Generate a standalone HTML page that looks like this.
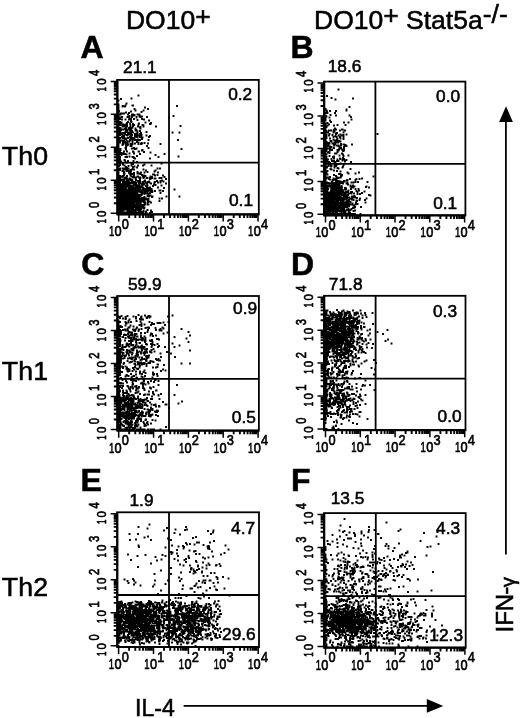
<!DOCTYPE html>
<html><head><meta charset="utf-8"><title>Figure</title>
<style>html,body{margin:0;padding:0;background:#fff}svg{display:block}text{font-family:"Liberation Sans",sans-serif;fill:#000;stroke:#000;stroke-width:.55px}.tk{font-size:14.7px;stroke-width:.65px}.tv{font-size:13.6px;stroke-width:.65px}.h{font-size:26.5px}.r{font-size:26.7px;letter-spacing:.15px}.p{font-size:32px;font-weight:bold}.n{font-size:17.3px}.ax{font-size:24px}</style></head><body>
<svg width="520" height="718" viewBox="0 0 520 718">
<rect width="520" height="718" fill="#fff"/>
<path d="M140 183h.01M127 206.5h.01M118.5 198h.01M118.5 213h.01M128.5 197h.01M132 208h.01M126.5 199h.01M118.5 192.5h.01M129.5 173h.01M128.5 200h.01M139 196.5h.01M136 202h.01M128.5 187.5h.01M133.5 197h.01M118.5 193.5h.01M127 191h.01M128.5 187h.01M126 196h.01M133.5 210h.01M122 203.5h.01M147 199.5h.01M133 192h.01M123.5 213h.01M136.5 202.5h.01M134 212h.01M122 185h.01M141.5 212h.01M118.5 199h.01M134 196.5h.01M129.5 209h.01M132.5 186.5h.01M122 213h.01M118.5 190.5h.01M118.5 199.5h.01M118.5 200h.01M124 198h.01M142 194h.01M140.5 200h.01M121.5 194.5h.01M128 211.5h.01M131 204.5h.01M118.5 200.5h.01M118.5 204h.01M125 185h.01M127.5 198.5h.01M130.5 213h.01M139.5 209.5h.01M131 210.5h.01M118.5 202.5h.01M146 191h.01M120 201.5h.01M118.5 198.5h.01M120.5 191h.01M118.5 202h.01M118.5 206h.01M134 197h.01M132.5 186h.01M138.5 213h.01M132 213h.01M125.5 178h.01M124.5 202.5h.01M128 198h.01M126.5 206.5h.01M137.5 189h.01M124 195h.01M133 187.5h.01M130.5 191h.01M123.5 209.5h.01M121 187.5h.01M136.5 197h.01M120.5 195h.01M143.5 184h.01M119 199h.01M118.5 210.5h.01M128.5 198h.01M136.5 185h.01M135 184.5h.01M120.5 210.5h.01M131.5 170h.01M130 210.5h.01M129 183.5h.01M118.5 190h.01M120 185h.01M134.5 195h.01M147.5 202.5h.01M119 179h.01M118.5 175h.01M126 209.5h.01M126.5 197h.01M128.5 200.5h.01M137.5 213h.01M120.5 201h.01M145.5 213h.01M123 210.5h.01M119.5 191.5h.01M130.5 183h.01M120 195.5h.01M138.5 189h.01M123 186.5h.01M118.5 179.5h.01M128 199.5h.01M129 189.5h.01M144.5 200h.01M122.5 192h.01M135 202.5h.01M138 209h.01M118.5 195.5h.01M128 181.5h.01M132 195h.01M132.5 202h.01M127 212.5h.01M132 207h.01M121.5 191h.01M136 209h.01M147.5 204.5h.01M135 188.5h.01M128.5 196.5h.01M145 189h.01M131 213h.01M118.5 186h.01M128.5 208.5h.01M119.5 201.5h.01M133.5 194.5h.01M137 207h.01M136.5 203.5h.01M123 180h.01M127 200h.01M124 202.5h.01M142.5 184h.01M137.5 199h.01M131 194h.01M127.5 181h.01M144.5 184.5h.01M118.5 179h.01M133.5 203h.01M126 186.5h.01M138.5 189.5h.01M135 199.5h.01M118.5 205h.01M125 195h.01M150 213h.01M131.5 199.5h.01M129.5 184h.01M139.5 200h.01M120.5 212.5h.01M125.5 185h.01M123.5 191h.01M134 194h.01M137.5 199.5h.01M123 189.5h.01M133.5 204h.01M119.5 187h.01M126.5 196h.01M126.5 194.5h.01M122.5 199.5h.01M139.5 191.5h.01M121.5 180.5h.01M118.5 197.5h.01M133.5 188h.01M127.5 202.5h.01M132.5 200.5h.01M131.5 213h.01M130.5 206.5h.01M136 190.5h.01M134 202.5h.01M131 202h.01M118.5 177.5h.01M134 213h.01M135.5 213h.01M124 204.5h.01M121 196h.01M123 213h.01M145 202.5h.01M133 207.5h.01M119 192.5h.01M120 207h.01M123 200h.01M123 194h.01M132 192.5h.01M131.5 207.5h.01M119.5 207.5h.01M120 213h.01M127.5 186h.01M119 197.5h.01M118.5 191.5h.01M146 211.5h.01M124 183.5h.01M130 197h.01M136 183h.01M133 204.5h.01M119 213h.01M118.5 186.5h.01M125 212.5h.01M140 213h.01M139.5 202h.01M130 191h.01M129 185h.01M126.5 202h.01M119.5 213h.01M119 188h.01M135 183.5h.01M155 191h.01M131.5 212h.01M124 175h.01M132 200h.01M129.5 213h.01M118.5 212h.01M136.5 200h.01M130 209h.01M131 190.5h.01M142.5 182h.01M133 192.5h.01M126.5 181h.01M133 198h.01M124.5 197.5h.01M118.5 208.5h.01M130 204.5h.01M123.5 185.5h.01M124.5 184.5h.01M126.5 182.5h.01M139.5 200.5h.01M118.5 197h.01M128 212h.01M120 192.5h.01M141 186.5h.01M139 186.5h.01M128.5 213h.01M134.5 189h.01M126 198.5h.01M118.5 194.5h.01M123 188.5h.01M121.5 193.5h.01M135 198h.01M118.5 211h.01M132.5 209.5h.01M138 199.5h.01M132 207.5h.01M125.5 213h.01M124 192.5h.01M118.5 207.5h.01M126 197.5h.01M118.5 191h.01M118.5 207h.01M140.5 209h.01M118.5 210h.01M119 206h.01M118.5 209h.01M143 205.5h.01M136.5 213h.01M132 211.5h.01M121.5 191.5h.01M121 213h.01M120.5 200h.01M132.5 209h.01M123 197.5h.01M118.5 194h.01M125 200h.01M122.5 208.5h.01M121 211.5h.01M128 191.5h.01M132.5 204h.01M144 189.5h.01M134 185h.01M124.5 184h.01M128 185h.01M135 182h.01M132.5 205.5h.01M131 171.5h.01M148.5 194h.01M120 205h.01M128 205h.01M122 203h.01M137.5 200.5h.01M141 207h.01M120 203.5h.01M120.5 199.5h.01M137 185.5h.01M118.5 185h.01M127.5 181.5h.01M124.5 207h.01M134.5 192h.01M121.5 198h.01M127.5 195h.01M127 195.5h.01M140.5 201.5h.01M118.5 181.5h.01M138 187.5h.01M135 192.5h.01M130 191.5h.01M131.5 209h.01M120 202h.01M124.5 207.5h.01M129.5 198.5h.01M132.5 213h.01M122 189h.01M118.5 185.5h.01M126.5 204.5h.01M136 186h.01M136 195h.01M134.5 190h.01M130 197.5h.01M128 201h.01M125.5 193h.01M118.5 211.5h.01M121 207.5h.01M121.5 204.5h.01M149 189.5h.01M118.5 203.5h.01M118.5 206.5h.01M122.5 199h.01M120 189.5h.01M133 177.5h.01M122.5 213h.01M126 169.5h.01M140 179h.01M139 213h.01M130.5 197h.01M131 209.5h.01M118.5 176h.01M139 195h.01M121 196.5h.01M118.5 188.5h.01M128 200h.01M122 199h.01M136.5 196h.01M125.5 207.5h.01M139 184.5h.01M133.5 213h.01M122.5 188h.01M126.5 185h.01M122 190h.01M122 201h.01M120 208h.01M143 199.5h.01M134.5 212.5h.01M130.5 206h.01M132 190h.01M121.5 199h.01M118.5 187h.01M145 193h.01M121 206h.01M123.5 189h.01M118.5 183h.01M140 179.5h.01M153 186h.01M151 210.5h.01M136 213h.01M143 207.5h.01M135 189h.01M130 213h.01M126 208.5h.01M140.5 203.5h.01M139 200h.01M129.5 193h.01M121 211h.01M132 202h.01M118.5 189.5h.01M131 197h.01M132.5 193.5h.01M118.5 208h.01M130 196.5h.01M135 210.5h.01M136 180h.01M136 212h.01M121.5 176.5h.01M135 205.5h.01M120.5 210h.01M144 205h.01M134.5 198.5h.01M131.5 181.5h.01M128 211h.01M140 211h.01M124 200h.01M133 208h.01M129.5 190h.01M126 199.5h.01M139 201h.01M137 213h.01M123 190h.01M134 185.5h.01M143.5 199h.01M118.5 184h.01M138.5 208h.01M145.5 212.5h.01M121.5 197h.01M132.5 197.5h.01M125 177.5h.01M119 203h.01M122.5 209h.01M128.5 210.5h.01M123.5 210.5h.01M142.5 201.5h.01M131 195.5h.01M133.5 200h.01M118.5 195h.01M128.5 202.5h.01M131 199.5h.01M124 203h.01M125.5 190h.01M118.5 196h.01M138 213h.01M130.5 201.5h.01M129.5 202.5h.01M118.5 183.5h.01M130 186h.01M118.5 187.5h.01M135 199h.01M119.5 200.5h.01M127 208h.01M125 198.5h.01M141.5 199.5h.01M151 211h.01M125 185.5h.01M118.5 192h.01M130.5 204.5h.01M124 182h.01M121.5 195.5h.01M131 185.5h.01M118.5 201.5h.01M133 189.5h.01M123.5 182.5h.01M125.5 191h.01M119 186h.01M135.5 178.5h.01M122 210.5h.01M135 195h.01M121 212.5h.01M134.5 213h.01M121.5 187h.01M123.5 193.5h.01M131.5 192h.01M137.5 191.5h.01M122.5 211.5h.01M123.5 205.5h.01M130.5 185.5h.01M134.5 205.5h.01M128.5 198.5h.01M121.5 184.5h.01M133 194.5h.01M124 198.5h.01M126.5 180.5h.01M125 201h.01M141 190.5h.01M133.5 193h.01M126 195h.01M132 197h.01M123 206h.01M135.5 201.5h.01M131.5 212.5h.01M134.5 210.5h.01M133.5 206h.01M120 211.5h.01M138 207.5h.01M123 199.5h.01M120 198.5h.01M129 187.5h.01M119 200.5h.01M124.5 185.5h.01M118.5 196.5h.01M119 209.5h.01M135 196.5h.01M124 204h.01M131.5 201.5h.01M131.5 203.5h.01M137.5 181h.01M137 188.5h.01M124.5 183h.01M130.5 212h.01M152 197h.01M139.5 205.5h.01M118.5 189h.01M135 206h.01M129 212.5h.01M137.5 194.5h.01M142 194.5h.01M130.5 194.5h.01M122.5 168.5h.01M139 206.5h.01M127 179h.01M127 185h.01M122.5 193.5h.01M118.5 178.5h.01M144.5 199h.01M137 194.5h.01M120 192h.01M131 209h.01M121.5 212.5h.01M123 199h.01M133.5 185h.01M148.5 195.5h.01M134 183.5h.01M134 193h.01M141.5 201.5h.01M129 210h.01M129 213h.01M130.5 187.5h.01M144.5 207.5h.01M132.5 190h.01M128 197h.01M132.5 195.5h.01M128 213h.01M129 206.5h.01M142 175h.01M137 197h.01M137.5 205h.01M125.5 197.5h.01M139 207h.01M122 192h.01M132.5 200h.01M142 205h.01M121.5 213h.01M119 209h.01M126.5 180h.01M137.5 188h.01M119 207.5h.01M134 199.5h.01M152.5 196.5h.01M123 190.5h.01M142.5 200h.01M121 186.5h.01M121 195h.01M132 180h.01M125 208h.01M120.5 197h.01M132.5 180.5h.01M119.5 200h.01M118.5 204.5h.01M121 194h.01M123.5 201.5h.01M127 202h.01M120.5 211h.01M135.5 189h.01M133.5 195h.01M118.5 182.5h.01M129 182h.01M119 187.5h.01M143 188h.01M129.5 187h.01M121.5 180h.01M144.5 191.5h.01M118.5 180.5h.01M140.5 202.5h.01M142.5 186h.01M121 204.5h.01M129.5 186.5h.01M143 182.5h.01M137.5 186h.01M126.5 197.5h.01M131.5 193.5h.01M127 208.5h.01M124.5 183.5h.01M144 202h.01M119 194.5h.01M142.5 187h.01M135.5 188.5h.01M123.5 197.5h.01M130.5 179h.01M130 201h.01M118.5 193h.01M140 202h.01M131 186.5h.01M119.5 199.5h.01M144.5 200.5h.01M147 189.5h.01M129 193h.01M138 195h.01M146 199.5h.01M118.5 178h.01M136 205h.01M138.5 203.5h.01M136.5 205h.01M124 193h.01M118.5 209.5h.01M122.5 177.5h.01M130 211.5h.01M136.5 189.5h.01M149 196.5h.01M121 189.5h.01M118.5 203h.01M131.5 190.5h.01M131.5 176.5h.01M129.5 194.5h.01M141.5 213h.01M135 210h.01M118.5 212.5h.01M123.5 170.5h.01M123.5 201h.01M138 176.5h.01M126 194h.01M123 182h.01M126 191h.01M124.5 186.5h.01M146.5 213h.01M128 202h.01M118.5 176.5h.01M130 202.5h.01M126.5 201h.01M119.5 182.5h.01M134 206.5h.01M133 199.5h.01M125.5 191.5h.01M151.5 189h.01M125 205.5h.01M127.5 199h.01M129 198.5h.01M126 185h.01M144 197.5h.01M143 188.5h.01M139 195.5h.01M128.5 190h.01M128.5 192h.01M123 206.5h.01M136.5 203h.01M131 197.5h.01M137 201.5h.01M124 207.5h.01M136 193.5h.01M120.5 213h.01M145 204.5h.01M133.5 207.5h.01M121 185h.01M137.5 195h.01M132.5 203h.01M141 205.5h.01M119 205.5h.01M126 207.5h.01M136 197.5h.01M131 196h.01M137.5 186.5h.01M129.5 171.5h.01M124.5 205h.01M127.5 211h.01M123.5 188h.01M129 201.5h.01M134 175h.01M121 204h.01M120.5 194h.01M144.5 172.5h.01M142.5 198h.01M122 187h.01M125 200.5h.01M135 207.5h.01M120.5 185.5h.01M118.5 201h.01M135.5 197.5h.01M137 192h.01M126 213h.01M134.5 199h.01M121 193h.01M136.5 191h.01M121 199h.01M152 212h.01M127 198h.01M142 192h.01M128.5 201.5h.01M139.5 197.5h.01M125.5 196.5h.01M133.5 198h.01M129 190h.01M119 201h.01M132 203.5h.01M121 189h.01M133 197.5h.01M127.5 192h.01M130.5 201h.01M138.5 182.5h.01M128 196h.01M124 189h.01M126 203.5h.01M144.5 204h.01M128 190h.01M126 187.5h.01M126.5 195.5h.01M126.5 191.5h.01M119.5 189h.01M137 209.5h.01M127 178.5h.01M143 213h.01M122.5 201.5h.01M143 190h.01M136 207h.01M147.5 210h.01M126.5 208.5h.01M132 198h.01M133 186.5h.01M138 210.5h.01M133 189h.01M122.5 202.5h.01M139 191.5h.01M127.5 183.5h.01M144 208.5h.01M125 202h.01M131.5 186.5h.01M143 200h.01M130 189h.01M138.5 201.5h.01M140.5 213h.01M121.5 206.5h.01M145 180.5h.01M134.5 196.5h.01M128.5 190.5h.01M131.5 206h.01M150 190.5h.01M131 195h.01M118.5 182h.01M131 192.5h.01M121.5 186.5h.01M137 206h.01M122.5 196.5h.01M131.5 181h.01M131 193h.01M131.5 190h.01M136 195.5h.01M129.5 201.5h.01M122 204h.01M119 187h.01M134.5 211.5h.01M121.5 187.5h.01M129.5 197.5h.01M129 195.5h.01M119 182.5h.01M123 196.5h.01M140.5 192.5h.01M127.5 200h.01M130.5 190h.01M118.5 180h.01M126 189.5h.01M122.5 184h.01M137 195h.01M133 201.5h.01M122 189.5h.01M127 181.5h.01M138.5 195.5h.01M118.5 205.5h.01M142.5 207.5h.01M133.5 186.5h.01M142.5 193h.01M131 208.5h.01M125 194h.01M132.5 188.5h.01M139.5 213h.01M132 187.5h.01M134 198h.01M129 201h.01M119.5 209h.01M159.5 201h.01M135.5 199h.01M136 177.5h.01M119.5 204.5h.01M133.5 185.5h.01M140 202.5h.01M128.5 206.5h.01M127 197.5h.01M131.5 199h.01M118.5 188h.01M125 213h.01M142 193h.01M120 196h.01M133 197h.01M137.5 200h.01M127.5 205h.01M121 202h.01M128.5 211.5h.01M127.5 202h.01M130 201.5h.01M137 203.5h.01M120.5 197.5h.01M143.5 176h.01M120.5 203h.01M129 205h.01M130 195.5h.01M132 196.5h.01M126 196.5h.01M126.5 205h.01M125 207.5h.01M119 200h.01M127 191.5h.01M120 203h.01M135.5 202h.01M120.5 207.5h.01M124.5 191h.01M123 204h.01M127 194.5h.01M124 207h.01M135.5 192.5h.01M133.5 187.5h.01M151 202.5h.01M128 192.5h.01M132.5 199.5h.01M121.5 201h.01M132.5 191.5h.01M121 200.5h.01M122.5 194h.01M134 204.5h.01M137.5 193.5h.01M127 199h.01M125.5 201.5h.01M129 204.5h.01M127 203.5h.01M122.5 195.5h.01M123.5 203.5h.01M126.5 209h.01M127.5 194.5h.01M121 208.5h.01M144.5 192h.01M127 199.5h.01M141.5 208.5h.01M123.5 200h.01M127 183.5h.01M132 197.5h.01M123.5 187h.01M135 213h.01M122.5 201h.01M137 205h.01M123 197h.01M123 195h.01M144.5 184h.01M138 188.5h.01M133 202.5h.01M121.5 185h.01M124 196.5h.01M119.5 203h.01M122.5 163.5h.01M118.5 173h.01M125.5 192h.01M123 209.5h.01M120.5 202h.01M127.5 213h.01M120.5 205h.01M132 196h.01M148 202h.01M130 205.5h.01M155 175.5h.01M146.5 198.5h.01M137.5 205.5h.01M146.5 178h.01M125 198h.01M123.5 171.5h.01M121.5 211h.01M138.5 188h.01M123.5 204.5h.01M131 196.5h.01M120 181h.01M129.5 193.5h.01M129.5 202h.01M119 201.5h.01M135.5 188h.01M126.5 177.5h.01M124 174h.01M140.5 196.5h.01M124 186.5h.01M133.5 182h.01M141 195h.01M131.5 208.5h.01M132 206.5h.01M145 199.5h.01M129.5 173.5h.01M123 191.5h.01M125.5 182h.01M139 188.5h.01M141 209.5h.01M135.5 198.5h.01M148.5 199h.01M124.5 196.5h.01M127.5 210h.01M135.5 210h.01M138.5 209h.01M132.5 194h.01M120.5 201.5h.01M130 194h.01M122.5 184.5h.01M124.5 178.5h.01M140.5 187h.01M136 184.5h.01M128.5 199.5h.01M128 210h.01M126.5 207h.01M130 208.5h.01M129 199h.01M140 190.5h.01M119 204.5h.01M130.5 197.5h.01M135 196h.01M121.5 186h.01M130.5 203.5h.01M126.5 184h.01M141 199.5h.01M123.5 207h.01M122.5 190.5h.01M138.5 198h.01M139 211.5h.01M131 192h.01M130.5 191.5h.01M130.5 180h.01M122.5 197h.01M133 195h.01M125 199h.01M137.5 202h.01M120 200h.01M126.5 191h.01M125.5 188.5h.01M144.5 197h.01M129.5 199h.01M136.5 193h.01M131 203.5h.01M134 177h.01M128 186.5h.01M130 200.5h.01M135.5 207.5h.01M131.5 187.5h.01M118.5 184.5h.01M127 196h.01M135 195.5h.01M128.5 188h.01M138.5 210h.01M124.5 203.5h.01M132 183h.01M148.5 204.5h.01M140 196.5h.01M136.5 192h.01M145.5 192h.01M127.5 199.5h.01M140 195h.01M120 197.5h.01M132 210.5h.01M120 188h.01M132 211h.01M140 199h.01M123 200.5h.01M137 202.5h.01M122.5 206h.01M129.5 203h.01M134.5 184.5h.01M134 200.5h.01M139 191h.01M122.5 204.5h.01M126 205h.01M128.5 210h.01M130.5 209.5h.01M129 199.5h.01M129 198h.01M147.5 196h.01M128.5 171h.01M126 200.5h.01M134 198.5h.01M139.5 198h.01M122 202.5h.01M141 204.5h.01M134 210.5h.01M124 209h.01M144 189h.01M143.5 199.5h.01M126.5 196.5h.01M122 205.5h.01M131 202.5h.01M145 199h.01M128.5 203h.01M128.5 194h.01M126 205.5h.01M122 201.5h.01M143.5 211h.01M136 202.5h.01M125 209.5h.01M125.5 192.5h.01M151.5 189.5h.01M130 199h.01M129 202.5h.01M133.5 174h.01M128 184h.01M140.5 207h.01M127.5 207h.01M125.5 201h.01M135.5 194h.01M160 168.5h.01M129.5 179.5h.01M123 176h.01M159.5 178h.01M149.5 201.5h.01M132 187h.01M145.5 182.5h.01M154.5 182.5h.01M142.5 192h.01M135.5 185h.01M144 175.5h.01M154.5 178.5h.01M146 170.5h.01M137.5 172h.01M163.5 181.5h.01M138.5 188.5h.01M148 200h.01M160.5 190.5h.01M130 179.5h.01M145.5 190.5h.01M160.5 193h.01M138 196.5h.01M166 179h.01M127.5 179.5h.01M137.5 190.5h.01M142.5 199.5h.01M147 183.5h.01M163 191h.01M137.5 176.5h.01M150 193h.01M127.5 193.5h.01M153 174.5h.01M154 184.5h.01M135.5 196.5h.01M122.5 171h.01M139 181h.01M150.5 176.5h.01M159.5 190.5h.01M127.5 184h.01M142 198.5h.01M144.5 188.5h.01M143.5 177.5h.01M151 183.5h.01M124 180.5h.01M149.5 182.5h.01M147 187h.01M162 180.5h.01M157 181h.01M147 187.5h.01M159.5 198.5h.01M161.5 185.5h.01M148 188h.01M122.5 191h.01M150 187.5h.01M150.5 191h.01M123 184.5h.01M139.5 190h.01M162 198.5h.01M146 186h.01M160.5 182.5h.01M149 181.5h.01M147.5 185.5h.01M143 176.5h.01M147.5 192.5h.01M147.5 172h.01M147.5 193h.01M166.5 196.5h.01M132 174h.01M155.5 178.5h.01M140 189.5h.01M130.5 173.5h.01M151.5 165.5h.01M150.5 179h.01M151 190h.01M157.5 175h.01M129.5 178.5h.01M148 182h.01M140.5 174h.01M147.5 178h.01M149.5 189h.01M130.5 170h.01M166 183.5h.01M158 172.5h.01M163 175.5h.01M143.5 178h.01M139 181.5h.01M150 178h.01M150.5 190h.01M144.5 194h.01M150 179h.01M143 184.5h.01M150.5 195.5h.01M143 165.5h.01M161.5 178h.01M140.5 191h.01M148 188.5h.01M139 177.5h.01M148 191h.01M164 188h.01M143 176h.01M164.5 177h.01M149.5 188.5h.01M134 182h.01M144 181.5h.01M120 195h.01M154.5 171.5h.01M147 193.5h.01M152 190.5h.01M141.5 185.5h.01M154 174.5h.01M152.5 191.5h.01M158 187.5h.01M127 176h.01M140.5 188.5h.01M139 173.5h.01M155 182h.01M152 178h.01M140.5 177.5h.01M134.5 166.5h.01M132 188h.01M144 177h.01M148 190.5h.01M152 177h.01M131.5 201h.01M152 192h.01M157.5 168.5h.01M160.5 181h.01M155.5 185h.01M140 181.5h.01M146 182.5h.01M145.5 176h.01M141.5 184h.01M158 182.5h.01M155.5 170.5h.01M144.5 198.5h.01M124 141h.01M131.5 146h.01M130.5 130.5h.01M118.5 110.5h.01M123 154h.01M121 123.5h.01M161.5 163.5h.01M122 117h.01M122 133.5h.01M124.5 134.5h.01M132 148.5h.01M119 155.5h.01M131.5 98.5h.01M141 135.5h.01M142.5 125h.01M126 143.5h.01M130.5 146h.01M129 128h.01M118.5 151h.01M126 146h.01M128 129.5h.01M133 124h.01M130 130h.01M128 133h.01M128.5 134h.01M125.5 129.5h.01M137.5 114.5h.01M145.5 122.5h.01M123 153.5h.01M118.5 138.5h.01M131 119h.01M130 134h.01M118.5 123.5h.01M148.5 140h.01M151 123h.01M120.5 125h.01M131.5 128.5h.01M118.5 128.5h.01M138.5 151.5h.01M134 115.5h.01M132.5 144h.01M127 123h.01M135 135.5h.01M122.5 144.5h.01M127 151.5h.01M133 105.5h.01M127 135h.01M130.5 125.5h.01M126.5 126h.01M120.5 150h.01M123 126.5h.01M122.5 145h.01M131.5 163.5h.01M124.5 168.5h.01M122.5 106.5h.01M118.5 118h.01M123 142.5h.01M125.5 105.5h.01M123 133h.01M124 138h.01M136.5 130h.01M130.5 144h.01M131 137.5h.01M128.5 133h.01M123.5 153h.01M133.5 161h.01M138.5 142.5h.01M119.5 119h.01M122.5 133.5h.01M119.5 128h.01M132.5 138h.01M127 157h.01M141 144h.01M127.5 141.5h.01M131.5 137.5h.01M125 138.5h.01M131 111.5h.01M118.5 119h.01M130 127.5h.01M122 119.5h.01M137 162h.01M118.5 109.5h.01M123 138h.01M118.5 134.5h.01M129.5 141.5h.01M142.5 137.5h.01M137.5 133.5h.01M131 138.5h.01M123 113.5h.01M140.5 117h.01M122 140.5h.01M130.5 139.5h.01M135.5 110.5h.01M123.5 140.5h.01M118.5 116h.01M131 129.5h.01M122 134h.01M126 144h.01M134.5 115h.01M142 139h.01M160.5 144h.01M129.5 153.5h.01M126 130h.01M122.5 136h.01M119 140.5h.01M118.5 141h.01M118.5 146.5h.01M124 136.5h.01M142 150.5h.01M121.5 122.5h.01M119.5 140h.01M151 123.5h.01M150 136h.01M118.5 129h.01M119.5 131h.01M133 126h.01M120.5 132.5h.01M133 114.5h.01M125 106.5h.01M135.5 128.5h.01M122.5 129.5h.01M135.5 149h.01M135.5 130.5h.01M126.5 146h.01M127 124.5h.01M146.5 132h.01M125.5 124.5h.01M139 123.5h.01M127.5 170h.01M131 135.5h.01M118.5 133.5h.01M118.5 139h.01M141.5 143h.01M128 134.5h.01M118.5 161.5h.01M125 142h.01M130.5 137.5h.01M132.5 140.5h.01M132.5 142h.01M134 125h.01M125 134.5h.01M148 143.5h.01M127 131h.01M118.5 113.5h.01M135 136.5h.01M138.5 95.5h.01M120.5 114.5h.01M147 146h.01M134 153.5h.01M132 144.5h.01M135 140h.01M142 116.5h.01M146.5 135.5h.01M126 138.5h.01M119 138h.01M137.5 120h.01M133.5 157h.01M145 107.5h.01M138 140h.01M136 135.5h.01M118.5 117.5h.01M138 126.5h.01M136.5 133.5h.01M118.5 112h.01M126 139h.01M134 158h.01M127 125.5h.01M127 169h.01M131 121h.01M118.5 100.5h.01M131 133h.01M134 119h.01M132 135h.01M133 151.5h.01M150 158.5h.01M127.5 145h.01M130.5 135.5h.01M140 135.5h.01M126.5 103.5h.01M119 134h.01M125.5 119.5h.01M129.5 116h.01M121.5 129.5h.01M135 134h.01M132.5 157h.01M134.5 138h.01M148.5 148h.01M118.5 104.5h.01M149 137h.01M118.5 144.5h.01M132.5 127.5h.01M139.5 116.5h.01M136 136.5h.01M143.5 110.5h.01M133 139.5h.01M137.5 131.5h.01M129 132.5h.01M141.5 112h.01M140 127.5h.01M125.5 157h.01M127 126.5h.01M120.5 128h.01M121 130h.01M118.5 128h.01M136.5 148.5h.01M130 140h.01M131 145h.01M124.5 160h.01M126.5 171h.01M132.5 105.5h.01M124 140.5h.01M130 128h.01M137 142h.01M126 128h.01M133.5 152h.01M134.5 109h.01M118.5 140h.01M126 149.5h.01M131 128h.01M139 151.5h.01M142 143.5h.01M140 134h.01M143.5 125.5h.01M129 119.5h.01M123 124.5h.01M118.5 136h.01M149 120.5h.01M119.5 114.5h.01M125.5 125h.01M124 113.5h.01M126 143h.01M125 154h.01M136.5 117.5h.01M143.5 126.5h.01M128 114.5h.01M144.5 143h.01M129.5 117.5h.01M140.5 128.5h.01M141.5 137.5h.01M128.5 166h.01M124 137.5h.01M141.5 135h.01M126 132h.01M126 162.5h.01M127.5 143.5h.01M124.5 125h.01M118.5 137.5h.01M123.5 137.5h.01M130 123.5h.01M118.5 136.5h.01M118.5 158.5h.01M131 132.5h.01M122 137h.01M121 113.5h.01M147 117h.01M133 132.5h.01M128 138h.01M123.5 144h.01M121 99h.01M135 143.5h.01M122.5 126h.01M148 109h.01M119.5 153h.01M123 129.5h.01M124 142.5h.01M150.5 152.5h.01M136.5 136h.01M123 106h.01M118.5 130h.01M127.5 144h.01M125 132.5h.01M156 126.5h.01M126.5 154.5h.01M131.5 122h.01M158.5 157h.01M118.5 160.5h.01M118.5 116.5h.01M128 144.5h.01M127.5 117h.01M138 139.5h.01M142 119h.01M126.5 140.5h.01M125.5 148h.01M143.5 169.5h.01M126 148h.01M125 128.5h.01M140.5 127h.01M132 117h.01M138.5 144h.01M137 140h.01M140 116.5h.01M118.5 125h.01M119.5 141.5h.01M124.5 126h.01M136 134.5h.01M118.5 126.5h.01M141 172.5h.01M132 138h.01M140 140h.01M120 162.5h.01M136 140h.01M138 114.5h.01M134 148h.01M140 131h.01M130 128.5h.01M136.5 117h.01M132 114.5h.01M128 122h.01M139.5 114.5h.01M126 112.5h.01M124 151.5h.01M121 153h.01M144 119.5h.01M132 131h.01M138 135.5h.01M120 130h.01M122.5 138h.01M137 137h.01M155.5 155h.01M119 111h.01M131.5 136.5h.01M139.5 137h.01M119 111.5h.01M130.5 131h.01M131 134.5h.01M120.5 149h.01M118.5 121h.01M130 137h.01M118.5 154h.01M125 129h.01M127.5 135.5h.01M120 122.5h.01M132 115h.01M134.5 149h.01M122.5 136.5h.01M141 133h.01M129 113h.01M138.5 124.5h.01M118.5 137h.01M150 124h.01M142.5 150h.01M137.5 181.5h.01M133 167h.01M120 157h.01M121.5 155h.01M134 169.5h.01M127 162.5h.01M129 172.5h.01M126 167h.01M118.5 171.5h.01M130.5 175.5h.01M123 164.5h.01M120.5 179.5h.01M138 165.5h.01M125.5 169h.01M132.5 169h.01M129.5 156.5h.01M144 152h.01M119 166h.01M118.5 174h.01M118.5 168.5h.01M124.5 173.5h.01M128 161h.01M124 172.5h.01M137 167.5h.01M131.5 174h.01M135 158.5h.01M118.5 174.5h.01M125 160.5h.01M137 156h.01M119.5 181.5h.01M120 165h.01M133.5 176.5h.01M128.5 168.5h.01M134 173h.01M127 168h.01M131.5 165.5h.01M133 164h.01M137.5 173.5h.01M164.5 154h.01M118.5 160h.01M124 172h.01M141.5 184.5h.01M121 161.5h.01M118.5 158h.01M124.5 165.5h.01M144.5 164.5h.01M140 154h.01M118.5 175.5h.01M120 194.5h.01M118.5 173.5h.01M120 188.5h.01M120 184h.01M120 190.5h.01M120 183.5h.01M118.5 181h.01M120 183h.01M120 189h.01M120 159.5h.01M120 176h.01M120 191.5h.01M118.5 166h.01M120 161.5h.01M120 207.5h.01M120 204.5h.01M120 180.5h.01M120 186.5h.01M120 210h.01M120 202.5h.01M120 199h.01M120 209h.01M120 187.5h.01M120 193.5h.01M118.5 127h.01M120 131h.01M120 138.5h.01M118.5 151.5h.01M118.5 120.5h.01M118.5 153.5h.01M118.5 108h.01M118.5 163.5h.01M120 160h.01M120 131.5h.01M118.5 135.5h.01M120 177.5h.01M120 158h.01M120 117.5h.01M118.5 146h.01M120 138h.01M120 142.5h.01M118.5 144h.01M118.5 159.5h.01M120 128h.01M120 151.5h.01M120 168.5h.01M120 164h.01M118.5 150.5h.01M118.5 106.5h.01M120 133h.01M120 132.5h.01M120 135h.01M120 170h.01M120 141h.01M120 154h.01M118.5 132.5h.01M118.5 122h.01M120 119h.01M118.5 127.5h.01M118.5 121.5h.01M120 133.5h.01M120 122h.01M118.5 141.5h.01M118.5 124.5h.01M118.5 154.5h.01M118.5 131.5h.01M120 123.5h.01M120 152.5h.01M118.5 112.5h.01M118.5 143.5h.01M120 158.5h.01M118.5 157h.01M118.5 124h.01M118.5 107h.01M118.5 169.5h.01M118.5 148h.01M118.5 148.5h.01M118.5 153h.01M118.5 139.5h.01M120 134h.01M118.5 107.5h.01M118.5 145.5h.01M118.5 147.5h.01M120 124.5h.01M177 106h.01M173.5 116h.01M180.5 126h.01M172.5 132.5h.01M179.5 132.5h.01M178 140h.01M181.5 149h.01M178.5 156.5h.01M169 117.5h.01M174.5 189.5h.01M179.5 196.5h.01" fill="none" stroke="#000" stroke-width="1.9" stroke-linecap="square"/>
<rect x="117.2" y="79.9" width="141.6" height="134.6" fill="none" stroke="#000" stroke-width="1.8"/>
<path d="M169 79.9V214.5M117.2 162.7H258.8" stroke="#000" stroke-width="1.8" fill="none"/>
<path d="M118.7 214.5v7M117.2 213.2h-6.5M153.5 214.5v7M117.2 180.2h-6.5M188.4 214.5v7M117.2 147.3h-6.5M223.2 214.5v7M117.2 114.3h-6.5M258 214.5v7M117.2 81.4h-6.5" stroke="#000" stroke-width="1.5" fill="none"/>
<path d="M129.2 214.5v3.6M117.2 203.3h-3.4M135.3 214.5v3.6M117.2 197.5h-3.4M139.7 214.5v3.6M117.2 193.4h-3.4M143 214.5v3.6M117.2 190.2h-3.4M145.8 214.5v3.6M117.2 187.6h-3.4M148.1 214.5v3.6M117.2 185.4h-3.4M150.2 214.5v3.6M117.2 183.4h-3.4M151.9 214.5v3.6M117.2 181.8h-3.4M164 214.5v3.6M117.2 170.3h-3.4M170.1 214.5v3.6M117.2 164.5h-3.4M174.5 214.5v3.6M117.2 160.4h-3.4M177.9 214.5v3.6M117.2 157.2h-3.4M180.6 214.5v3.6M117.2 154.6h-3.4M183 214.5v3.6M117.2 152.4h-3.4M185 214.5v3.6M117.2 150.5h-3.4M186.8 214.5v3.6M117.2 148.8h-3.4M198.8 214.5v3.6M117.2 137.4h-3.4M205 214.5v3.6M117.2 131.6h-3.4M209.3 214.5v3.6M117.2 127.5h-3.4M212.7 214.5v3.6M117.2 124.3h-3.4M215.4 214.5v3.6M117.2 121.7h-3.4M217.8 214.5v3.6M117.2 119.5h-3.4M219.8 214.5v3.6M117.2 117.5h-3.4M221.6 214.5v3.6M117.2 115.9h-3.4M233.7 214.5v3.6M117.2 104.4h-3.4M239.8 214.5v3.6M117.2 98.6h-3.4M244.1 214.5v3.6M117.2 94.5h-3.4M247.5 214.5v3.6M117.2 91.3h-3.4M250.3 214.5v3.6M117.2 88.7h-3.4M252.6 214.5v3.6M117.2 86.5h-3.4M254.6 214.5v3.6M117.2 84.6h-3.4M256.4 214.5v3.6M117.2 82.9h-3.4" stroke="#000" stroke-width="1.9" fill="none"/>
<path d="M117.5 79.9V214.5" stroke="#000" stroke-width="2" fill="none"/>
<path d="M117.2 214.3H258.8" stroke="#000" stroke-width="2" fill="none"/>
<text class="tk" transform="translate(108.9 236.4) scale(0.65 1)">1</text>
<text class="tk" transform="translate(114.5 236.4) scale(0.87 1)">0</text>
<text class="tk" transform="translate(121.8 229) scale(0.87 1)">0</text>
<text class="tk" transform="translate(144.4 236.4) scale(0.65 1)">1</text>
<text class="tk" transform="translate(150 236.4) scale(0.87 1)">0</text>
<text class="tk" transform="translate(157.3 229) scale(0.87 1)">1</text>
<text class="tk" transform="translate(178.9 236.4) scale(0.65 1)">1</text>
<text class="tk" transform="translate(184.5 236.4) scale(0.87 1)">0</text>
<text class="tk" transform="translate(191.8 229) scale(0.87 1)">2</text>
<text class="tk" transform="translate(213.8 236.4) scale(0.65 1)">1</text>
<text class="tk" transform="translate(219.4 236.4) scale(0.87 1)">0</text>
<text class="tk" transform="translate(226.7 229) scale(0.87 1)">3</text>
<text class="tk" transform="translate(248.1 236.4) scale(0.65 1)">1</text>
<text class="tk" transform="translate(253.7 236.4) scale(0.87 1)">0</text>
<text class="tk" transform="translate(261 229) scale(0.87 1)">4</text>
<text class="tv" transform="translate(105.8 223.5) rotate(-90) scale(0.59 1)">1</text>
<text class="tv" transform="translate(105.8 216.9) rotate(-90) scale(0.84 1)">0</text>
<text class="tv" transform="translate(98.8 208) rotate(-90) scale(0.82 1.05)">0</text>
<text class="tv" transform="translate(105.8 190.4) rotate(-90) scale(0.59 1)">1</text>
<text class="tv" transform="translate(105.8 183.8) rotate(-90) scale(0.84 1)">0</text>
<text class="tv" transform="translate(98.8 174.9) rotate(-90) scale(0.82 1.05)">1</text>
<text class="tv" transform="translate(105.8 158) rotate(-90) scale(0.59 1)">1</text>
<text class="tv" transform="translate(105.8 151.4) rotate(-90) scale(0.84 1)">0</text>
<text class="tv" transform="translate(98.8 142.5) rotate(-90) scale(0.82 1.05)">2</text>
<text class="tv" transform="translate(105.8 125) rotate(-90) scale(0.59 1)">1</text>
<text class="tv" transform="translate(105.8 118.4) rotate(-90) scale(0.84 1)">0</text>
<text class="tv" transform="translate(98.8 109.5) rotate(-90) scale(0.82 1.05)">3</text>
<text class="tv" transform="translate(105.8 91.4) rotate(-90) scale(0.59 1)">1</text>
<text class="tv" transform="translate(105.8 84.8) rotate(-90) scale(0.84 1)">0</text>
<text class="tv" transform="translate(98.8 75.9) rotate(-90) scale(0.82 1.05)">4</text>
<path d="M354.5 207.5h.01M335.5 199h.01M340 214h.01M327.5 208.5h.01M325.5 209.5h.01M327 203.5h.01M325.5 196h.01M326.5 214h.01M343.5 204.5h.01M325.5 197.5h.01M334 200h.01M325.5 198.5h.01M325.5 185.5h.01M325.5 202.5h.01M332 198h.01M329.5 195.5h.01M325.5 203h.01M329 206.5h.01M345.5 212h.01M329.5 214h.01M333 214h.01M325.5 177h.01M337.5 202h.01M332 214h.01M325.5 199h.01M325.5 200.5h.01M325.5 183h.01M340.5 207.5h.01M325.5 210h.01M330 212.5h.01M333.5 191.5h.01M330 206.5h.01M338 205h.01M339 205h.01M346.5 205h.01M325.5 201h.01M325.5 212h.01M329 194h.01M329 203.5h.01M338.5 214h.01M337 204h.01M331.5 204h.01M327.5 207.5h.01M334.5 179.5h.01M341 192.5h.01M336 206.5h.01M336.5 179.5h.01M325.5 192.5h.01M341 198.5h.01M338.5 186.5h.01M353 187.5h.01M347.5 197.5h.01M339 199.5h.01M334 206h.01M338 185.5h.01M329.5 198.5h.01M337.5 201h.01M340.5 198.5h.01M338.5 194h.01M342 198h.01M333.5 214h.01M345 210.5h.01M341.5 213h.01M327 208h.01M340.5 193.5h.01M335.5 204.5h.01M325.5 206h.01M326.5 201h.01M339 202.5h.01M325.5 207h.01M344 199h.01M334 197.5h.01M337.5 199h.01M343 192h.01M325.5 202h.01M360.5 214h.01M333 189h.01M331.5 186.5h.01M325.5 213.5h.01M330 208.5h.01M325.5 194.5h.01M334.5 200.5h.01M328 197.5h.01M330.5 208h.01M337 196.5h.01M332.5 193h.01M326.5 186.5h.01M336.5 178h.01M347 204.5h.01M325.5 195.5h.01M329 202h.01M325.5 194h.01M333.5 196h.01M335 210h.01M325.5 203.5h.01M341 201.5h.01M346.5 198.5h.01M338.5 195h.01M339.5 213.5h.01M342.5 199.5h.01M335 187h.01M339 196.5h.01M346 192.5h.01M336.5 187.5h.01M325.5 193h.01M332 211h.01M335.5 196.5h.01M348.5 190.5h.01M325.5 214h.01M331 202.5h.01M325.5 191.5h.01M334 208.5h.01M348.5 206h.01M348.5 208.5h.01M329.5 193h.01M325.5 200h.01M325.5 193.5h.01M343 207.5h.01M333.5 204.5h.01M325.5 171.5h.01M338 192h.01M335.5 198.5h.01M355 214h.01M328.5 205h.01M341 192h.01M347.5 206h.01M341.5 193.5h.01M329 210.5h.01M349 201h.01M327 203h.01M329.5 199.5h.01M325.5 212.5h.01M336.5 189h.01M325.5 199.5h.01M326 214h.01M328.5 212h.01M340 202.5h.01M331.5 214h.01M334 186h.01M345.5 202.5h.01M327 214h.01M355 197.5h.01M330 214h.01M348.5 212.5h.01M346 189h.01M332.5 207.5h.01M338 183h.01M340.5 189.5h.01M325.5 197h.01M325.5 205h.01M339 174h.01M332.5 200h.01M328 193.5h.01M329.5 200.5h.01M346 192h.01M339 185h.01M334 211h.01M335 204.5h.01M336.5 191.5h.01M344 199.5h.01M341 202.5h.01M335 202.5h.01M335.5 208.5h.01M326 209h.01M334 204.5h.01M325.5 208h.01M325.5 204.5h.01M336 214h.01M329 193.5h.01M327.5 174.5h.01M345.5 188h.01M330 196.5h.01M326 199h.01M349 214h.01M325.5 195h.01M339.5 204.5h.01M337.5 196h.01M337 186h.01M333.5 208h.01M336.5 214h.01M325.5 189h.01M325.5 182.5h.01M342 206h.01M331 214h.01M347.5 214h.01M332.5 214h.01M328 186.5h.01M327.5 209.5h.01M327 196.5h.01M340.5 203h.01M341.5 176h.01M333.5 198.5h.01M326.5 192.5h.01M349.5 211h.01M332.5 211.5h.01M336.5 209.5h.01M329 186h.01M336.5 193h.01M335.5 202.5h.01M336 195h.01M331.5 189.5h.01M331.5 191h.01M332 192.5h.01M325.5 206.5h.01M325.5 187.5h.01M337 198h.01M338 209.5h.01M332.5 206h.01M325.5 185h.01M341.5 200.5h.01M325.5 198h.01M325.5 182h.01M325.5 208.5h.01M325.5 207.5h.01M350.5 202h.01M329 201h.01M356.5 179h.01M347.5 182.5h.01M339 196h.01M332 202h.01M339 194.5h.01M334.5 195h.01M329.5 204.5h.01M345.5 203h.01M351.5 193.5h.01M332.5 188.5h.01M327 202.5h.01M328.5 200.5h.01M338.5 178h.01M337 212h.01M339 191h.01M335 196.5h.01M337 196h.01M338 198h.01M325.5 190.5h.01M345 214h.01M329.5 212.5h.01M337 203.5h.01M346 188.5h.01M327 205.5h.01M326 194.5h.01M336.5 213h.01M334.5 214h.01M333.5 184h.01M327.5 214h.01M344 198h.01M333.5 194h.01M348 195h.01M329.5 202h.01M333.5 195.5h.01M325.5 210.5h.01M341 176.5h.01M352.5 203.5h.01M336.5 181.5h.01M329.5 208.5h.01M342 208.5h.01M330 212h.01M329 205h.01M337.5 204.5h.01M337.5 203.5h.01M334 214h.01M334 211.5h.01M336 189.5h.01M335.5 189.5h.01M338 188h.01M336 206h.01M343 211h.01M329.5 194h.01M336 208h.01M351.5 199h.01M334.5 192h.01M328.5 193h.01M330.5 210h.01M325.5 196.5h.01M332.5 202h.01M339.5 189h.01M329 197.5h.01M353.5 205.5h.01M336 185h.01M341 210.5h.01M328.5 212.5h.01M345 194.5h.01M341.5 202.5h.01M333.5 193h.01M351.5 187h.01M330.5 203.5h.01M327.5 201h.01M325.5 201.5h.01M326.5 199.5h.01M337 193h.01M325.5 204h.01M341.5 192.5h.01M344 192.5h.01M327 198h.01M326.5 186h.01M326.5 193h.01M343.5 207h.01M345 189h.01M325.5 181h.01M341 208h.01M334 201h.01M325.5 183.5h.01M346.5 199.5h.01M347 200.5h.01M334.5 203.5h.01M333 206.5h.01M344.5 196.5h.01M349.5 204.5h.01M328 208h.01M334 202h.01M332 182h.01M339.5 207h.01M335.5 203h.01M329 202.5h.01M332.5 193.5h.01M341.5 200h.01M330 203h.01M325.5 187h.01M339 192.5h.01M344.5 202.5h.01M338.5 188.5h.01M338 193.5h.01M347 198h.01M335 183.5h.01M349 206h.01M330 202h.01M325.5 181.5h.01M344 202.5h.01M332 184h.01M332 211.5h.01M336.5 202h.01M325.5 209h.01M328.5 210h.01M334.5 209.5h.01M340.5 188h.01M335.5 210.5h.01M342.5 207.5h.01M325.5 192h.01M327 199h.01M340.5 204h.01M325.5 211h.01M340 182.5h.01M341 206h.01M333.5 199.5h.01M343 198h.01M331 204h.01M326.5 190h.01M352.5 214h.01M341.5 211h.01M327.5 204.5h.01M332.5 180h.01M338 201h.01M332.5 181.5h.01M340 211h.01M326 201h.01M328 195.5h.01M336.5 185h.01M348.5 209.5h.01M331.5 201h.01M346.5 191.5h.01M334 194h.01M325.5 188h.01M327.5 187.5h.01M327 199.5h.01M328 200h.01M336 212.5h.01M352 196.5h.01M334.5 190h.01M341 190.5h.01M340.5 198h.01M333.5 186h.01M344 181h.01M336.5 199.5h.01M345 189.5h.01M355.5 204.5h.01M347 205h.01M336 188h.01M333.5 200h.01M325.5 213h.01M342 214h.01M342 187.5h.01M346.5 202.5h.01M344.5 194.5h.01M336.5 201.5h.01M340.5 214h.01M325.5 184h.01M327.5 201.5h.01M343 206.5h.01M333 208h.01M329.5 196.5h.01M336 190h.01M336 208.5h.01M344.5 207.5h.01M328.5 195h.01M345.5 204.5h.01M346 196h.01M332.5 208h.01M330.5 187.5h.01M335 203h.01M339.5 214h.01M338 186.5h.01M337.5 195.5h.01M326.5 191.5h.01M331 187h.01M328 194h.01M347.5 180h.01M330.5 200h.01M335 206.5h.01M349 200h.01M336 193.5h.01M331 192.5h.01M333 188h.01M335 208.5h.01M341 214h.01M334.5 208.5h.01M333 200h.01M350 210h.01M327.5 199.5h.01M338 211h.01M335.5 194.5h.01M338 214h.01M342 201.5h.01M352 204.5h.01M333.5 197h.01M329 207h.01M332.5 203.5h.01M347.5 200.5h.01M337 214h.01M343.5 206h.01M337 211.5h.01M331.5 192h.01M331.5 198h.01M334.5 202h.01M333 207h.01M328 192.5h.01M340.5 197.5h.01M342 202.5h.01M340 197.5h.01M325.5 190h.01M341.5 188.5h.01M327.5 185.5h.01M339.5 184h.01M325.5 191h.01M344.5 203h.01M341 199h.01M332.5 212.5h.01M351.5 209h.01M332.5 199.5h.01M336 184.5h.01M341.5 214h.01M333.5 202h.01M339 199h.01M344.5 199h.01M350.5 210h.01M343 191h.01M329 213.5h.01M339.5 198.5h.01M335 185h.01M332 200.5h.01M344 204.5h.01M327 207h.01M333 195h.01M340.5 193h.01M334.5 193.5h.01M331 196h.01M337 212.5h.01M327 207.5h.01M335.5 214h.01M330 196h.01M345 204h.01M342 200.5h.01M329 204h.01M333 186h.01M339 192h.01M335.5 195h.01M325.5 189.5h.01M326 197.5h.01M327.5 193h.01M340 190h.01M353.5 200h.01M336.5 199h.01M327 182.5h.01M347 207.5h.01M337 181h.01M341.5 191.5h.01M347 206h.01M331.5 207h.01M350 213h.01M333.5 204h.01M329 213h.01M333 209.5h.01M331.5 205h.01M330.5 203h.01M336.5 200h.01M349.5 204h.01M330 197h.01M338 205.5h.01M335 194.5h.01M350 214h.01M330 186h.01M338.5 207.5h.01M326 204.5h.01M338.5 209.5h.01M345 195h.01M337.5 194.5h.01M348 202h.01M339.5 186.5h.01M343 213.5h.01M329.5 184.5h.01M341 189h.01M331.5 182.5h.01M329.5 197h.01M334.5 204.5h.01M331.5 199.5h.01M333.5 192.5h.01M334 188.5h.01M355 207h.01M341.5 198h.01M334.5 206h.01M338 187.5h.01M339 190h.01M336 195.5h.01M325.5 184.5h.01M332 186.5h.01M348.5 194h.01M335 186.5h.01M333 197h.01M333.5 212.5h.01M326.5 189h.01M335 209.5h.01M329 214h.01M328.5 183h.01M337.5 200h.01M327.5 206h.01M336 202h.01M339 206.5h.01M339.5 205h.01M343 190.5h.01M325.5 176.5h.01M335 207.5h.01M333 208.5h.01M325.5 205.5h.01M325.5 180h.01M327 201h.01M330 204.5h.01M336 207.5h.01M347 210h.01M343 199h.01M336.5 205h.01M332.5 201.5h.01M335.5 207.5h.01M349.5 197.5h.01M346 203h.01M333.5 211h.01M332 185h.01M334.5 208h.01M326.5 194.5h.01M330 179.5h.01M334 200.5h.01M338.5 183.5h.01M330 201.5h.01M340 194h.01M338 194.5h.01M327.5 171h.01M346 204h.01M341.5 195.5h.01M339 190.5h.01M336 210h.01M340.5 206h.01M333.5 178.5h.01M329.5 193.5h.01M344 207.5h.01M336 199h.01M342 175h.01M333 193.5h.01M335.5 202h.01M328 189h.01M333 210h.01M342 204.5h.01M342 198.5h.01M341.5 210h.01M337 194h.01M331 203h.01M327 212h.01M347 214h.01M327 187h.01M333 186.5h.01M343.5 199h.01M328.5 214h.01M332 199h.01M326 188h.01M332.5 202.5h.01M338 186h.01M334.5 199h.01M331.5 195.5h.01M329.5 207h.01M327 206h.01M335 184.5h.01M327 194h.01M338.5 184.5h.01M333 202.5h.01M332.5 181h.01M332 189.5h.01M356.5 200.5h.01M336 197h.01M335 214h.01M347.5 203h.01M329 211.5h.01M330.5 214h.01M326.5 201.5h.01M332.5 197.5h.01M334 206.5h.01M341.5 199h.01M341.5 186h.01M330 195h.01M330.5 205.5h.01M338.5 198.5h.01M347 196h.01M332.5 213.5h.01M330.5 198h.01M330 208h.01M332.5 184.5h.01M329.5 201h.01M339 193.5h.01M332.5 182h.01M345.5 204h.01M326 202h.01M327.5 190h.01M348 210h.01M330.5 197h.01M327.5 198h.01M337.5 177.5h.01M336.5 194h.01M334.5 198h.01M351.5 199.5h.01M330.5 194.5h.01M341.5 194h.01M341.5 209.5h.01M332 208h.01M332.5 207h.01M342 204h.01M351 189h.01M325.5 179.5h.01M333 196.5h.01M326.5 202h.01M330.5 202.5h.01M325.5 186h.01M331.5 188h.01M329 192.5h.01M347 192.5h.01M337.5 214h.01M331.5 203h.01M332.5 199h.01M349.5 198.5h.01M348 204h.01M333.5 209h.01M333.5 206h.01M336 179h.01M333.5 197.5h.01M341.5 209h.01M338 207.5h.01M327.5 209h.01M331.5 197h.01M333 212h.01M327.5 213h.01M340 203.5h.01M329 195h.01M343.5 200.5h.01M329 211h.01M340.5 183h.01M328.5 208.5h.01M344 194.5h.01M346.5 201h.01M331 195.5h.01M343.5 203h.01M342 209.5h.01M342.5 208.5h.01M347.5 205.5h.01M341.5 202h.01M333.5 193.5h.01M327.5 211.5h.01M341.5 203h.01M343.5 199.5h.01M328 207h.01M331.5 207.5h.01M340.5 207h.01M344.5 204.5h.01M330.5 207.5h.01M353.5 214h.01M339.5 189.5h.01M342.5 182h.01M346 214h.01M333 211h.01M329.5 203h.01M341.5 192h.01M331.5 209h.01M334.5 200h.01M327 191.5h.01M344 209.5h.01M344 212.5h.01M334.5 183h.01M338.5 181h.01M328.5 201.5h.01M331 193.5h.01M337.5 183.5h.01M337 187h.01M335.5 209h.01M330.5 199.5h.01M344 196h.01M334 192h.01M340 191h.01M344.5 204h.01M357.5 204h.01M342.5 190h.01M353 208h.01M339 182h.01M331.5 187.5h.01M335 202h.01M350 204.5h.01M335.5 206.5h.01M337 190.5h.01M326.5 199h.01M345 197h.01M330 213h.01M341.5 194.5h.01M330 207.5h.01M329.5 186h.01M346 195h.01M332.5 189.5h.01M348.5 201h.01M338.5 183h.01M330.5 194h.01M341.5 201.5h.01M336.5 182.5h.01M339.5 194h.01M343 201.5h.01M328.5 205.5h.01M329.5 197.5h.01M355 210.5h.01M334.5 192.5h.01M332.5 198.5h.01M340 208.5h.01M336.5 190.5h.01M333 198h.01M354.5 186.5h.01M348.5 214h.01M332.5 206.5h.01M340 181.5h.01M349 201.5h.01M338 206.5h.01M345.5 193h.01M327 206.5h.01M339.5 200h.01M345 207h.01M329 179h.01M351 214h.01M331 190.5h.01M338.5 206h.01M332 196h.01M327 197.5h.01M341.5 183h.01M338 209h.01M337 171h.01M355 197h.01M328.5 197h.01M361 207h.01M352 198h.01M369 195h.01M352 192h.01M347.5 172.5h.01M366 187h.01M348 184.5h.01M358.5 189h.01M340.5 181.5h.01M356 202.5h.01M358 182h.01M357.5 194h.01M348 197.5h.01M346.5 180.5h.01M357 201h.01M355.5 180h.01M366.5 186.5h.01M342 194h.01M343.5 197.5h.01M352.5 197h.01M370.5 195.5h.01M359 172.5h.01M348.5 173.5h.01M355.5 173.5h.01M359.5 200h.01M343 205h.01M344.5 197.5h.01M353.5 211h.01M330.5 195.5h.01M343 183.5h.01M353.5 182.5h.01M360 198.5h.01M369 187.5h.01M355.5 182h.01M365 200h.01M350.5 193h.01M350.5 186.5h.01M357.5 192h.01M359.5 179h.01M354 205.5h.01M348 192.5h.01M351 192h.01M364.5 191.5h.01M345 196h.01M357 198h.01M347.5 192.5h.01M341.5 207h.01M336.5 202.5h.01M338.5 196h.01M354 196.5h.01M336 181h.01M349 211.5h.01M348.5 205h.01M345.5 196h.01M353.5 208h.01M351.5 182.5h.01M355.5 189h.01M366.5 198.5h.01M345 188h.01M356.5 191h.01M354 193.5h.01M354.5 196h.01M353 197.5h.01M345.5 206.5h.01M342.5 191h.01M362 193h.01M342.5 195h.01M330 183.5h.01M365.5 202.5h.01M359 190.5h.01M367.5 182h.01M362 178.5h.01M353 185.5h.01M340.5 174h.01M350.5 185.5h.01M340 196.5h.01M347.5 201.5h.01M351.5 186.5h.01M354.5 197h.01M350 179h.01M360 194h.01M346.5 183.5h.01M328 185.5h.01M347 183.5h.01M325.5 139.5h.01M345 161.5h.01M336 115.5h.01M329 135.5h.01M328 146h.01M325.5 150.5h.01M348.5 122.5h.01M326 141.5h.01M328 148.5h.01M325.5 127h.01M327.5 125.5h.01M329 124.5h.01M329.5 164.5h.01M325.5 144.5h.01M340 137h.01M325.5 125h.01M334.5 143h.01M326 132h.01M331 166.5h.01M331.5 141.5h.01M329.5 153h.01M334.5 166h.01M339.5 155.5h.01M325.5 142h.01M345 130.5h.01M325.5 159h.01M338 142.5h.01M336.5 137h.01M325.5 125.5h.01M325.5 143.5h.01M325.5 140.5h.01M343.5 138.5h.01M326 146h.01M332 150h.01M340 158.5h.01M337 161h.01M338.5 135.5h.01M334 130h.01M345 146h.01M335 164h.01M325.5 130.5h.01M325.5 124.5h.01M334 156.5h.01M343.5 156h.01M344 147h.01M325.5 133.5h.01M337.5 138.5h.01M342 153.5h.01M325.5 148h.01M335.5 142h.01M338 141.5h.01M337.5 168h.01M330 150h.01M329.5 152h.01M333.5 137h.01M340 148h.01M330.5 141h.01M325.5 135h.01M326.5 135h.01M335.5 141.5h.01M344.5 130.5h.01M337.5 159.5h.01M325.5 153h.01M329.5 156h.01M325.5 129h.01M325.5 110.5h.01M331.5 147h.01M336 133.5h.01M325.5 157h.01M345.5 145h.01M343.5 136.5h.01M343 154.5h.01M338.5 145.5h.01M326 143h.01M331.5 169.5h.01M344 149h.01M334 175h.01M332.5 143.5h.01M337 164.5h.01M343 166.5h.01M337 139.5h.01M338.5 161h.01M336 176h.01M338.5 146h.01M337.5 142.5h.01M325.5 127.5h.01M334 131.5h.01M325.5 131.5h.01M328 159.5h.01M337.5 141.5h.01M351 117h.01M330 138.5h.01M336.5 145.5h.01M325.5 156h.01M325.5 158h.01M336 129.5h.01M325.5 167h.01M326.5 142h.01M334 125.5h.01M334 158h.01M341 175.5h.01M329 143h.01M337.5 152h.01M340.5 148h.01M325.5 147h.01M339 141h.01M340.5 138.5h.01M340.5 134.5h.01M325.5 154.5h.01M334 160.5h.01M336.5 164.5h.01M340.5 171.5h.01M325.5 173h.01M352 144.5h.01M325.5 145.5h.01M332.5 135h.01M325.5 151.5h.01M339.5 146.5h.01M346.5 110.5h.01M343.5 135h.01M334.5 198.5h.01M330.5 169h.01M337.5 160.5h.01M343 151h.01M325.5 141h.01M328 132.5h.01M334 143.5h.01M325.5 147.5h.01M341 144h.01M335.5 140.5h.01M332 149.5h.01M334.5 131.5h.01M338.5 168.5h.01M325.5 148.5h.01M335.5 163h.01M333.5 161.5h.01M345.5 125h.01M334.5 129.5h.01M327 161.5h.01M329.5 143.5h.01M328.5 145h.01M339 141.5h.01M338.5 150.5h.01M334 145.5h.01M340.5 141.5h.01M341 144.5h.01M328.5 163.5h.01M336 134h.01M341 145.5h.01M335 143h.01M333.5 139.5h.01M327 112.5h.01M339 149.5h.01M341.5 144.5h.01M336.5 153.5h.01M341 148h.01M329.5 130.5h.01M329.5 134h.01M330 163h.01M335 144h.01M335 153.5h.01M325.5 134h.01M342 149.5h.01M331.5 166h.01M335 162h.01M328 152.5h.01M325.5 155h.01M325.5 136h.01M326 137h.01M339.5 148h.01M331 147h.01M327.5 123h.01M343 158h.01M348.5 155.5h.01M335 128.5h.01M344 144.5h.01M343 159.5h.01M340.5 159h.01M333 157h.01M331 141h.01M342 129.5h.01M343.5 132.5h.01M330 120.5h.01M334 148h.01M325.5 156.5h.01M330 146.5h.01M326.5 148h.01M330 148h.01M335.5 136h.01M330.5 115h.01M336 142h.01M331.5 159h.01M342.5 167.5h.01M344 150.5h.01M346.5 146h.01M337.5 150h.01M329 152h.01M336.5 142.5h.01M334.5 140.5h.01M335 113h.01M325.5 157.5h.01M336 166h.01M339.5 149h.01M325.5 118h.01M325.5 136.5h.01M328 143h.01M325.5 129.5h.01M342.5 129.5h.01M346.5 109.5h.01M329 130.5h.01M336 111h.01M329.5 117.5h.01M343.5 139h.01M349.5 107h.01M327 111.5h.01M325.5 109h.01M353 98.5h.01M344 122.5h.01M351.5 119.5h.01M331.5 130.5h.01M333.5 132.5h.01M337.5 125h.01M330 111h.01M349.5 115.5h.01M331 122h.01M341.5 135.5h.01M337 133h.01M331.5 98h.01M335.5 99.5h.01M340 130.5h.01M346.5 134.5h.01M327.5 113h.01M332 161h.01M351 162h.01M334.5 165.5h.01M340.5 163.5h.01M327 160.5h.01M330.5 164.5h.01M325.5 169h.01M325.5 173.5h.01M325.5 160.5h.01M325.5 164h.01M325.5 161h.01M350.5 169h.01M334 170.5h.01M328 177.5h.01M344 159h.01M344.5 181.5h.01M328.5 166h.01M334.5 167.5h.01M325.5 168.5h.01M325.5 162.5h.01M346.5 160h.01M329 164h.01M340.5 177.5h.01M345 160.5h.01M325.5 172.5h.01M329 162h.01M344 164.5h.01M325.5 168h.01M325.5 175h.01M342.5 160.5h.01M333.5 180h.01M338 164h.01M330 177h.01M326.5 166.5h.01M327 167.5h.01M333.5 185.5h.01M326.5 178.5h.01M326.5 183h.01M326.5 187h.01M326.5 207.5h.01M326.5 177.5h.01M326.5 187.5h.01M325.5 180.5h.01M326.5 191h.01M326.5 198.5h.01M326.5 204h.01M326.5 212.5h.01M326.5 206.5h.01M325.5 172h.01M325.5 211.5h.01M325.5 169.5h.01M325.5 179h.01M326.5 197h.01M326.5 182.5h.01M326.5 190.5h.01M326.5 203.5h.01M326.5 204.5h.01M326.5 173h.01M326.5 194h.01M325.5 175.5h.01M326.5 196h.01M326.5 196.5h.01M326.5 167.5h.01M326.5 205h.01M326.5 189.5h.01M326.5 193.5h.01M326.5 200h.01M326.5 213h.01M325.5 115.5h.01M326.5 127h.01M326.5 138h.01M326.5 160h.01M325.5 146.5h.01M325.5 110h.01M326.5 136.5h.01M325.5 141.5h.01M325.5 163.5h.01M325.5 145h.01M325.5 134.5h.01M325.5 140h.01M326.5 132.5h.01M326.5 154.5h.01M325.5 151h.01M326.5 143h.01M326.5 135.5h.01M325.5 120.5h.01M325.5 167.5h.01M326.5 183.5h.01M326.5 149.5h.01M326.5 151h.01M325.5 153.5h.01M326.5 110.5h.01M325.5 118.5h.01M326.5 157h.01M325.5 162h.01M325.5 128h.01M325.5 150h.01M326.5 132h.01M325.5 133h.01M325.5 152h.01M325.5 149h.01M325.5 119h.01M326.5 137.5h.01M326.5 113h.01M325.5 165h.01M325.5 123.5h.01M326.5 142.5h.01M326.5 159h.01M326.5 163h.01M325.5 137.5h.01M326.5 150.5h.01M326.5 131h.01M326.5 144.5h.01M325.5 130h.01M326.5 116.5h.01M325.5 131h.01M325.5 113h.01M325.5 154h.01M377.5 134h.01M373.5 176.5h.01M338.5 89.5h.01M327 96h.01" fill="none" stroke="#000" stroke-width="1.9" stroke-linecap="square"/>
<rect x="324" y="81.6" width="141.4" height="133.9" fill="none" stroke="#000" stroke-width="1.8"/>
<path d="M375.4 81.6V215.5M324 163.8H465.4" stroke="#000" stroke-width="1.8" fill="none"/>
<path d="M325.5 215.5v7M324 214.2h-6.5M360.3 215.5v7M324 181.4h-6.5M395 215.5v7M324 148.6h-6.5M429.8 215.5v7M324 115.9h-6.5M464.6 215.5v7M324 83.1h-6.5" stroke="#000" stroke-width="1.5" fill="none"/>
<path d="M336 215.5v3.6M324 204.3h-3.4M342.1 215.5v3.6M324 198.6h-3.4M346.4 215.5v3.6M324 194.5h-3.4M349.8 215.5v3.6M324 191.3h-3.4M352.6 215.5v3.6M324 188.7h-3.4M354.9 215.5v3.6M324 186.5h-3.4M356.9 215.5v3.6M324 184.6h-3.4M358.7 215.5v3.6M324 182.9h-3.4M370.7 215.5v3.6M324 171.6h-3.4M376.9 215.5v3.6M324 165.8h-3.4M381.2 215.5v3.6M324 161.7h-3.4M384.6 215.5v3.6M324 158.5h-3.4M387.3 215.5v3.6M324 155.9h-3.4M389.7 215.5v3.6M324 153.7h-3.4M391.7 215.5v3.6M324 151.8h-3.4M393.5 215.5v3.6M324 150.1h-3.4M405.5 215.5v3.6M324 138.8h-3.4M411.6 215.5v3.6M324 133h-3.4M416 215.5v3.6M324 128.9h-3.4M419.4 215.5v3.6M324 125.7h-3.4M422.1 215.5v3.6M324 123.1h-3.4M424.4 215.5v3.6M324 121h-3.4M426.5 215.5v3.6M324 119.1h-3.4M428.2 215.5v3.6M324 117.4h-3.4M440.3 215.5v3.6M324 106h-3.4M446.4 215.5v3.6M324 100.2h-3.4M450.8 215.5v3.6M324 96.1h-3.4M454.1 215.5v3.6M324 93h-3.4M456.9 215.5v3.6M324 90.4h-3.4M459.2 215.5v3.6M324 88.2h-3.4M461.2 215.5v3.6M324 86.3h-3.4M463 215.5v3.6M324 84.6h-3.4" stroke="#000" stroke-width="1.9" fill="none"/>
<path d="M324.3 81.6V215.5" stroke="#000" stroke-width="2" fill="none"/>
<path d="M324 215.3H465.4" stroke="#000" stroke-width="2" fill="none"/>
<text class="tk" transform="translate(315.7 237.4) scale(0.65 1)">1</text>
<text class="tk" transform="translate(321.3 237.4) scale(0.87 1)">0</text>
<text class="tk" transform="translate(328.6 230) scale(0.87 1)">0</text>
<text class="tk" transform="translate(351.2 237.4) scale(0.65 1)">1</text>
<text class="tk" transform="translate(356.8 237.4) scale(0.87 1)">0</text>
<text class="tk" transform="translate(364.1 230) scale(0.87 1)">1</text>
<text class="tk" transform="translate(385.7 237.4) scale(0.65 1)">1</text>
<text class="tk" transform="translate(391.3 237.4) scale(0.87 1)">0</text>
<text class="tk" transform="translate(398.6 230) scale(0.87 1)">2</text>
<text class="tk" transform="translate(420.6 237.4) scale(0.65 1)">1</text>
<text class="tk" transform="translate(426.2 237.4) scale(0.87 1)">0</text>
<text class="tk" transform="translate(433.5 230) scale(0.87 1)">3</text>
<text class="tk" transform="translate(454.9 237.4) scale(0.65 1)">1</text>
<text class="tk" transform="translate(460.5 237.4) scale(0.87 1)">0</text>
<text class="tk" transform="translate(467.8 230) scale(0.87 1)">4</text>
<text class="tv" transform="translate(312.6 224.5) rotate(-90) scale(0.59 1)">1</text>
<text class="tv" transform="translate(312.6 217.9) rotate(-90) scale(0.84 1)">0</text>
<text class="tv" transform="translate(305.6 209) rotate(-90) scale(0.82 1.05)">0</text>
<text class="tv" transform="translate(312.6 191.4) rotate(-90) scale(0.59 1)">1</text>
<text class="tv" transform="translate(312.6 184.8) rotate(-90) scale(0.84 1)">0</text>
<text class="tv" transform="translate(305.6 175.9) rotate(-90) scale(0.82 1.05)">1</text>
<text class="tv" transform="translate(312.6 159) rotate(-90) scale(0.59 1)">1</text>
<text class="tv" transform="translate(312.6 152.4) rotate(-90) scale(0.84 1)">0</text>
<text class="tv" transform="translate(305.6 143.5) rotate(-90) scale(0.82 1.05)">2</text>
<text class="tv" transform="translate(312.6 126) rotate(-90) scale(0.59 1)">1</text>
<text class="tv" transform="translate(312.6 119.4) rotate(-90) scale(0.84 1)">0</text>
<text class="tv" transform="translate(305.6 110.5) rotate(-90) scale(0.82 1.05)">3</text>
<text class="tv" transform="translate(312.6 92.4) rotate(-90) scale(0.59 1)">1</text>
<text class="tv" transform="translate(312.6 85.8) rotate(-90) scale(0.84 1)">0</text>
<text class="tv" transform="translate(305.6 76.9) rotate(-90) scale(0.82 1.05)">4</text>
<path d="M129.5 395.5h.01M118.5 399h.01M125.5 414.5h.01M151 409.5h.01M128 402h.01M142 411.5h.01M135.5 423.5h.01M124 417h.01M118.5 429.5h.01M118.5 414.5h.01M126.5 415.5h.01M129.5 428h.01M127.5 408.5h.01M137.5 422h.01M123.5 429.5h.01M122.5 429.5h.01M118.5 397.5h.01M118.5 401.5h.01M132.5 415h.01M134 404.5h.01M141 414h.01M121.5 419h.01M118.5 412h.01M119 398h.01M118.5 425h.01M151 429.5h.01M125 418h.01M148 429.5h.01M141 420.5h.01M126.5 419.5h.01M136 425.5h.01M127.5 407h.01M150.5 429.5h.01M146.5 399.5h.01M122.5 407.5h.01M123 390.5h.01M131 414h.01M126 414h.01M126.5 422.5h.01M153 429.5h.01M118.5 413h.01M126.5 406.5h.01M126 413h.01M132.5 399h.01M123 416h.01M151.5 404.5h.01M118.5 382h.01M137.5 418.5h.01M118.5 407.5h.01M118.5 424.5h.01M118.5 417.5h.01M141.5 416.5h.01M118.5 403h.01M129 400.5h.01M142.5 413.5h.01M126.5 412h.01M144.5 409h.01M119 421.5h.01M123.5 422h.01M132.5 410.5h.01M128.5 397.5h.01M120 417.5h.01M121.5 403h.01M125 399.5h.01M129 414h.01M118.5 420h.01M125.5 403h.01M131.5 420h.01M133.5 399h.01M126.5 417h.01M124 401h.01M135 423h.01M133 417.5h.01M119.5 395.5h.01M138 420.5h.01M129.5 405h.01M121 413h.01M136.5 429.5h.01M132.5 402h.01M134.5 428h.01M132 422h.01M135 403.5h.01M131 421h.01M121.5 400.5h.01M118.5 405h.01M134.5 415h.01M157 410.5h.01M154 429.5h.01M136 415h.01M128 429.5h.01M121 424h.01M126 400h.01M129 406.5h.01M120 416.5h.01M130 415h.01M143.5 422h.01M151 423.5h.01M141 421h.01M148 409.5h.01M133 402h.01M121 424.5h.01M118.5 396h.01M120 418.5h.01M128 386.5h.01M118.5 408h.01M124 404.5h.01M118.5 416h.01M138.5 391.5h.01M147.5 422h.01M129 412.5h.01M137.5 408h.01M127 396h.01M118.5 404.5h.01M128.5 412h.01M134.5 409h.01M131.5 408h.01M151.5 415h.01M140.5 403.5h.01M124.5 401.5h.01M118.5 396.5h.01M119 417.5h.01M132.5 401h.01M139 400h.01M126 423h.01M135 407.5h.01M131 423.5h.01M133.5 428h.01M118.5 406h.01M118.5 411h.01M118.5 402h.01M120 409h.01M118.5 415.5h.01M139.5 405.5h.01M118.5 399.5h.01M139 416h.01M145 424.5h.01M127.5 397.5h.01M144 395h.01M133 429h.01M127 427.5h.01M141 401h.01M135 411h.01M129 415h.01M133 408h.01M134 416.5h.01M151 407.5h.01M145 394.5h.01M143.5 416h.01M129.5 414.5h.01M130 426h.01M127 417h.01M128.5 429.5h.01M138 407h.01M118.5 420.5h.01M129 403.5h.01M128.5 394h.01M128.5 424h.01M120.5 402h.01M121 400.5h.01M140.5 404h.01M140.5 413.5h.01M128.5 418.5h.01M121 429.5h.01M122 424.5h.01M118.5 409.5h.01M134 415.5h.01M144.5 399.5h.01M141 419h.01M132 402h.01M133.5 395.5h.01M125 403h.01M123 392.5h.01M118.5 398.5h.01M120.5 416.5h.01M129 408.5h.01M133.5 401h.01M119.5 392h.01M151 381h.01M118.5 409h.01M118.5 406.5h.01M135 425.5h.01M136 421h.01M125.5 429.5h.01M120 409.5h.01M130.5 391.5h.01M134 418.5h.01M132 402.5h.01M135.5 393h.01M144.5 429.5h.01M127.5 386h.01M123.5 399h.01M128 416.5h.01M147 398h.01M125.5 400h.01M139 411h.01M118.5 405.5h.01M132.5 395h.01M140 414.5h.01M122.5 413h.01M125.5 393h.01M147.5 394.5h.01M133 414.5h.01M139 415.5h.01M131.5 429.5h.01M123.5 393h.01M126.5 390.5h.01M145.5 416h.01M123 412.5h.01M125 429.5h.01M121.5 414.5h.01M118.5 425.5h.01M139 387.5h.01M125 416.5h.01M134.5 414h.01M119 394h.01M120.5 422.5h.01M125.5 404h.01M145.5 403h.01M129 427h.01M127.5 423h.01M127.5 399h.01M119.5 411.5h.01M130 423h.01M122.5 400h.01M118.5 417h.01M118.5 392h.01M135.5 405h.01M133 407.5h.01M132 429.5h.01M131.5 404h.01M118.5 401h.01M123 415h.01M122 406.5h.01M118.5 414h.01M131 402h.01M129 414.5h.01M139.5 415h.01M118.5 416.5h.01M124.5 421h.01M137 422.5h.01M118.5 423.5h.01M149 411h.01M121 423.5h.01M118.5 413.5h.01M133.5 397h.01M142 408h.01M120.5 422h.01M118.5 424h.01M133.5 415.5h.01M133 428h.01M139 407.5h.01M129 406h.01M118.5 418h.01M118.5 388.5h.01M126.5 417.5h.01M138.5 424.5h.01M145.5 420h.01M128 422.5h.01M138 429.5h.01M136.5 421.5h.01M129 425.5h.01M131 409h.01M135.5 407.5h.01M136 399h.01M124 426h.01M118.5 402.5h.01M124 398h.01M129 424h.01M139 387h.01M126.5 423h.01M118.5 400h.01M121.5 416.5h.01M136.5 411h.01M130 418h.01M121 409h.01M130.5 404h.01M122.5 407h.01M134 410h.01M135 398.5h.01M131 410.5h.01M118.5 407h.01M127.5 415h.01M118.5 404h.01M159 406h.01M129.5 406h.01M121.5 410h.01M120.5 419.5h.01M131 408.5h.01M127 421h.01M131.5 425h.01M137.5 415.5h.01M128.5 401.5h.01M135 427.5h.01M125.5 406.5h.01M127.5 412h.01M133.5 410h.01M130 408.5h.01M144.5 405h.01M135 416h.01M142 413.5h.01M137 429.5h.01M131.5 412.5h.01M123 395h.01M133.5 413h.01M122 388h.01M137.5 403h.01M119.5 395h.01M135 414.5h.01M127 429.5h.01M136 425h.01M138.5 417h.01M121 406.5h.01M131 425.5h.01M127.5 403.5h.01M125.5 428h.01M125.5 423.5h.01M121.5 410.5h.01M128 414h.01M126 416.5h.01M130.5 387h.01M137.5 421h.01M144 423.5h.01M122.5 401h.01M139 405.5h.01M134 413h.01M123.5 414h.01M143.5 402.5h.01M128.5 407.5h.01M138 396.5h.01M127 412h.01M132.5 379h.01M131.5 395.5h.01M118.5 400.5h.01M130.5 406.5h.01M131 416.5h.01M159 406.5h.01M136.5 386h.01M140 404h.01M132.5 388h.01M118.5 423h.01M130 429.5h.01M119.5 397h.01M123 409h.01M136.5 425.5h.01M131.5 419h.01M128 416h.01M120.5 399.5h.01M142 404.5h.01M127.5 424.5h.01M119 425h.01M131 400h.01M139 411.5h.01M124 409h.01M130 404h.01M146 419.5h.01M152.5 420h.01M141.5 416h.01M130 424h.01M155 411.5h.01M121 383h.01M130.5 406h.01M126.5 421.5h.01M147.5 406h.01M126.5 398h.01M118.5 394h.01M128.5 421.5h.01M136.5 405h.01M124.5 408.5h.01M140 394h.01M152.5 414.5h.01M123.5 406h.01M123.5 398.5h.01M118.5 392.5h.01M125.5 397.5h.01M144.5 426h.01M126 402.5h.01M129 413h.01M138.5 400h.01M121.5 413h.01M136 408.5h.01M130 425h.01M149 414h.01M131.5 411.5h.01M129 409.5h.01M142.5 406.5h.01M137 405h.01M129 388.5h.01M120.5 406.5h.01M140.5 407.5h.01M147 423h.01M128.5 404.5h.01M129.5 429.5h.01M118.5 412.5h.01M119.5 414.5h.01M129.5 409h.01M139.5 419h.01M135 427h.01M118.5 403.5h.01M132 404.5h.01M118.5 415h.01M120.5 400h.01M132.5 424.5h.01M135 413h.01M122.5 397.5h.01M141.5 429.5h.01M126 413.5h.01M118.5 418.5h.01M119 410.5h.01M122 429.5h.01M142.5 400h.01M152.5 429.5h.01M123.5 417.5h.01M135 415h.01M118.5 395.5h.01M124.5 402h.01M155.5 420.5h.01M123.5 400h.01M127 404.5h.01M128.5 376h.01M136 407h.01M130 406.5h.01M137.5 426.5h.01M122.5 380h.01M137 407h.01M119 410h.01M125 412.5h.01M131 380h.01M144.5 390h.01M145 376h.01M120.5 427.5h.01M131 408h.01M129 419h.01M136.5 389.5h.01M142.5 415h.01M124.5 407h.01M118.5 387.5h.01M127.5 404.5h.01M132 406h.01M118.5 389h.01M166 427h.01M137.5 412.5h.01M118.5 387h.01M127.5 409h.01M131.5 427h.01M132.5 418.5h.01M118.5 427.5h.01M150.5 416.5h.01M133 402.5h.01M129.5 407.5h.01M140.5 413h.01M132.5 415.5h.01M152.5 409h.01M138.5 429.5h.01M123 425.5h.01M129 417h.01M138 398h.01M122 398h.01M121 403.5h.01M118.5 398h.01M156 415h.01M143 429.5h.01M121 378h.01M127.5 405h.01M118.5 411.5h.01M119 396h.01M122 379h.01M143 412.5h.01M140 405.5h.01M140.5 429h.01M150 402.5h.01M123 405h.01M118.5 419h.01M124 397h.01M119 404h.01M122.5 415h.01M130.5 399.5h.01M123.5 416h.01M137.5 406h.01M128 408.5h.01M139 429.5h.01M139.5 418.5h.01M126 417h.01M137 419.5h.01M126.5 403.5h.01M135.5 426.5h.01M131 409.5h.01M127.5 410h.01M132 418h.01M126.5 399h.01M123.5 409h.01M146.5 414h.01M139.5 404.5h.01M130 410.5h.01M146 425.5h.01M132 399.5h.01M143 402h.01M156 406.5h.01M136 406.5h.01M119 414h.01M146 413.5h.01M120.5 413h.01M121 385.5h.01M140.5 427.5h.01M129.5 407h.01M119 407h.01M136.5 387.5h.01M133 388.5h.01M134 413.5h.01M138.5 418h.01M130.5 403.5h.01M118.5 395h.01M130.5 415h.01M132.5 402.5h.01M127 392h.01M125.5 406h.01M131 398h.01M120.5 415h.01M126 419.5h.01M120.5 426.5h.01M137.5 392.5h.01M118.5 421.5h.01M124.5 410h.01M134 429.5h.01M138.5 402h.01M148 382h.01M147.5 409.5h.01M160.5 429.5h.01M134 376h.01M144.5 402.5h.01M148.5 412h.01M149 416h.01M158.5 395.5h.01M156 412h.01M140.5 399h.01M136 412h.01M151 399h.01M151 415.5h.01M144 383.5h.01M158 411h.01M166.5 404.5h.01M150 411h.01M163 402h.01M149.5 412h.01M139 401.5h.01M150 387.5h.01M142 407h.01M158.5 395h.01M144 388.5h.01M154 394.5h.01M153 393.5h.01M146.5 405h.01M159.5 399h.01M153 392h.01M152 399h.01M157 412h.01M147.5 401h.01M149 394.5h.01M154 405h.01M159.5 406.5h.01M144 400h.01M155.5 404.5h.01M140.5 408h.01M152 396.5h.01M165.5 404.5h.01M148 424.5h.01M161 394h.01M150 410h.01M127.5 396h.01M143 388h.01M156.5 390.5h.01M149 391.5h.01M138 388.5h.01M149.5 414.5h.01M146.5 412.5h.01M152.5 410h.01M139 406.5h.01M148 401h.01M156 390.5h.01M153.5 387h.01M128.5 404h.01M158 416h.01M131 343h.01M118.5 357.5h.01M143.5 353h.01M133 368h.01M133.5 357.5h.01M118.5 354.5h.01M127 353.5h.01M148.5 327.5h.01M141 353.5h.01M141 346.5h.01M138 364.5h.01M118.5 331h.01M125 356h.01M134 348h.01M129.5 319.5h.01M136.5 343h.01M120.5 349h.01M141.5 348.5h.01M139.5 364h.01M140 365.5h.01M127.5 361h.01M137 327.5h.01M139 363h.01M136.5 328.5h.01M145.5 338h.01M118.5 357h.01M124 355.5h.01M138 346.5h.01M129 337h.01M123 353h.01M136 371.5h.01M121 372h.01M118.5 349.5h.01M132.5 341h.01M139.5 367.5h.01M163.5 322.5h.01M118.5 359.5h.01M127 343.5h.01M144 347h.01M147.5 332h.01M122.5 345h.01M149 355.5h.01M152 345.5h.01M159 346h.01M157.5 376h.01M157 339h.01M128.5 327.5h.01M130 332.5h.01M149 328h.01M168.5 322h.01M136.5 340h.01M134 369.5h.01M136.5 368.5h.01M130 352.5h.01M125.5 366.5h.01M136 347.5h.01M156 335.5h.01M129.5 369.5h.01M121 334h.01M131.5 349.5h.01M125.5 319h.01M133.5 326.5h.01M134 330h.01M119 371h.01M151.5 352.5h.01M138.5 331h.01M145 342h.01M135 335.5h.01M142.5 340.5h.01M122.5 347h.01M149.5 362.5h.01M125.5 330.5h.01M159 339.5h.01M134.5 364h.01M132.5 361.5h.01M136.5 334h.01M141.5 323.5h.01M118.5 369.5h.01M155.5 328h.01M119 344.5h.01M118.5 347.5h.01M139 329.5h.01M119.5 370h.01M156 367.5h.01M124.5 396h.01M152 323h.01M141 352.5h.01M118.5 371.5h.01M148.5 357.5h.01M141 337h.01M142.5 363.5h.01M127.5 329h.01M145 353h.01M128 330.5h.01M147 349h.01M162.5 327.5h.01M135 334h.01M145 352h.01M146 356.5h.01M131 335h.01M118.5 353h.01M119.5 334h.01M158.5 359h.01M137 353.5h.01M134.5 334.5h.01M163 369.5h.01M127 350h.01M129.5 344h.01M144.5 355h.01M125.5 322h.01M160.5 323h.01M123 337h.01M122.5 367h.01M134.5 337.5h.01M131.5 349h.01M144.5 359h.01M141 333h.01M144.5 336.5h.01M119 352h.01M128 334h.01M118.5 344.5h.01M118.5 335h.01M126.5 346h.01M149 316h.01M118.5 350.5h.01M124 335h.01M133 345h.01M118.5 352.5h.01M118.5 346.5h.01M118.5 342h.01M158 323h.01M147 318h.01M134 339.5h.01M118.5 355.5h.01M152.5 377.5h.01M139.5 347.5h.01M129 341h.01M135 367h.01M133.5 379.5h.01M158 347h.01M148.5 363h.01M163.5 328.5h.01M140 343h.01M140.5 360h.01M132.5 350.5h.01M140.5 319h.01M152.5 342h.01M144.5 352h.01M127 375.5h.01M118.5 368h.01M133.5 350h.01M141.5 326h.01M145 349.5h.01M127.5 352h.01M144 363h.01M151 325h.01M144 381h.01M132 334h.01M120 340h.01M128.5 332h.01M137 378h.01M132.5 340h.01M157 360h.01M121 357.5h.01M150.5 352h.01M136 339h.01M122 327h.01M124 363h.01M123 368h.01M121 361h.01M118.5 350h.01M139.5 357.5h.01M137.5 362h.01M138 352.5h.01M118.5 345h.01M132 359h.01M133.5 337.5h.01M118.5 356h.01M118.5 340.5h.01M128.5 321h.01M143.5 372h.01M151.5 347h.01M129.5 346.5h.01M138 362.5h.01M128.5 322.5h.01M118.5 358h.01M146.5 364h.01M131 341.5h.01M120.5 352.5h.01M120.5 351h.01M138.5 346.5h.01M138 340h.01M146.5 366h.01M136 318.5h.01M130.5 352h.01M134.5 360h.01M143 347h.01M131.5 333.5h.01M153 372.5h.01M126.5 352h.01M118.5 334.5h.01M167.5 332.5h.01M154 382h.01M127.5 371h.01M146.5 349h.01M131.5 338h.01M146.5 317.5h.01M156 330h.01M118.5 324.5h.01M136 374.5h.01M137 351.5h.01M133 329.5h.01M118.5 335.5h.01M153 367.5h.01M156 359h.01M123 330h.01M134 380.5h.01M124.5 334.5h.01M126 355.5h.01M134.5 347h.01M123.5 364h.01M141.5 325h.01M118.5 339.5h.01M150 363h.01M157 374h.01M149.5 317.5h.01M135.5 365h.01M140.5 321.5h.01M141 317.5h.01M118.5 362h.01M126 335h.01M153.5 362h.01M120 331h.01M118.5 336.5h.01M121.5 348.5h.01M167 352h.01M135 361.5h.01M143 319.5h.01M144.5 370.5h.01M140 319h.01M119.5 349.5h.01M120 357.5h.01M119 371.5h.01M142 348h.01M118.5 366h.01M123 367h.01M137 350.5h.01M140 371.5h.01M122.5 355h.01M128.5 353.5h.01M122.5 349h.01M160 360.5h.01M120 332.5h.01M150.5 316.5h.01M136.5 377.5h.01M159.5 330h.01M154.5 345h.01M129 346.5h.01M118.5 329h.01M124.5 358h.01M140 362.5h.01M147 358h.01M145 341h.01M135.5 356h.01M122 356h.01M136 381h.01M118.5 359h.01M127.5 330.5h.01M144.5 347h.01M138.5 315h.01M137.5 336.5h.01M135.5 358h.01M151.5 350h.01M157.5 367h.01M141.5 316.5h.01M125 340.5h.01M158 339h.01M122 352.5h.01M128 344.5h.01M118.5 316.5h.01M125.5 347h.01M136.5 321h.01M163.5 333.5h.01M118.5 370.5h.01M144.5 324.5h.01M142 345.5h.01M141 383.5h.01M153 374h.01M128 369h.01M131.5 345h.01M144.5 339.5h.01M126.5 344.5h.01M154.5 351.5h.01M132.5 385h.01M146.5 350.5h.01M154 324h.01M118.5 333.5h.01M143 338.5h.01M118.5 332.5h.01M165 325h.01M150.5 388h.01M118.5 341.5h.01M159.5 323h.01M129.5 350.5h.01M147 352.5h.01M145.5 341h.01M147 344.5h.01M122.5 399.5h.01M118.5 373h.01M145.5 373h.01M125.5 338h.01M145.5 328h.01M141.5 318.5h.01M125.5 325.5h.01M141 335.5h.01M130.5 358.5h.01M118.5 317h.01M118.5 375.5h.01M118.5 352h.01M130 358h.01M118.5 341h.01M158 364.5h.01M137.5 356.5h.01M128 371.5h.01M135.5 347.5h.01M118.5 326.5h.01M121 357h.01M118.5 338h.01M153.5 349h.01M129.5 371h.01M133 384h.01M127.5 345h.01M127 382.5h.01M138.5 339.5h.01M121 332.5h.01M131 362h.01M132.5 371h.01M127.5 316h.01M153 336h.01M136 342h.01M118.5 344h.01M123 358.5h.01M159 360.5h.01M135.5 345.5h.01M150 351.5h.01M142 340h.01M131.5 357.5h.01M118.5 327.5h.01M120.5 326h.01M161 357h.01M119 365.5h.01M126 323h.01M122 366.5h.01M141.5 319.5h.01M138.5 347.5h.01M159.5 330.5h.01M129 350.5h.01M133 348.5h.01M142 359.5h.01M164 365h.01M145 333h.01M149.5 322h.01M139.5 343h.01M157.5 323h.01M134.5 331h.01M118.5 324h.01M125 329.5h.01M142 357.5h.01M148 316.5h.01M141 362.5h.01M131 339.5h.01M146.5 361h.01M129 337.5h.01M148 330h.01M121 362.5h.01M118.5 347h.01M145 315.5h.01M150.5 361h.01M137 336.5h.01M127.5 351h.01M143.5 348.5h.01M141.5 376.5h.01M161.5 330.5h.01M132.5 345.5h.01M143 387.5h.01M151 341h.01M125.5 317h.01M153.5 375h.01M131.5 358.5h.01M126.5 369h.01M131 335.5h.01M147 356h.01M168 316.5h.01M118.5 349h.01M129.5 338h.01M119.5 317h.01M141.5 329h.01M140.5 339.5h.01M123.5 350h.01M129.5 332h.01M139.5 351.5h.01M123.5 353h.01M142 347h.01M136.5 344.5h.01M132 332.5h.01M136.5 354h.01M157.5 344h.01M150.5 335.5h.01M147.5 327.5h.01M144.5 363h.01M131 322h.01M132.5 353h.01M135.5 329.5h.01M122 347.5h.01M128 358.5h.01M146.5 356.5h.01M135.5 339.5h.01M142 338h.01M146.5 359.5h.01M160.5 353.5h.01M135 331h.01M122.5 347.5h.01M128 336.5h.01M136 317h.01M121 359h.01M118.5 342.5h.01M133 350.5h.01M144 364h.01M135 364h.01M151 344h.01M120.5 340.5h.01M151 333.5h.01M133.5 316.5h.01M121.5 349.5h.01M142 364.5h.01M145.5 339.5h.01M150 340.5h.01M165.5 370.5h.01M129 355.5h.01M135 335h.01M119 328.5h.01M152.5 344h.01M141.5 363h.01M124.5 355.5h.01M152 340h.01M124.5 347h.01M128.5 337.5h.01M130.5 325.5h.01M122.5 337h.01M129.5 335.5h.01M152 334h.01M142 350.5h.01M129.5 362.5h.01M159 323h.01M157.5 364.5h.01M118.5 385h.01M118.5 356.5h.01M118.5 376.5h.01M142.5 359h.01M139.5 325h.01M154 374h.01M127 367.5h.01M131 358h.01M137.5 356h.01M152.5 361.5h.01M132.5 335.5h.01M120 359h.01M132 354.5h.01M146 360.5h.01M118.5 336h.01M129.5 327.5h.01M146 344h.01M138 355h.01M160.5 329h.01M121 331h.01M123 318.5h.01M165 347h.01M126.5 323.5h.01M126 318.5h.01M119 329.5h.01M121.5 316h.01M136 359h.01M136 390.5h.01M153 324h.01M142.5 382.5h.01M135 386.5h.01M125.5 379h.01M120 390.5h.01M131.5 377.5h.01M155.5 380h.01M151 388.5h.01M142 374h.01M158.5 385h.01M158.5 381h.01M127 393.5h.01M145.5 384.5h.01M144.5 378.5h.01M143.5 379.5h.01M123 383.5h.01M132.5 376.5h.01M122 372h.01M118.5 390.5h.01M142.5 377h.01M161 371h.01M119 389h.01M133 380.5h.01M143 384h.01M123 386h.01M132.5 387h.01M131 374h.01M130 389h.01M140 373.5h.01M120.5 383h.01M118.5 391.5h.01M148.5 383.5h.01M138.5 379.5h.01M134 396.5h.01M130 389.5h.01M126 381h.01M138 369h.01M144.5 389.5h.01M126.5 375h.01M129 398.5h.01M143 385.5h.01M132 395h.01M118.5 370h.01M125.5 376.5h.01M155 380h.01M132.5 382.5h.01M120 407h.01M120 412h.01M120 415h.01M120 404h.01M118.5 394.5h.01M118.5 410h.01M120 421.5h.01M120 383h.01M120 429.5h.01M120 417h.01M120 403h.01M120 397.5h.01M118.5 419.5h.01M120 391h.01M120 428h.01M118.5 381.5h.01M120 407.5h.01M120 414.5h.01M120 422h.01M120 419h.01M120 410h.01M120 405.5h.01M120 420h.01M120 401h.01M120 386h.01M120 401.5h.01M120 399.5h.01M118.5 426h.01M120 427h.01M118.5 426.5h.01M120 414h.01M118.5 408.5h.01M118.5 410.5h.01M118.5 393h.01M118.5 379h.01M118.5 346h.01M120 351.5h.01M120 386.5h.01M120 375h.01M118.5 367.5h.01M120 359.5h.01M120 368h.01M118.5 375h.01M120 363.5h.01M120 370.5h.01M118.5 378h.01M120 354h.01M118.5 326h.01M120 367.5h.01M118.5 328.5h.01M118.5 343.5h.01M120 340.5h.01M120 344h.01M118.5 373.5h.01M118.5 382.5h.01M118.5 360h.01M118.5 348h.01M120 334.5h.01M118.5 320.5h.01M120 342.5h.01M118.5 343h.01M118.5 383.5h.01M120 354.5h.01M120 360.5h.01M118.5 327h.01M120 373.5h.01M118.5 383h.01M118.5 332h.01M120 361h.01M120 356h.01M118.5 384.5h.01M118.5 353.5h.01M118.5 337h.01M120 322h.01M118.5 377.5h.01M118.5 363h.01M120 317.5h.01M118.5 365h.01M118.5 322h.01M120 362h.01M120 346h.01M120 336h.01M120 327h.01M120 387h.01M118.5 364h.01M120 318h.01M118.5 369h.01M118.5 378.5h.01M120 330h.01M118.5 381h.01M118.5 377h.01M120 366.5h.01M118.5 385.5h.01M120 338.5h.01M120 355.5h.01M118.5 351.5h.01M120 365h.01M172.5 315.5h.01M181.5 329h.01M188.5 332h.01M174.5 337h.01M186.5 338.5h.01M190 335.5h.01M172.5 343.5h.01M179.5 345.5h.01M174.5 347h.01M188.5 342h.01M190 350.5h.01M175 357h.01M181.5 363.5h.01M190 363.5h.01M171 353.5h.01M177 385h.01M174.5 395h.01M182 401.5h.01M178.5 403.5h.01M169 408h.01" fill="none" stroke="#000" stroke-width="1.9" stroke-linecap="square"/>
<rect x="117.2" y="296" width="141.7" height="134.7" fill="none" stroke="#000" stroke-width="1.8"/>
<path d="M169 296V430.7M117.2 378.8H258.9" stroke="#000" stroke-width="1.8" fill="none"/>
<path d="M118.7 430.7v7M117.2 429.4h-6.5M153.6 430.7v7M117.2 396.4h-6.5M188.4 430.7v7M117.2 363.4h-6.5M223.2 430.7v7M117.2 330.5h-6.5M258.1 430.7v7M117.2 297.5h-6.5" stroke="#000" stroke-width="1.5" fill="none"/>
<path d="M129.2 430.7v3.6M117.2 419.5h-3.4M135.3 430.7v3.6M117.2 413.7h-3.4M139.7 430.7v3.6M117.2 409.5h-3.4M143.1 430.7v3.6M117.2 406.4h-3.4M145.8 430.7v3.6M117.2 403.7h-3.4M148.2 430.7v3.6M117.2 401.5h-3.4M150.2 430.7v3.6M117.2 399.6h-3.4M152 430.7v3.6M117.2 397.9h-3.4M164 430.7v3.6M117.2 386.5h-3.4M170.2 430.7v3.6M117.2 380.7h-3.4M174.5 430.7v3.6M117.2 376.6h-3.4M177.9 430.7v3.6M117.2 373.4h-3.4M180.7 430.7v3.6M117.2 370.8h-3.4M183 430.7v3.6M117.2 368.6h-3.4M185 430.7v3.6M117.2 366.6h-3.4M186.8 430.7v3.6M117.2 365h-3.4M198.9 430.7v3.6M117.2 353.5h-3.4M205 430.7v3.6M117.2 347.7h-3.4M209.4 430.7v3.6M117.2 343.6h-3.4M212.8 430.7v3.6M117.2 340.4h-3.4M215.5 430.7v3.6M117.2 337.8h-3.4M217.9 430.7v3.6M117.2 335.6h-3.4M219.9 430.7v3.6M117.2 333.7h-3.4M221.7 430.7v3.6M117.2 332h-3.4M233.7 430.7v3.6M117.2 320.5h-3.4M239.9 430.7v3.6M117.2 314.7h-3.4M244.2 430.7v3.6M117.2 310.6h-3.4M247.6 430.7v3.6M117.2 307.4h-3.4M250.4 430.7v3.6M117.2 304.8h-3.4M252.7 430.7v3.6M117.2 302.6h-3.4M254.7 430.7v3.6M117.2 300.7h-3.4M256.5 430.7v3.6M117.2 299h-3.4" stroke="#000" stroke-width="1.9" fill="none"/>
<path d="M117.5 296V430.7" stroke="#000" stroke-width="2" fill="none"/>
<path d="M117.2 430.5H258.9" stroke="#000" stroke-width="2" fill="none"/>
<text class="tk" transform="translate(108.9 452.6) scale(0.65 1)">1</text>
<text class="tk" transform="translate(114.5 452.6) scale(0.87 1)">0</text>
<text class="tk" transform="translate(121.8 445.2) scale(0.87 1)">0</text>
<text class="tk" transform="translate(144.4 452.6) scale(0.65 1)">1</text>
<text class="tk" transform="translate(150 452.6) scale(0.87 1)">0</text>
<text class="tk" transform="translate(157.3 445.2) scale(0.87 1)">1</text>
<text class="tk" transform="translate(178.9 452.6) scale(0.65 1)">1</text>
<text class="tk" transform="translate(184.5 452.6) scale(0.87 1)">0</text>
<text class="tk" transform="translate(191.8 445.2) scale(0.87 1)">2</text>
<text class="tk" transform="translate(213.8 452.6) scale(0.65 1)">1</text>
<text class="tk" transform="translate(219.4 452.6) scale(0.87 1)">0</text>
<text class="tk" transform="translate(226.7 445.2) scale(0.87 1)">3</text>
<text class="tk" transform="translate(248.1 452.6) scale(0.65 1)">1</text>
<text class="tk" transform="translate(253.7 452.6) scale(0.87 1)">0</text>
<text class="tk" transform="translate(261 445.2) scale(0.87 1)">4</text>
<text class="tv" transform="translate(105.8 439.7) rotate(-90) scale(0.59 1)">1</text>
<text class="tv" transform="translate(105.8 433.1) rotate(-90) scale(0.84 1)">0</text>
<text class="tv" transform="translate(98.8 424.2) rotate(-90) scale(0.82 1.05)">0</text>
<text class="tv" transform="translate(105.8 406.6) rotate(-90) scale(0.59 1)">1</text>
<text class="tv" transform="translate(105.8 400) rotate(-90) scale(0.84 1)">0</text>
<text class="tv" transform="translate(98.8 391.1) rotate(-90) scale(0.82 1.05)">1</text>
<text class="tv" transform="translate(105.8 374.2) rotate(-90) scale(0.59 1)">1</text>
<text class="tv" transform="translate(105.8 367.6) rotate(-90) scale(0.84 1)">0</text>
<text class="tv" transform="translate(98.8 358.7) rotate(-90) scale(0.82 1.05)">2</text>
<text class="tv" transform="translate(105.8 341.2) rotate(-90) scale(0.59 1)">1</text>
<text class="tv" transform="translate(105.8 334.6) rotate(-90) scale(0.84 1)">0</text>
<text class="tv" transform="translate(98.8 325.7) rotate(-90) scale(0.82 1.05)">3</text>
<text class="tv" transform="translate(105.8 307.6) rotate(-90) scale(0.59 1)">1</text>
<text class="tv" transform="translate(105.8 301) rotate(-90) scale(0.84 1)">0</text>
<text class="tv" transform="translate(98.8 292.1) rotate(-90) scale(0.82 1.05)">4</text>
<path d="M337 393h.01M331.5 394.5h.01M347.5 394h.01M354.5 409h.01M337.5 407h.01M327.5 401h.01M339 393.5h.01M342.5 372h.01M346.5 417.5h.01M339 406h.01M330.5 383h.01M334 422h.01M340 402h.01M325.5 409.5h.01M329.5 399h.01M331.5 398h.01M357.5 408h.01M327.5 401.5h.01M349 407h.01M353 414h.01M325.5 399.5h.01M326.5 406h.01M342 390h.01M338 402h.01M352 394h.01M334 384.5h.01M326.5 397h.01M344 399h.01M330 394.5h.01M330.5 406h.01M325.5 383h.01M330.5 385h.01M341 402h.01M344.5 395.5h.01M338 415h.01M337.5 388h.01M342 387h.01M354 394h.01M359.5 416.5h.01M334 428.5h.01M346 397.5h.01M356 403h.01M325.5 383.5h.01M325.5 413.5h.01M334.5 391.5h.01M331 396.5h.01M325.5 378h.01M336 397.5h.01M343.5 396.5h.01M339 409.5h.01M335.5 393.5h.01M348.5 400h.01M337.5 394.5h.01M343 396.5h.01M333.5 405h.01M349.5 395h.01M337 357.5h.01M347 388.5h.01M338.5 410.5h.01M349.5 400h.01M337 386.5h.01M348.5 396h.01M337 374h.01M343 411h.01M345.5 397h.01M337 390.5h.01M339.5 375h.01M339 395.5h.01M350 405.5h.01M348.5 399.5h.01M350 409h.01M341.5 417.5h.01M331.5 398.5h.01M342.5 375.5h.01M357.5 414.5h.01M328 384h.01M341.5 415h.01M342 412h.01M327 413.5h.01M333.5 372h.01M341 400h.01M365.5 404h.01M335 402h.01M341.5 402.5h.01M353.5 402h.01M343 396h.01M327 410.5h.01M336 426h.01M337 398h.01M338.5 399.5h.01M340.5 403h.01M344 418h.01M347 409h.01M342 404h.01M332 408h.01M352 411.5h.01M325.5 396h.01M339.5 398h.01M325.5 406.5h.01M347 411h.01M343.5 390h.01M338 413h.01M358.5 397h.01M339 403h.01M326 402h.01M339 408.5h.01M338 385h.01M341.5 400h.01M348.5 388h.01M347 408h.01M325.5 389.5h.01M337.5 403h.01M329.5 377.5h.01M325.5 389h.01M348 378h.01M339.5 392.5h.01M326 398.5h.01M325.5 405.5h.01M336.5 400h.01M331 385h.01M325.5 397h.01M332 398h.01M337.5 375.5h.01M352.5 400h.01M329.5 413.5h.01M327 374.5h.01M325.5 393.5h.01M328.5 376.5h.01M340.5 414.5h.01M330.5 396.5h.01M338 410h.01M333.5 404h.01M342 395.5h.01M339 405.5h.01M345.5 405.5h.01M327 404h.01M333 402.5h.01M325.5 382.5h.01M344 383h.01M332 390h.01M339 398.5h.01M357 405.5h.01M343 419h.01M343 400.5h.01M325.5 411h.01M338.5 429h.01M349 387h.01M328 416h.01M325.5 414h.01M328 373h.01M325.5 390h.01M351 410h.01M333.5 390.5h.01M329 384h.01M361 399.5h.01M327 391.5h.01M340.5 407.5h.01M335 397.5h.01M342.5 385h.01M331 414h.01M325.5 377h.01M332 403.5h.01M365 385.5h.01M362.5 400.5h.01M328.5 405h.01M344 393.5h.01M341 372h.01M341.5 391.5h.01M328 371.5h.01M347 381h.01M330.5 412h.01M345.5 401h.01M330 400h.01M339 397h.01M334.5 393h.01M370 385h.01M331 374.5h.01M331 417h.01M325.5 423h.01M350 412h.01M334 413.5h.01M330 399h.01M344 410h.01M343 395.5h.01M343 405h.01M325.5 387.5h.01M343 407h.01M327.5 390.5h.01M360 394.5h.01M365.5 395h.01M340.5 393h.01M349 416.5h.01M338.5 384h.01M345 378.5h.01M354.5 399h.01M360.5 412h.01M344.5 412.5h.01M349 388.5h.01M345 404h.01M325.5 419h.01M334 400.5h.01M330.5 405.5h.01M347 412.5h.01M328 375h.01M329 406.5h.01M349 420.5h.01M355.5 414h.01M327 414h.01M325.5 407.5h.01M347.5 399.5h.01M352.5 389.5h.01M325.5 398.5h.01M329.5 404h.01M338 394.5h.01M341.5 424h.01M335 404.5h.01M358 401.5h.01M336 398.5h.01M345.5 412.5h.01M335 400.5h.01M336.5 402h.01M330.5 398h.01M325.5 379.5h.01M336.5 420.5h.01M333 387.5h.01M325.5 382h.01M337 422.5h.01M331.5 381.5h.01M341 416.5h.01M330 396h.01M360.5 396h.01M345 402.5h.01M337 411h.01M325.5 415h.01M329.5 384h.01M336 384.5h.01M330.5 373h.01M349.5 384h.01M365.5 380.5h.01M339 394h.01M343 372h.01M325.5 420.5h.01M331 398.5h.01M330 387.5h.01M343.5 399h.01M337.5 376h.01M359.5 378h.01M332.5 384h.01M356.5 388h.01M344.5 381.5h.01M356 395.5h.01M340 391.5h.01M346.5 396.5h.01M325.5 369h.01M328 405.5h.01M343 370h.01M353.5 404h.01M340.5 399.5h.01M351.5 409h.01M326 418.5h.01M342.5 394h.01M345 388.5h.01M325.5 403h.01M325.5 384h.01M347 415.5h.01M343 397h.01M338.5 390h.01M330 402h.01M325.5 384.5h.01M343.5 401.5h.01M325.5 371.5h.01M337.5 396h.01M344.5 378h.01M333.5 426.5h.01M333.5 398.5h.01M330.5 381h.01M327.5 389.5h.01M329 388.5h.01M338.5 396.5h.01M340.5 417.5h.01M331.5 396h.01M347 407h.01M350.5 401h.01M343.5 384h.01M325.5 408h.01M336 401h.01M325.5 390.5h.01M339 396h.01M340.5 390h.01M327.5 394.5h.01M332 404h.01M327 384h.01M325.5 407h.01M329.5 386h.01M341.5 404.5h.01M331 397.5h.01M348 409.5h.01M343 399h.01M333 414h.01M357 391.5h.01M355.5 406h.01M336.5 394.5h.01M325.5 395h.01M340 385.5h.01M333 381h.01M360 405h.01M334 386.5h.01M350.5 398.5h.01M350 417h.01M347.5 393h.01M347 392.5h.01M344.5 403.5h.01M353 423h.01M340 406h.01M359.5 412h.01M338.5 398.5h.01M346 398.5h.01M325.5 400h.01M350.5 389.5h.01M328.5 413h.01M335 402.5h.01M331 396h.01M352 386.5h.01M332 389h.01M334 383h.01M348.5 387h.01M362.5 386h.01M347.5 382h.01M325.5 402h.01M333 388h.01M337.5 413h.01M328 400.5h.01M331.5 404h.01M353.5 403.5h.01M332.5 428h.01M327 395.5h.01M333.5 389h.01M334 387.5h.01M331.5 407.5h.01M350 414.5h.01M326.5 379h.01M339.5 399h.01M359.5 398h.01M353.5 398.5h.01M329 401.5h.01M337.5 367.5h.01M330 393h.01M325.5 392h.01M335.5 394h.01M338 404h.01M337.5 398.5h.01M349 399h.01M335.5 414h.01M347 400.5h.01M326.5 384h.01M350.5 333.5h.01M339.5 353h.01M325.5 331.5h.01M325.5 323.5h.01M334.5 329.5h.01M332 327h.01M349 331.5h.01M348.5 322h.01M337 358.5h.01M347 342h.01M326 360.5h.01M325.5 313.5h.01M361 313.5h.01M364.5 361.5h.01M348.5 354h.01M325.5 324h.01M350.5 347h.01M325.5 357h.01M336.5 320.5h.01M364 327h.01M326 349.5h.01M339.5 324h.01M325.5 329.5h.01M330.5 321h.01M325.5 319.5h.01M356.5 312.5h.01M358 332h.01M340 350h.01M338 345.5h.01M346 322.5h.01M337 310h.01M325.5 342h.01M360 337.5h.01M347.5 371.5h.01M357.5 344h.01M330 319h.01M339.5 359.5h.01M355.5 348h.01M334 343.5h.01M333 340h.01M334 341h.01M370 329.5h.01M346 342.5h.01M361 326h.01M339.5 342h.01M348.5 359.5h.01M330 339h.01M343 331.5h.01M325.5 325h.01M333 341.5h.01M340 338.5h.01M333 339.5h.01M347 333h.01M341 343.5h.01M353 332h.01M329 318h.01M325.5 344.5h.01M348.5 340.5h.01M334.5 339h.01M338.5 327h.01M346 344h.01M332.5 363h.01M332.5 327h.01M339 316.5h.01M335 330h.01M349.5 350.5h.01M355.5 354h.01M335 361h.01M335 348.5h.01M350.5 363.5h.01M344 328.5h.01M345.5 319h.01M349 347h.01M346 344.5h.01M330 338h.01M332.5 342.5h.01M351.5 333h.01M325.5 345.5h.01M341.5 341.5h.01M344 367.5h.01M357.5 339h.01M326.5 321.5h.01M328.5 350h.01M334 335h.01M337 328h.01M333.5 332h.01M329 335.5h.01M348.5 356h.01M330 339.5h.01M340 334.5h.01M325.5 321.5h.01M346.5 319h.01M347.5 342.5h.01M336.5 343h.01M370.5 339.5h.01M349.5 312h.01M337 330.5h.01M343.5 310.5h.01M344 327h.01M329 320h.01M344.5 348h.01M331 356.5h.01M343.5 349.5h.01M338.5 326.5h.01M327.5 354h.01M361.5 352.5h.01M325.5 334h.01M344 335h.01M327.5 320.5h.01M347 318.5h.01M344.5 320.5h.01M343.5 322h.01M330 344h.01M333.5 344.5h.01M337 318h.01M337.5 337.5h.01M337 338h.01M345 339.5h.01M340 337h.01M329 333h.01M342 358.5h.01M341.5 330h.01M337 349h.01M330.5 323.5h.01M327.5 319h.01M333.5 328.5h.01M325.5 325.5h.01M341 357h.01M351 340.5h.01M356 318.5h.01M349 317h.01M325.5 335.5h.01M356 325h.01M340.5 337h.01M334.5 344.5h.01M337.5 374.5h.01M351.5 333.5h.01M325.5 333.5h.01M341.5 335h.01M347 322h.01M346 358h.01M325.5 345h.01M349.5 361h.01M332.5 342h.01M337 357h.01M345.5 337.5h.01M350 331.5h.01M338.5 319h.01M354.5 326h.01M330 328.5h.01M352 322h.01M359 316.5h.01M347.5 323h.01M341.5 351h.01M328.5 334.5h.01M333 324h.01M329.5 345.5h.01M325.5 336h.01M351 351h.01M333.5 312.5h.01M329 364h.01M327 321.5h.01M339 347h.01M330.5 315h.01M325.5 313h.01M333.5 325h.01M325.5 346.5h.01M368.5 335.5h.01M326.5 326h.01M330 348h.01M328 341.5h.01M355.5 357.5h.01M344 357.5h.01M346 341h.01M346.5 337h.01M350.5 323h.01M344 324h.01M333 338.5h.01M329 325h.01M343.5 335.5h.01M325.5 334.5h.01M345 322h.01M331 323h.01M325.5 340h.01M325.5 330h.01M327.5 344.5h.01M351.5 318h.01M325.5 318h.01M349.5 320h.01M333.5 313.5h.01M346 353h.01M325.5 348.5h.01M341 331h.01M347 318h.01M349 315.5h.01M354.5 347h.01M359.5 346.5h.01M341 337h.01M328 334.5h.01M325.5 324.5h.01M337.5 343.5h.01M341 328.5h.01M337 361h.01M344.5 329h.01M353.5 325h.01M344 340h.01M334 346h.01M330 346.5h.01M325.5 354.5h.01M336.5 337.5h.01M377.5 332h.01M327.5 356h.01M345 345.5h.01M333.5 354h.01M353 326.5h.01M353 341.5h.01M340 339h.01M326 324.5h.01M325.5 343.5h.01M325.5 332.5h.01M327.5 340.5h.01M326.5 315h.01M341.5 318.5h.01M325.5 311h.01M337.5 345h.01M331.5 330.5h.01M353.5 317.5h.01M326.5 356.5h.01M351.5 325.5h.01M348.5 318.5h.01M340 323h.01M332 337h.01M341 342h.01M338 321h.01M342 352h.01M348 361.5h.01M328 323.5h.01M325.5 312.5h.01M351 326.5h.01M325.5 352.5h.01M335.5 320h.01M341.5 324.5h.01M344 317.5h.01M325.5 316.5h.01M346 332.5h.01M328.5 347h.01M325.5 337h.01M328 315.5h.01M336.5 346h.01M340.5 361h.01M343 334h.01M332 329.5h.01M340 341h.01M345.5 361h.01M359.5 338.5h.01M341.5 346.5h.01M352.5 359.5h.01M357.5 312.5h.01M339.5 322h.01M325.5 318.5h.01M342.5 321.5h.01M347.5 329h.01M338.5 354.5h.01M325.5 352h.01M348.5 331h.01M331 344h.01M347.5 335h.01M358.5 339.5h.01M325.5 365h.01M328.5 328h.01M346.5 352.5h.01M343.5 354.5h.01M346 349.5h.01M335.5 326.5h.01M332 340h.01M328.5 319.5h.01M341 323h.01M349 327h.01M343 343.5h.01M338 325.5h.01M345 333h.01M357 319h.01M356.5 321.5h.01M341.5 321.5h.01M357.5 317.5h.01M333 351.5h.01M325.5 329h.01M340 324.5h.01M358 333.5h.01M329 346h.01M347.5 332.5h.01M342 344.5h.01M327.5 344h.01M340.5 329h.01M357 324h.01M340 316h.01M346 320.5h.01M339.5 355.5h.01M344.5 363h.01M333 335h.01M351.5 317.5h.01M333 348h.01M336 343.5h.01M329 324.5h.01M338.5 372h.01M338 327h.01M325.5 312h.01M343 333.5h.01M331.5 319h.01M351.5 345.5h.01M325.5 316h.01M336 365h.01M352 373h.01M330 357h.01M367 347.5h.01M354 346.5h.01M325.5 333h.01M325.5 310.5h.01M327.5 356.5h.01M336 339.5h.01M327.5 329h.01M357.5 338h.01M328.5 320.5h.01M350.5 345h.01M335.5 347h.01M325.5 322.5h.01M344.5 312.5h.01M361 374h.01M361 334.5h.01M354.5 313h.01M355 320.5h.01M329.5 347.5h.01M328.5 332h.01M354.5 333.5h.01M345 335.5h.01M346.5 332h.01M349.5 320.5h.01M345.5 343.5h.01M336.5 323.5h.01M354.5 327h.01M330.5 337.5h.01M335.5 344h.01M330.5 356.5h.01M329.5 317h.01M352.5 338h.01M325.5 327h.01M326.5 333h.01M361.5 329.5h.01M325.5 335h.01M342 343.5h.01M339.5 338h.01M325.5 354h.01M337 345.5h.01M334 326h.01M352 345.5h.01M341.5 350.5h.01M325.5 319h.01M357.5 343h.01M325.5 359h.01M334 322h.01M343 355h.01M340.5 357h.01M333.5 329h.01M342.5 363h.01M328 336h.01M343.5 341.5h.01M344.5 315.5h.01M325.5 330.5h.01M367.5 330.5h.01M336 316.5h.01M350.5 331h.01M341 326.5h.01M357.5 358.5h.01M349 344.5h.01M326 328.5h.01M339 321.5h.01M335.5 329.5h.01M325.5 327.5h.01M343 339h.01M349 337h.01M347 338.5h.01M334 315h.01M351.5 324.5h.01M327 341h.01M337.5 355.5h.01M325.5 347h.01M343.5 326.5h.01M337 324.5h.01M358.5 351h.01M348.5 342.5h.01M356 361.5h.01M341.5 362h.01M338 335.5h.01M334 323.5h.01M347 339h.01M346 335h.01M341 346h.01M325.5 341.5h.01M354.5 327.5h.01M333.5 343h.01M353 322.5h.01M338 324.5h.01M339.5 314.5h.01M326.5 330.5h.01M345 326.5h.01M329 343.5h.01M327.5 337.5h.01M354 337h.01M347 319.5h.01M339.5 339.5h.01M351 316.5h.01M328 334h.01M332 333h.01M354.5 341.5h.01M335.5 335.5h.01M333 344.5h.01M357 341.5h.01M332.5 373.5h.01M351 344.5h.01M336.5 335.5h.01M359 322.5h.01M353.5 339.5h.01M325.5 344h.01M350 334.5h.01M328 326h.01M345 329.5h.01M347.5 311.5h.01M346 315.5h.01M351.5 336h.01M348 333.5h.01M334.5 327h.01M346 321h.01M341.5 355h.01M339.5 328h.01M348.5 327.5h.01M338 333.5h.01M353.5 320h.01M339 329h.01M340.5 339h.01M338.5 338.5h.01M348 346.5h.01M334 325h.01M344.5 347.5h.01M328.5 338h.01M348.5 356.5h.01M335.5 320.5h.01M352 339h.01M335 336h.01M341 349.5h.01M341.5 317h.01M342.5 320.5h.01M330 321.5h.01M334.5 326h.01M346.5 349.5h.01M326 319h.01M347 326.5h.01M330 320h.01M347.5 345.5h.01M340.5 346.5h.01M333.5 346h.01M343.5 333h.01M350.5 329h.01M341.5 315h.01M337.5 349.5h.01M337.5 346h.01M330.5 337h.01M361.5 322.5h.01M358 313.5h.01M332.5 335h.01M336.5 319h.01M325.5 349h.01M343.5 342h.01M325.5 346h.01M339.5 313.5h.01M343 340h.01M325.5 356.5h.01M340 320.5h.01M334 334h.01M342.5 338h.01M337 354h.01M346 318.5h.01M326 325h.01M333.5 333.5h.01M344 348.5h.01M345 314.5h.01M336 326.5h.01M336.5 335h.01M353 343h.01M337 334.5h.01M338 338.5h.01M336 314.5h.01M325.5 364.5h.01M342 342h.01M333 335.5h.01M336 338h.01M356.5 327.5h.01M359.5 336.5h.01M328 348.5h.01M334 330h.01M325.5 355h.01M326.5 318.5h.01M341 334h.01M325.5 360h.01M333.5 334h.01M337 351h.01M336.5 329h.01M331 345h.01M340 357h.01M356.5 331h.01M353.5 330.5h.01M359.5 346h.01M348 313h.01M339 337.5h.01M338 315h.01M346.5 333.5h.01M325.5 326h.01M338 360h.01M329.5 316.5h.01M345 324h.01M341 340.5h.01M333.5 335h.01M345 353.5h.01M328.5 351h.01M359.5 320.5h.01M335 347.5h.01M358 321.5h.01M328.5 340.5h.01M329 329.5h.01M327.5 339h.01M326.5 371h.01M345 316h.01M351 345.5h.01M334.5 352h.01M344 330h.01M333 316h.01M329 329h.01M339 313.5h.01M341.5 347.5h.01M325.5 314.5h.01M348.5 333.5h.01M333.5 337h.01M355.5 328.5h.01M345 344h.01M359.5 349.5h.01M359 323.5h.01M340.5 328.5h.01M335.5 356h.01M336 340h.01M336.5 344.5h.01M331.5 322.5h.01M348 352h.01M340.5 337.5h.01M340 343h.01M330.5 314.5h.01M343 354h.01M332 339.5h.01M329.5 322h.01M349 323.5h.01M344 338h.01M362.5 351.5h.01M333 341h.01M332 332h.01M333.5 335.5h.01M352.5 356h.01M350 313.5h.01M338 345h.01M341 338h.01M330.5 313h.01M349 367h.01M366.5 344.5h.01M332.5 319.5h.01M341 351.5h.01M362.5 318h.01M333 328h.01M344.5 337.5h.01M370 333.5h.01M332.5 314h.01M331 323.5h.01M357 344.5h.01M342 363h.01M327 326h.01M350 343h.01M327.5 318h.01M334 350.5h.01M372.5 313h.01M345.5 315.5h.01M337 329.5h.01M340 318.5h.01M344 331.5h.01M326 335h.01M349 329h.01M361.5 347h.01M350 344h.01M341.5 313h.01M342 314.5h.01M334.5 338h.01M337 350.5h.01M333.5 351h.01M340 340.5h.01M342 311.5h.01M349.5 325.5h.01M337 341.5h.01M325.5 320.5h.01M325.5 336.5h.01M332.5 332.5h.01M349.5 343.5h.01M349.5 319.5h.01M338 333h.01M336.5 326h.01M330 325.5h.01M342.5 335h.01M338 330h.01M330 324h.01M335 325h.01M351.5 344h.01M330.5 338.5h.01M341.5 334.5h.01M333.5 337.5h.01M352 321h.01M351 332h.01M341.5 350h.01M353 334h.01M336 328h.01M326.5 329h.01M335.5 352.5h.01M348.5 345.5h.01M333.5 330h.01M338.5 346.5h.01M325.5 328.5h.01M331 336h.01M335 341h.01M374 360h.01M353 335h.01M329 318.5h.01M339.5 344h.01M331.5 344h.01M337 347h.01M352.5 351.5h.01M337 368h.01M342.5 340.5h.01M356 356h.01M342.5 322.5h.01M341 364.5h.01M358.5 323.5h.01M348 345h.01M340 322.5h.01M339 345h.01M338 361h.01M335.5 337h.01M329.5 325.5h.01M344.5 314h.01M325.5 317.5h.01M359 323h.01M338 320.5h.01M329.5 319h.01M349 351.5h.01M335.5 343.5h.01M335 347h.01M347 351h.01M329.5 352h.01M340 323.5h.01M338.5 340h.01M339.5 330.5h.01M361.5 339.5h.01M334 357.5h.01M344 349.5h.01M365.5 353h.01M333 356.5h.01M346 330.5h.01M364.5 327h.01M342 336h.01M335.5 356.5h.01M344.5 319.5h.01M349.5 342.5h.01M327.5 333h.01M332.5 349.5h.01M325.5 357.5h.01M336 324.5h.01M344.5 318.5h.01M351 333h.01M346.5 341h.01M328 369.5h.01M330.5 334h.01M338 341.5h.01M335 331.5h.01M341 322h.01M366.5 317h.01M334.5 322.5h.01M349 331h.01M335.5 351.5h.01M352 347h.01M337 319h.01M357 322.5h.01M326 350.5h.01M331 347.5h.01M326.5 333.5h.01M337.5 328h.01M350 341.5h.01M343.5 334h.01M325.5 349.5h.01M359 366.5h.01M356 314.5h.01M340.5 339.5h.01M364 323.5h.01M325.5 339h.01M333.5 336h.01M333 342.5h.01M333.5 339.5h.01M332.5 351.5h.01M337.5 354.5h.01M339 335h.01M349.5 325h.01M326.5 324h.01M330 342h.01M336 322h.01M332 318h.01M346 338.5h.01M344.5 355h.01M326 358h.01M354 326.5h.01M346 342h.01M328 355h.01M342 340.5h.01M339.5 336h.01M325.5 317h.01M334.5 342.5h.01M349 336h.01M326 332.5h.01M334 337.5h.01M325.5 340.5h.01M345 326h.01M352.5 328.5h.01M339.5 315.5h.01M340 314h.01M329.5 349h.01M340 333.5h.01M334.5 314h.01M354 349h.01M353.5 323.5h.01M352.5 361h.01M354 326h.01M345 328h.01M334.5 360h.01M358 327.5h.01M334 335.5h.01M344 323.5h.01M349.5 334h.01M330 338.5h.01M326.5 325.5h.01M343 333h.01M331.5 336.5h.01M336.5 332h.01M329.5 336h.01M326 353h.01M364 341.5h.01M325.5 347.5h.01M353.5 336h.01M327 332.5h.01M336.5 328.5h.01M340 353.5h.01M348 334.5h.01M335.5 325.5h.01M331.5 345.5h.01M349 328.5h.01M334.5 335h.01M325.5 356h.01M342.5 332h.01M340 359.5h.01M343 324h.01M338.5 312h.01M339.5 346h.01M325.5 343h.01M338.5 323.5h.01M325.5 361.5h.01M346 319h.01M346.5 332.5h.01M350.5 365.5h.01M337.5 321.5h.01M353 321.5h.01M334 317.5h.01M340 339.5h.01M364 352h.01M345 340h.01M351.5 321.5h.01M335.5 328.5h.01M326 359h.01M350.5 338.5h.01M350.5 355.5h.01M328 342.5h.01M351 331h.01M349 335h.01M362 338h.01M345.5 365.5h.01M343 331h.01M338 341h.01M336.5 330.5h.01M360 347.5h.01M368.5 343h.01M327 334h.01M336 317.5h.01M330 312h.01M335.5 325h.01M327.5 310.5h.01M350 318.5h.01M349 329.5h.01M325.5 326.5h.01M325.5 323h.01M353.5 318h.01M326.5 320.5h.01M330 332.5h.01M345.5 352h.01M336 332.5h.01M358 321h.01M330 330h.01M340.5 338h.01M332.5 326.5h.01M351 337.5h.01M337 339.5h.01M334 332h.01M329 347.5h.01M340.5 353h.01M356 326.5h.01M339.5 354h.01M334.5 330h.01M332.5 351h.01M343.5 368.5h.01M352.5 334.5h.01M337 327.5h.01M337 353.5h.01M339.5 371.5h.01M339 325h.01M344 328h.01M332.5 316h.01M337.5 335h.01M350 322h.01M351 341.5h.01M342 327.5h.01M344 325.5h.01M358 327h.01M337.5 353h.01M354 322h.01M329.5 324.5h.01M332 346h.01M343 332.5h.01M365.5 339h.01M331.5 360.5h.01M332.5 344.5h.01M327 340h.01M343 327h.01M349.5 345.5h.01M334.5 343.5h.01M338.5 328h.01M353 345.5h.01M346 348h.01M335.5 353h.01M331.5 333.5h.01M328.5 336.5h.01M348 358h.01M337.5 348h.01M339.5 331h.01M343 325h.01M338.5 333.5h.01M342.5 331.5h.01M325.5 331h.01M353 330.5h.01M345 328.5h.01M343.5 352.5h.01M338 316h.01M345.5 349.5h.01M343.5 320h.01M360 349h.01M327 345.5h.01M354.5 315h.01M330 322h.01M340 313h.01M325.5 341h.01M340 321h.01M351.5 324h.01M327 342.5h.01M353.5 357.5h.01M343 319h.01M342.5 328.5h.01M356 350h.01M358.5 352.5h.01M358.5 333h.01M353 310.5h.01M360.5 310.5h.01M343.5 331h.01M341 347.5h.01M328 323h.01M347 342.5h.01M344 353.5h.01M325.5 328h.01M349.5 349h.01M327.5 352.5h.01M344.5 350h.01M373 324h.01M332 315.5h.01M342 333.5h.01M340 330.5h.01M337.5 336h.01M333 351h.01M332 335h.01M352 327h.01M352 326h.01M346 354h.01M362.5 315.5h.01M332.5 333h.01M362 334h.01M345.5 346h.01M342.5 336h.01M339.5 350h.01M347.5 353h.01M346 351.5h.01M351 354h.01M341.5 351.5h.01M334 348.5h.01M347.5 337.5h.01M332 330.5h.01M340.5 329.5h.01M334 329.5h.01M335 332.5h.01M341 336h.01M339 328h.01M328.5 344h.01M329 322h.01M359.5 342.5h.01M341.5 338.5h.01M346 313h.01M354.5 319h.01M333.5 317.5h.01M351 315.5h.01M333 347.5h.01M335.5 327h.01M330.5 328h.01M338.5 337h.01M335.5 330h.01M340.5 330.5h.01M325.5 315.5h.01M347 348h.01M365 313h.01M342 352.5h.01M338 329h.01M348.5 352h.01M330 345h.01M340 354h.01M337 346.5h.01M361 328h.01M348 329.5h.01M362.5 349h.01M342 327h.01M347 357.5h.01M352 352.5h.01M333.5 331.5h.01M362.5 344h.01M325.5 355.5h.01M342.5 324h.01M341 317h.01M344.5 323.5h.01M333.5 329.5h.01M340 342.5h.01M328.5 344.5h.01M365.5 315h.01M339.5 345h.01M348 340.5h.01M331.5 315.5h.01M356.5 329h.01M325.5 311.5h.01M361.5 328.5h.01M332.5 317h.01M342 331.5h.01M362.5 340.5h.01M333 326.5h.01M366 340.5h.01M335.5 343h.01M350.5 326h.01M341.5 349h.01M333 322h.01M346 333.5h.01M326.5 354.5h.01M332 332.5h.01M335 329.5h.01M352 331.5h.01M343.5 338h.01M347 373.5h.01M346.5 314.5h.01M362 350h.01M334 333h.01M335.5 337.5h.01M344.5 357h.01M350 342.5h.01M341 340h.01M372 348h.01M337.5 321h.01M338 343h.01M331.5 341.5h.01M332 343h.01M336.5 318.5h.01M326 327h.01M357.5 329h.01M334.5 325.5h.01M345.5 327h.01M347.5 361h.01M328 364h.01M336.5 380.5h.01M356.5 384h.01M371.5 368h.01M328 361.5h.01M333.5 383h.01M332 370.5h.01M358.5 365.5h.01M326 365h.01M326.5 362.5h.01M346.5 377.5h.01M344 361h.01M325.5 366.5h.01M346 372h.01M341.5 384h.01M374.5 390h.01M373 344h.01M332.5 367.5h.01M335 364.5h.01M342.5 376.5h.01M346 368h.01M340 370.5h.01M339.5 366h.01M344.5 375h.01M336.5 353.5h.01M335 366.5h.01M361 389.5h.01M327 362.5h.01M354 364.5h.01M361.5 363.5h.01M360 378h.01M341.5 371.5h.01M336.5 378h.01M327 359h.01M348.5 350h.01M352.5 356.5h.01M331.5 377.5h.01M338 367.5h.01M329 369h.01M344 368h.01M328 362h.01M328 353h.01M325.5 375.5h.01M334 377.5h.01M342.5 378h.01M339.5 374h.01M359 358h.01M332 368.5h.01M363 385h.01M353.5 362h.01M347.5 387.5h.01M353 364.5h.01M339 369.5h.01M351.5 374.5h.01M336.5 363h.01M347.5 381.5h.01M347 343h.01M345 357h.01M355 378.5h.01M325.5 362h.01M345 373.5h.01M345.5 360.5h.01M353 371h.01M340 372h.01M366.5 360.5h.01M346 366h.01M345 366h.01M326.5 398h.01M326.5 403.5h.01M326.5 409h.01M325.5 429h.01M326.5 429h.01M326.5 409.5h.01M325.5 404.5h.01M326.5 393.5h.01M326.5 399h.01M325.5 401.5h.01M325.5 417h.01M325.5 401h.01M325.5 386.5h.01M325.5 402.5h.01M326.5 385h.01M325.5 403.5h.01M325.5 394h.01M325.5 414.5h.01M326.5 403h.01M325.5 395.5h.01M325.5 374.5h.01M326.5 380.5h.01M326.5 407.5h.01M326.5 373.5h.01M325.5 396.5h.01M325.5 408.5h.01M326.5 402h.01M325.5 374h.01M325.5 391.5h.01M325.5 380.5h.01M325.5 381h.01M325.5 381.5h.01M325.5 412.5h.01M326.5 378h.01M326.5 383h.01M325.5 394.5h.01M326.5 389.5h.01M325.5 406h.01M325.5 413h.01M326.5 382.5h.01M325.5 371h.01M325.5 392.5h.01M326.5 405h.01M326.5 412.5h.01M326.5 390h.01M325.5 388.5h.01M326.5 386.5h.01M325.5 400.5h.01M325.5 398h.01M326.5 401h.01M326.5 351.5h.01M326.5 336h.01M325.5 332h.01M325.5 364h.01M326.5 341.5h.01M325.5 342.5h.01M326.5 343.5h.01M326.5 326.5h.01M326.5 311h.01M325.5 351.5h.01M325.5 362.5h.01M325.5 320h.01M326.5 347.5h.01M326.5 328h.01M326.5 345h.01M326.5 349.5h.01M325.5 322h.01M326.5 337.5h.01M325.5 350.5h.01M326.5 318h.01M325.5 351h.01M326.5 312.5h.01M326.5 364h.01M326.5 360h.01M326.5 352h.01M325.5 370.5h.01M326.5 324.5h.01M326.5 357.5h.01M325.5 358.5h.01M325.5 368h.01M326.5 355.5h.01M325.5 367h.01M325.5 348h.01M326.5 361h.01M326.5 354h.01M326.5 348.5h.01M326.5 314h.01M326.5 356h.01M326.5 363.5h.01M326.5 374.5h.01M326.5 331h.01M325.5 350h.01M326.5 352.5h.01M326.5 340.5h.01M325.5 314h.01M326.5 353.5h.01M326.5 321h.01M325.5 380h.01M325.5 358h.01M326.5 328.5h.01M326.5 364.5h.01M326.5 346h.01M325.5 363h.01M326.5 319.5h.01M326.5 327h.01M325.5 353.5h.01M387.5 330h.01M383 334h.01M388 339.5h.01M385.5 341h.01M391.5 343.5h.01M376 363h.01M375 369.5h.01M374 374.5h.01M367.5 419h.01M357 424h.01M336 425.5h.01" fill="none" stroke="#000" stroke-width="1.9" stroke-linecap="square"/>
<rect x="324" y="295.8" width="141.5" height="134.5" fill="none" stroke="#000" stroke-width="1.8"/>
<path d="M375.6 295.8V430.3M324 378.6H465.5" stroke="#000" stroke-width="1.8" fill="none"/>
<path d="M325.5 430.3v7M324 429h-6.5M360.3 430.3v7M324 396.1h-6.5M395.1 430.3v7M324 363.1h-6.5M429.9 430.3v7M324 330.2h-6.5M464.7 430.3v7M324 297.3h-6.5" stroke="#000" stroke-width="1.5" fill="none"/>
<path d="M336 430.3v3.6M324 419.1h-3.4M342.1 430.3v3.6M324 413.3h-3.4M346.5 430.3v3.6M324 409.2h-3.4M349.8 430.3v3.6M324 406h-3.4M352.6 430.3v3.6M324 403.4h-3.4M354.9 430.3v3.6M324 401.2h-3.4M356.9 430.3v3.6M324 399.3h-3.4M358.7 430.3v3.6M324 397.6h-3.4M370.8 430.3v3.6M324 386.2h-3.4M376.9 430.3v3.6M324 380.4h-3.4M381.3 430.3v3.6M324 376.3h-3.4M384.6 430.3v3.6M324 373.1h-3.4M387.4 430.3v3.6M324 370.5h-3.4M389.7 430.3v3.6M324 368.3h-3.4M391.7 430.3v3.6M324 366.3h-3.4M393.5 430.3v3.6M324 364.7h-3.4M405.6 430.3v3.6M324 353.2h-3.4M411.7 430.3v3.6M324 347.4h-3.4M416.1 430.3v3.6M324 343.3h-3.4M419.4 430.3v3.6M324 340.1h-3.4M422.2 430.3v3.6M324 337.5h-3.4M424.5 430.3v3.6M324 335.3h-3.4M426.5 430.3v3.6M324 333.4h-3.4M428.3 430.3v3.6M324 331.7h-3.4M440.4 430.3v3.6M324 320.3h-3.4M446.5 430.3v3.6M324 314.5h-3.4M450.9 430.3v3.6M324 310.4h-3.4M454.2 430.3v3.6M324 307.2h-3.4M457 430.3v3.6M324 304.6h-3.4M459.3 430.3v3.6M324 302.4h-3.4M461.3 430.3v3.6M324 300.5h-3.4M463.1 430.3v3.6M324 298.8h-3.4" stroke="#000" stroke-width="1.9" fill="none"/>
<path d="M324.3 295.8V430.3" stroke="#000" stroke-width="2" fill="none"/>
<path d="M324 430.1H465.5" stroke="#000" stroke-width="2" fill="none"/>
<text class="tk" transform="translate(315.7 452.2) scale(0.65 1)">1</text>
<text class="tk" transform="translate(321.3 452.2) scale(0.87 1)">0</text>
<text class="tk" transform="translate(328.6 444.8) scale(0.87 1)">0</text>
<text class="tk" transform="translate(351.2 452.2) scale(0.65 1)">1</text>
<text class="tk" transform="translate(356.8 452.2) scale(0.87 1)">0</text>
<text class="tk" transform="translate(364.1 444.8) scale(0.87 1)">1</text>
<text class="tk" transform="translate(385.7 452.2) scale(0.65 1)">1</text>
<text class="tk" transform="translate(391.3 452.2) scale(0.87 1)">0</text>
<text class="tk" transform="translate(398.6 444.8) scale(0.87 1)">2</text>
<text class="tk" transform="translate(420.6 452.2) scale(0.65 1)">1</text>
<text class="tk" transform="translate(426.2 452.2) scale(0.87 1)">0</text>
<text class="tk" transform="translate(433.5 444.8) scale(0.87 1)">3</text>
<text class="tk" transform="translate(454.9 452.2) scale(0.65 1)">1</text>
<text class="tk" transform="translate(460.5 452.2) scale(0.87 1)">0</text>
<text class="tk" transform="translate(467.8 444.8) scale(0.87 1)">4</text>
<text class="tv" transform="translate(312.6 439.3) rotate(-90) scale(0.59 1)">1</text>
<text class="tv" transform="translate(312.6 432.7) rotate(-90) scale(0.84 1)">0</text>
<text class="tv" transform="translate(305.6 423.8) rotate(-90) scale(0.82 1.05)">0</text>
<text class="tv" transform="translate(312.6 406.2) rotate(-90) scale(0.59 1)">1</text>
<text class="tv" transform="translate(312.6 399.6) rotate(-90) scale(0.84 1)">0</text>
<text class="tv" transform="translate(305.6 390.7) rotate(-90) scale(0.82 1.05)">1</text>
<text class="tv" transform="translate(312.6 373.8) rotate(-90) scale(0.59 1)">1</text>
<text class="tv" transform="translate(312.6 367.2) rotate(-90) scale(0.84 1)">0</text>
<text class="tv" transform="translate(305.6 358.3) rotate(-90) scale(0.82 1.05)">2</text>
<text class="tv" transform="translate(312.6 340.8) rotate(-90) scale(0.59 1)">1</text>
<text class="tv" transform="translate(312.6 334.2) rotate(-90) scale(0.84 1)">0</text>
<text class="tv" transform="translate(305.6 325.3) rotate(-90) scale(0.82 1.05)">3</text>
<text class="tv" transform="translate(312.6 307.2) rotate(-90) scale(0.59 1)">1</text>
<text class="tv" transform="translate(312.6 300.6) rotate(-90) scale(0.84 1)">0</text>
<text class="tv" transform="translate(305.6 291.7) rotate(-90) scale(0.82 1.05)">4</text>
<path d="M122 613h.01M164 607h.01M157 605h.01M120.5 640.5h.01M129 620.5h.01M138 633.5h.01M134 608.5h.01M155 634h.01M134.5 642.5h.01M147.5 634.5h.01M171 631h.01M159 616h.01M150.5 611h.01M172 631h.01M134.5 635.5h.01M152 618h.01M163.5 628.5h.01M130 620.5h.01M133 612.5h.01M179.5 639.5h.01M140 644.5h.01M143.5 621h.01M145 635h.01M150 612.5h.01M173.5 630h.01M129 610h.01M160 609h.01M143 605.5h.01M152 617h.01M152.5 606.5h.01M127.5 630h.01M143 635.5h.01M121 640.5h.01M183.5 619.5h.01M131 618h.01M148 627h.01M172.5 639.5h.01M118.5 636.5h.01M136 621.5h.01M142 625.5h.01M158 628h.01M118.5 607h.01M157 623h.01M138 632.5h.01M133 626.5h.01M179 617.5h.01M126.5 638.5h.01M136.5 605h.01M123 609.5h.01M132.5 614.5h.01M124.5 629h.01M118.5 614.5h.01M130 612.5h.01M138 620.5h.01M140 621.5h.01M149.5 613h.01M127.5 611h.01M147 610.5h.01M156.5 605.5h.01M158 622h.01M155 602.5h.01M118.5 613.5h.01M139 612.5h.01M120.5 626.5h.01M121.5 619h.01M139.5 636h.01M119.5 632.5h.01M131.5 642.5h.01M129.5 639.5h.01M149 633.5h.01M141.5 623.5h.01M125 617.5h.01M143 638.5h.01M130 625h.01M162 625h.01M161 637.5h.01M127 619.5h.01M167.5 626.5h.01M148.5 629.5h.01M153 618h.01M179 619.5h.01M121 639h.01M155.5 616.5h.01M154 605.5h.01M128.5 632h.01M129.5 623h.01M173 619.5h.01M137.5 618h.01M128.5 603h.01M127.5 623h.01M155.5 623h.01M133 607h.01M159 631h.01M165 633.5h.01M139.5 602.5h.01M134.5 621h.01M127.5 614.5h.01M159.5 628h.01M126.5 630.5h.01M123.5 628h.01M139.5 642.5h.01M140 604.5h.01M155 642.5h.01M143 621h.01M134.5 625.5h.01M153 627.5h.01M146.5 631h.01M143 610h.01M134.5 632.5h.01M146.5 640h.01M121 622h.01M136 618h.01M142.5 633.5h.01M152 618.5h.01M164.5 603.5h.01M164 640h.01M146 617.5h.01M163.5 637.5h.01M131 632.5h.01M128 636.5h.01M137 638h.01M136 639h.01M118.5 609h.01M151 628.5h.01M126 606.5h.01M136.5 614.5h.01M153 620h.01M157 619h.01M138.5 630h.01M140.5 638.5h.01M141.5 611.5h.01M150.5 614h.01M160 637h.01M155 631h.01M153 630.5h.01M141.5 614h.01M148.5 604.5h.01M135.5 638.5h.01M162.5 610.5h.01M154 626.5h.01M141.5 616.5h.01M131.5 635h.01M151 612.5h.01M118.5 620.5h.01M123.5 614h.01M134.5 640h.01M141.5 607h.01M118.5 641.5h.01M118.5 617h.01M124.5 637h.01M145.5 626.5h.01M118.5 633.5h.01M140 634h.01M137.5 622h.01M174.5 626.5h.01M162 616.5h.01M134 617h.01M139 635h.01M151 638.5h.01M118.5 625h.01M133.5 629h.01M137.5 638h.01M141.5 603h.01M130.5 605h.01M145.5 611.5h.01M136.5 620h.01M159 628.5h.01M145 606.5h.01M118.5 639.5h.01M140.5 626h.01M151 625.5h.01M138.5 640h.01M149.5 622h.01M125 637.5h.01M137.5 620h.01M158.5 609.5h.01M141 620.5h.01M120.5 627h.01M123 608h.01M134.5 608h.01M141.5 629h.01M163 608.5h.01M140.5 624.5h.01M130 640h.01M139 634.5h.01M137 636.5h.01M128.5 612h.01M118.5 617.5h.01M141.5 627h.01M149.5 607h.01M137 634h.01M146 638.5h.01M149 631h.01M134.5 640.5h.01M142 643h.01M148 627.5h.01M164 621h.01M142 626h.01M139 619h.01M151.5 640.5h.01M131 614.5h.01M118.5 609.5h.01M150 605h.01M124.5 624h.01M144 625h.01M160.5 638h.01M146.5 641.5h.01M144 619.5h.01M118.5 626h.01M143 632.5h.01M127 613h.01M141 630.5h.01M169.5 609h.01M129 637.5h.01M149 642h.01M143.5 613h.01M148.5 611.5h.01M130 606h.01M120.5 629.5h.01M158.5 619h.01M146.5 628h.01M153.5 626.5h.01M168.5 606h.01M132 623h.01M144.5 620h.01M132 632.5h.01M146 627.5h.01M118.5 615.5h.01M128 627.5h.01M139 613h.01M121.5 610.5h.01M129 616h.01M132 622.5h.01M149.5 604.5h.01M125.5 642h.01M133 616h.01M167.5 620h.01M134.5 614.5h.01M118.5 628h.01M148.5 630.5h.01M138 604.5h.01M151 610h.01M141 619h.01M126 620.5h.01M151 631.5h.01M118.5 637h.01M147.5 620h.01M132.5 635h.01M122 616.5h.01M139.5 623.5h.01M160 633h.01M153.5 607.5h.01M143.5 606.5h.01M133 634h.01M144 635.5h.01M135 613h.01M138 613.5h.01M132 608h.01M118.5 641h.01M144.5 633.5h.01M128.5 614h.01M140 627h.01M126 637.5h.01M128 616h.01M118.5 605h.01M163.5 612.5h.01M138 622.5h.01M125 604h.01M131 621.5h.01M131.5 622h.01M136.5 607.5h.01M135.5 625.5h.01M142 636.5h.01M139.5 622.5h.01M159.5 627h.01M146.5 628.5h.01M141 612h.01M138.5 632h.01M125.5 621.5h.01M150.5 603.5h.01M124 638h.01M133.5 611h.01M135 626.5h.01M143 620.5h.01M158.5 618.5h.01M143.5 612h.01M118.5 608h.01M153 604h.01M141.5 639.5h.01M143.5 605.5h.01M138 629h.01M136.5 636h.01M134.5 627h.01M166 636.5h.01M169 604h.01M133.5 633h.01M172 642.5h.01M146.5 630h.01M140.5 613h.01M151 602h.01M138.5 638h.01M131 628.5h.01M120 604h.01M141.5 629.5h.01M118.5 637.5h.01M142.5 624h.01M119.5 641.5h.01M136 627h.01M119 605h.01M127.5 612.5h.01M175 605h.01M137.5 604.5h.01M155 612.5h.01M125 606h.01M134.5 607.5h.01M149.5 621.5h.01M130.5 624.5h.01M165 628h.01M136 610h.01M138 614.5h.01M123.5 631h.01M137.5 621.5h.01M148 637h.01M164 619h.01M145 609.5h.01M118.5 640h.01M133.5 614h.01M124 634.5h.01M147.5 639.5h.01M137.5 640h.01M118.5 606.5h.01M139 617.5h.01M144.5 613h.01M139.5 640.5h.01M141 608.5h.01M131.5 633h.01M137 630h.01M152.5 638h.01M121 615.5h.01M144 622h.01M134 621h.01M147.5 632h.01M121 606.5h.01M119 626.5h.01M146.5 633.5h.01M149.5 627h.01M149.5 618h.01M118.5 640.5h.01M142 639.5h.01M120 621.5h.01M179.5 625.5h.01M124 633.5h.01M128.5 637.5h.01M162.5 625h.01M144 630.5h.01M156 607.5h.01M154.5 639h.01M130.5 640h.01M128.5 638h.01M118.5 605.5h.01M133 611.5h.01M154.5 637h.01M159.5 625h.01M137.5 602h.01M153.5 618h.01M152 611h.01M132 640h.01M156 625.5h.01M157.5 623.5h.01M135 629h.01M118.5 618h.01M147 614h.01M139.5 604h.01M146.5 637.5h.01M120 607.5h.01M152.5 635.5h.01M130 628.5h.01M163.5 636h.01M141.5 620.5h.01M129 609.5h.01M151 629.5h.01M146 626h.01M118.5 634.5h.01M125.5 616h.01M177 629.5h.01M154 627.5h.01M152.5 630.5h.01M138 616h.01M119.5 637.5h.01M139.5 611h.01M144 643.5h.01M123 637.5h.01M152.5 604.5h.01M142.5 613.5h.01M123.5 631.5h.01M140 616h.01M118.5 623.5h.01M128 612.5h.01M126 610.5h.01M118.5 638.5h.01M138.5 633h.01M142.5 612h.01M153.5 623.5h.01M146 623.5h.01M167.5 611.5h.01M119.5 620h.01M172 603h.01M142 628h.01M152 637.5h.01M140.5 625h.01M132.5 624h.01M159.5 603.5h.01M125 640.5h.01M118.5 614h.01M155 614h.01M164 613.5h.01M121 615h.01M158 626.5h.01M145 630.5h.01M129.5 637h.01M118.5 628.5h.01M157.5 626.5h.01M148 640.5h.01M150 636.5h.01M159.5 604.5h.01M147 607h.01M148 641h.01M159.5 611.5h.01M118.5 624h.01M158.5 622h.01M148 623h.01M145 631.5h.01M142.5 621.5h.01M144.5 616.5h.01M161 624.5h.01M127 608.5h.01M132 634.5h.01M159 641.5h.01M123 624.5h.01M147.5 623.5h.01M161 631.5h.01M138.5 629.5h.01M152 638.5h.01M119.5 635h.01M133.5 608h.01M129 622h.01M144 633.5h.01M137.5 608.5h.01M126 622h.01M151.5 626h.01M128.5 628h.01M133 624.5h.01M149.5 628.5h.01M124 636.5h.01M160 605h.01M146 617h.01M135.5 638h.01M131.5 628.5h.01M134 610.5h.01M135 608h.01M122 603h.01M154.5 609h.01M148.5 613h.01M138 633h.01M147.5 604h.01M130.5 617h.01M120.5 623.5h.01M139.5 609.5h.01M134 623.5h.01M124.5 607.5h.01M142.5 630h.01M133.5 606h.01M157.5 630.5h.01M135.5 633h.01M167 633.5h.01M136.5 637h.01M140.5 637h.01M165.5 606h.01M154 634.5h.01M146 638h.01M151.5 620.5h.01M153.5 608.5h.01M155 615.5h.01M157 628h.01M129 641h.01M139 635.5h.01M150.5 627h.01M157.5 610h.01M139.5 631.5h.01M130 616h.01M157 632.5h.01M141.5 619h.01M140.5 630h.01M141.5 615h.01M129.5 614h.01M149.5 633.5h.01M120 614.5h.01M138 635h.01M121.5 637.5h.01M139.5 625h.01M118.5 630.5h.01M121 617h.01M135.5 622.5h.01M122.5 638h.01M121.5 633.5h.01M168.5 639h.01M127.5 640.5h.01M139 625.5h.01M145.5 628.5h.01M133 643h.01M142 605.5h.01M129 622.5h.01M131.5 616h.01M137 623h.01M145 622h.01M158 615.5h.01M129 625.5h.01M124.5 617.5h.01M161.5 615.5h.01M137 619h.01M136.5 613h.01M143 619.5h.01M135.5 626.5h.01M155.5 620.5h.01M154 614h.01M146.5 612h.01M129 613h.01M145.5 623.5h.01M122.5 606h.01M149.5 642.5h.01M118.5 603.5h.01M141 613.5h.01M156.5 606h.01M122.5 616h.01M135.5 604.5h.01M132.5 638.5h.01M132 629.5h.01M130.5 609h.01M126.5 631.5h.01M140 637h.01M148 611h.01M153.5 632.5h.01M154 630h.01M157 635.5h.01M118.5 619.5h.01M149.5 606h.01M171.5 624.5h.01M152 603.5h.01M168.5 638h.01M159.5 630h.01M154.5 620.5h.01M127.5 604.5h.01M127 611.5h.01M141 636h.01M144 612h.01M118.5 616h.01M125.5 636.5h.01M148 626h.01M163 628.5h.01M141.5 621h.01M148 620h.01M146 607h.01M129 614.5h.01M171 604.5h.01M137.5 625.5h.01M151 635.5h.01M141 621h.01M147 605.5h.01M165 605h.01M118.5 630h.01M153.5 606h.01M159 617h.01M151.5 615.5h.01M159.5 641.5h.01M132 634h.01M143 625.5h.01M138.5 603.5h.01M119 607h.01M171.5 637.5h.01M148.5 610h.01M127 615h.01M131 633h.01M143.5 604.5h.01M154 626h.01M135.5 620h.01M155.5 602.5h.01M156.5 632.5h.01M131 631.5h.01M133.5 620h.01M118.5 623h.01M156 611.5h.01M159.5 620h.01M146 637h.01M132.5 640.5h.01M135 633.5h.01M143.5 615.5h.01M130 614h.01M160 634.5h.01M150 619.5h.01M132.5 608.5h.01M121.5 638h.01M146.5 619h.01M139 633h.01M119.5 612h.01M121 616h.01M122 605h.01M124 623.5h.01M122.5 617.5h.01M167.5 618.5h.01M140 621h.01M133.5 637h.01M138.5 638.5h.01M150.5 614.5h.01M134 611.5h.01M145 612.5h.01M140 618.5h.01M145.5 605.5h.01M143.5 622h.01M129 633.5h.01M120 607h.01M126 617.5h.01M129.5 632.5h.01M134 642h.01M147 613.5h.01M130.5 611.5h.01M133.5 609h.01M159 608h.01M147.5 611h.01M129 605.5h.01M132 635.5h.01M138 609.5h.01M146.5 604h.01M141 602h.01M152 604h.01M135 614.5h.01M157.5 634.5h.01M118.5 621.5h.01M146.5 616.5h.01M141 627h.01M139.5 637h.01M119 630.5h.01M124 612h.01M121 621h.01M143.5 638h.01M159.5 644h.01M157 610h.01M135.5 639h.01M142.5 626h.01M138.5 604h.01M130 603h.01M149.5 634.5h.01M138.5 625h.01M143.5 619.5h.01M150.5 629h.01M150.5 603h.01M121.5 601.5h.01M137 626h.01M152 619.5h.01M137 635h.01M137 602h.01M150 606h.01M128.5 612.5h.01M119 612h.01M137 631h.01M127.5 618.5h.01M157.5 607h.01M162.5 616h.01M118.5 615h.01M123 605h.01M120.5 630.5h.01M131 606.5h.01M191.5 605h.01M146 628.5h.01M149.5 636h.01M156 632h.01M151 635h.01M151.5 609.5h.01M136.5 634h.01M127 626h.01M154 611.5h.01M136 634h.01M118.5 634h.01M140.5 622.5h.01M118.5 616.5h.01M148.5 638h.01M128 621h.01M131 621h.01M130 624.5h.01M151.5 631h.01M142 618h.01M135 624h.01M121 616.5h.01M140.5 604.5h.01M154.5 629.5h.01M123.5 632.5h.01M157.5 636.5h.01M149 601h.01M146.5 624h.01M161 607h.01M136 625.5h.01M138 639.5h.01M175 616.5h.01M162 602.5h.01M145 627.5h.01M148 604.5h.01M131 640h.01M158.5 623.5h.01M129.5 612h.01M125 623.5h.01M132.5 602.5h.01M143 616.5h.01M146 608.5h.01M145.5 617.5h.01M127.5 619h.01M154 609h.01M140.5 623.5h.01M151.5 616.5h.01M145 619h.01M119.5 633.5h.01M121.5 631.5h.01M138 615.5h.01M124.5 625.5h.01M143 611.5h.01M137.5 628h.01M162.5 600.5h.01M130.5 607h.01M147 631h.01M132 633.5h.01M134 635.5h.01M130 607h.01M162.5 631.5h.01M141 609.5h.01M119.5 611.5h.01M132.5 631h.01M149 603h.01M152.5 629.5h.01M142.5 628.5h.01M138 618.5h.01M126 626h.01M177 612.5h.01M148.5 610.5h.01M118.5 612.5h.01M157.5 631.5h.01M156.5 608h.01M135.5 611.5h.01M135.5 601.5h.01M165.5 604.5h.01M152 634h.01M131.5 605.5h.01M145 615.5h.01M150 617h.01M120.5 623h.01M143 604.5h.01M136.5 617h.01M160 620h.01M125 619h.01M127 627.5h.01M158.5 629h.01M137 632.5h.01M145.5 610.5h.01M139.5 614h.01M150 621h.01M150.5 633.5h.01M137.5 618.5h.01M149 608.5h.01M137 627h.01M133.5 622.5h.01M127 631.5h.01M144 630h.01M139.5 619.5h.01M139 611h.01M145 618h.01M160.5 622.5h.01M120.5 624h.01M153.5 628h.01M127.5 616h.01M174.5 623h.01M155 607h.01M132 625.5h.01M136.5 625.5h.01M139.5 630h.01M136 621h.01M169 631h.01M141 626.5h.01M139 623.5h.01M128 621.5h.01M129 618h.01M153.5 615.5h.01M141 614.5h.01M136.5 615.5h.01M177.5 616.5h.01M168 613.5h.01M134 617.5h.01M125.5 615h.01M156.5 616h.01M152 619h.01M133.5 635h.01M151.5 621.5h.01M148 615h.01M149 625h.01M123.5 636h.01M133.5 623h.01M128 618.5h.01M121 618h.01M161.5 621.5h.01M118.5 620h.01M131 619.5h.01M135 625h.01M143.5 611.5h.01M136.5 619h.01M127 620h.01M119.5 616h.01M126 619.5h.01M130.5 622.5h.01M134 627.5h.01M136.5 626.5h.01M134.5 623.5h.01M124 618.5h.01M147.5 619h.01M150.5 634h.01M153 639.5h.01M143 615h.01M156 608h.01M144.5 612.5h.01M160 605.5h.01M143 613.5h.01M122 626.5h.01M158 617h.01M123 621.5h.01M118.5 621h.01M152.5 634h.01M138.5 617.5h.01M130 626.5h.01M139.5 635h.01M138 632h.01M129 608h.01M134 624h.01M151 626h.01M131 620.5h.01M122 620.5h.01M130 618h.01M150 637h.01M144 619h.01M134.5 619h.01M128.5 616.5h.01M141.5 605h.01M145 612h.01M122.5 629h.01M132 617h.01M126.5 612.5h.01M160 622h.01M155 632.5h.01M133 616.5h.01M139 626h.01M139.5 613h.01M132.5 630.5h.01M144 616h.01M162.5 617h.01M118.5 611.5h.01M142 621h.01M136.5 613.5h.01M140 617.5h.01M140 612h.01M124 616.5h.01M147 620h.01M160.5 606h.01M136 609.5h.01M157 623.5h.01M151.5 615h.01M135 629.5h.01M137.5 611.5h.01M153.5 616h.01M146.5 626.5h.01M132 618.5h.01M137 627.5h.01M122 610h.01M138.5 616h.01M126 630h.01M152.5 617h.01M153 626h.01M136 608.5h.01M158 625.5h.01M154 621h.01M152 616h.01M137 617.5h.01M167 610.5h.01M146 622h.01M174.5 608h.01M146 613.5h.01M155.5 617.5h.01M141 622.5h.01M133 619h.01M147.5 637h.01M152.5 626.5h.01M162 613.5h.01M131 603h.01M135.5 606h.01M130 619h.01M125.5 619h.01M150 611h.01M119 622h.01M130 610h.01M145.5 610h.01M142 605h.01M151 616.5h.01M130.5 621h.01M161.5 607.5h.01M136.5 614h.01M118.5 610h.01M135.5 619.5h.01M129 634h.01M163 627.5h.01M125 631.5h.01M135.5 609h.01M157.5 603h.01M131.5 620h.01M159.5 620.5h.01M126.5 627.5h.01M149 624.5h.01M137 609h.01M146.5 607h.01M131 618.5h.01M146 616h.01M148 634.5h.01M118.5 625.5h.01M134 612.5h.01M149 623h.01M127.5 627h.01M157.5 616h.01M149 636h.01M118.5 611h.01M170 615h.01M129.5 633h.01M145 624.5h.01M124.5 622h.01M130 604.5h.01M135.5 605.5h.01M133.5 617h.01M148 620.5h.01M143 618h.01M138.5 618h.01M159 603h.01M139.5 606.5h.01M141 618h.01M155 622h.01M140 617h.01M132.5 625h.01M146.5 611.5h.01M137 626.5h.01M132 621.5h.01M136.5 620.5h.01M168.5 628h.01M126 623.5h.01M121.5 611h.01M121 625.5h.01M127 616.5h.01M138.5 624.5h.01M148 603.5h.01M131.5 607h.01M170.5 614h.01M144.5 625.5h.01M143 633.5h.01M150 623h.01M164.5 611h.01M146.5 627.5h.01M132.5 632.5h.01M145 624h.01M136.5 638h.01M144.5 629h.01M165.5 620h.01M152 626.5h.01M153 611h.01M148.5 614h.01M125.5 623.5h.01M124.5 631.5h.01M152 621.5h.01M126.5 608h.01M156.5 621h.01M147.5 634h.01M132.5 609h.01M143 620h.01M160.5 607.5h.01M127 623h.01M144.5 628h.01M148.5 613.5h.01M141.5 631h.01M138 619.5h.01M146 619.5h.01M136 605h.01M160 624h.01M123 610h.01M131 629h.01M144 629.5h.01M130 621h.01M156.5 613h.01M167.5 614.5h.01M146 610.5h.01M139 610h.01M146 614.5h.01M142.5 615.5h.01M175.5 618h.01M144 620h.01M149.5 629h.01M148 603h.01M155 611.5h.01M130 630.5h.01M132.5 624.5h.01M122 627.5h.01M153.5 613.5h.01M123 615.5h.01M149.5 601h.01M126.5 621h.01M163.5 627h.01M139.5 610.5h.01M164.5 616h.01M159 621h.01M156 620.5h.01M158.5 631h.01M154 623.5h.01M136.5 619.5h.01M146 620.5h.01M123.5 625h.01M146 612.5h.01M139.5 618.5h.01M136 632h.01M167 625h.01M139.5 608h.01M148 613.5h.01M131 624h.01M152.5 623.5h.01M139 622.5h.01M170.5 632.5h.01M152.5 621h.01M160 640h.01M144.5 617.5h.01M119 640.5h.01M166.5 616.5h.01M132 627.5h.01M150.5 611.5h.01M159 627.5h.01M150 609.5h.01M169.5 621.5h.01M154 616.5h.01M153.5 608h.01M163 611.5h.01M125.5 627.5h.01M166.5 625h.01M138 631h.01M124 622.5h.01M149.5 618.5h.01M135 627.5h.01M123 610.5h.01M149 634h.01M142 608h.01M122 617h.01M148 616.5h.01M141 605h.01M143 627.5h.01M128.5 625h.01M129.5 621h.01M120.5 602h.01M145.5 622h.01M160.5 608h.01M121.5 615.5h.01M125 626h.01M147 622h.01M147 624.5h.01M150.5 616h.01M145.5 612h.01M123.5 624.5h.01M134.5 628.5h.01M160 611h.01M141.5 622.5h.01M141 620h.01M132.5 630h.01M118.5 622.5h.01M149.5 609.5h.01M139 617h.01M143 615.5h.01M142.5 617.5h.01M153.5 620.5h.01M141 628h.01M129.5 620h.01M164 623h.01M144.5 622h.01M160.5 620.5h.01M124.5 624.5h.01M174.5 622h.01M151 611.5h.01M137.5 624.5h.01M158.5 628h.01M148.5 614.5h.01M128 635h.01M151.5 619.5h.01M150 629h.01M133.5 614.5h.01M144 612.5h.01M197 631h.01M207 618h.01M151 610.5h.01M219.5 614.5h.01M200.5 619h.01M172.5 628h.01M202 628.5h.01M189 635.5h.01M213 631.5h.01M159.5 623h.01M180.5 605h.01M171 628h.01M186.5 636.5h.01M173.5 606h.01M166.5 605.5h.01M164.5 635.5h.01M209 621.5h.01M182 641.5h.01M196.5 628h.01M180 608h.01M174.5 616h.01M209 618h.01M218 630.5h.01M184.5 638h.01M199 610.5h.01M179.5 638h.01M204.5 617h.01M204 621.5h.01M174 626.5h.01M213 627.5h.01M202 614.5h.01M189.5 639h.01M175 624.5h.01M205 622h.01M198.5 634h.01M194 636.5h.01M209 624h.01M178 608.5h.01M188.5 642.5h.01M194.5 613.5h.01M207.5 621.5h.01M181 604h.01M216 621.5h.01M214 633.5h.01M196 637h.01M173 632.5h.01M203 623.5h.01M214.5 612h.01M188 628h.01M173 634h.01M178 611h.01M193 631.5h.01M207.5 607.5h.01M182 623h.01M178.5 628.5h.01M219.5 635h.01M199.5 628h.01M172.5 636.5h.01M202.5 637h.01M194 621h.01M173.5 634.5h.01M213 626h.01M197.5 613h.01M210.5 613h.01M199 632.5h.01M161 609.5h.01M188 620.5h.01M194.5 604.5h.01M186.5 614h.01M195.5 619h.01M186 638.5h.01M183 613.5h.01M213.5 625.5h.01M189.5 626.5h.01M193.5 639.5h.01M170 626.5h.01M172.5 619h.01M159.5 617.5h.01M200.5 598.5h.01M206.5 614h.01M193 632h.01M204.5 618h.01M220 628.5h.01M205.5 634.5h.01M159.5 637.5h.01M187.5 635.5h.01M208 622.5h.01M191.5 609.5h.01M175 610.5h.01M185.5 614.5h.01M210.5 633h.01M176 613.5h.01M180.5 634h.01M191 619.5h.01M187 643h.01M210 610h.01M159 618h.01M154 630.5h.01M202.5 639.5h.01M172 635.5h.01M176.5 616h.01M197.5 618h.01M207 614.5h.01M195.5 620h.01M189.5 630h.01M166.5 602h.01M209.5 606.5h.01M168 641h.01M184.5 631.5h.01M184.5 606h.01M174 632.5h.01M217.5 629h.01M177 614.5h.01M167.5 643.5h.01M179 638.5h.01M177.5 629.5h.01M158.5 637h.01M212 617h.01M220 611h.01M180.5 606.5h.01M201.5 614h.01M207 619.5h.01M206 630.5h.01M179.5 635h.01M169 633.5h.01M195.5 606.5h.01M205 610h.01M189.5 609.5h.01M194 607h.01M210.5 605h.01M192 610h.01M192 607h.01M181.5 615h.01M207.5 634h.01M199 615h.01M160 606.5h.01M178 612h.01M182 640.5h.01M185 606.5h.01M184.5 620.5h.01M193 609.5h.01M181.5 632h.01M203 628.5h.01M200 628.5h.01M208.5 629.5h.01M187.5 621h.01M209 604h.01M206.5 625.5h.01M194.5 616.5h.01M186.5 624.5h.01M190 616h.01M204 613.5h.01M196 615h.01M189 608h.01M188 616h.01M167 615.5h.01M178.5 609h.01M178 618h.01M200 606h.01M205 619.5h.01M190.5 631h.01M181.5 622.5h.01M194 605.5h.01M197 638h.01M206.5 604h.01M184 621.5h.01M220 637h.01M200 612h.01M177.5 628.5h.01M186.5 613.5h.01M189 605.5h.01M186 616h.01M209 629h.01M186.5 615.5h.01M188 611.5h.01M197 613h.01M177.5 644h.01M178.5 606.5h.01M176 635.5h.01M176.5 640.5h.01M167 628.5h.01M158.5 603.5h.01M216 635.5h.01M180.5 609.5h.01M197 639h.01M197.5 623.5h.01M176 615h.01M219.5 606.5h.01M185 616.5h.01M197 608h.01M168 616.5h.01M194.5 616h.01M211.5 640h.01M201 635h.01M207.5 638.5h.01M209.5 635h.01M176.5 615.5h.01M163 631h.01M216 612h.01M179 622h.01M171 637h.01M188.5 636.5h.01M182.5 609h.01M166.5 620h.01M204 629.5h.01M205 616.5h.01M208 612.5h.01M209 635.5h.01M208 634.5h.01M177 642h.01M204 607.5h.01M181.5 625.5h.01M184 615.5h.01M215 629h.01M193 633h.01M190 624.5h.01M205 618h.01M172 625.5h.01M211.5 613h.01M198.5 614.5h.01M217 619h.01M198 604.5h.01M170 600h.01M189 611.5h.01M190 626.5h.01M174.5 607.5h.01M184 613.5h.01M207 636h.01M173 608h.01M177 622h.01M192.5 621h.01M204 612.5h.01M178.5 616.5h.01M187 630h.01M205.5 637.5h.01M169 637.5h.01M163 641h.01M172 605h.01M179 610h.01M214.5 614.5h.01M172.5 633.5h.01M197 617h.01M170 611.5h.01M211.5 611.5h.01M183 631h.01M203 616h.01M198 608h.01M173 624.5h.01M194.5 605.5h.01M191 619h.01M192.5 629.5h.01M185 627h.01M209 609.5h.01M176 609.5h.01M191 611.5h.01M191 608.5h.01M208.5 611h.01M184.5 630h.01M173 625h.01M178.5 608h.01M212 624.5h.01M190.5 622.5h.01M202.5 628.5h.01M159 612h.01M185.5 639h.01M215.5 637.5h.01M141 612.5h.01M191 609h.01M192 618.5h.01M165 620h.01M194.5 625.5h.01M177.5 624h.01M167.5 632.5h.01M189 620h.01M192 625h.01M182 635.5h.01M174 620.5h.01M174 620h.01M194.5 641h.01M190.5 634h.01M192 604h.01M180 603.5h.01M161.5 614.5h.01M200.5 632h.01M146.5 639h.01M211 615.5h.01M192.5 602h.01M188 639.5h.01M172.5 628.5h.01M214 626h.01M193.5 642.5h.01M202.5 616h.01M185.5 615.5h.01M182.5 622.5h.01M195 625h.01M189 626.5h.01M190.5 611h.01M191 632h.01M167.5 616.5h.01M189.5 619.5h.01M188 639h.01M181 602.5h.01M180 641.5h.01M179 635.5h.01M196 618h.01M183 634h.01M179.5 618h.01M217.5 618h.01M198 615.5h.01M198.5 626h.01M191 638.5h.01M218 609h.01M206.5 608.5h.01M188.5 612.5h.01M174 639h.01M166.5 618h.01M192 643.5h.01M183 637h.01M176 637.5h.01M183.5 633h.01M217.5 638h.01M199 616.5h.01M175 632h.01M195 616h.01M198.5 608h.01M198.5 623.5h.01M208 613.5h.01M188 625h.01M176 634h.01M215 601.5h.01M217.5 624h.01M191 625.5h.01M186.5 621.5h.01M189.5 613.5h.01M184 616h.01M173 615.5h.01M197 609.5h.01M191.5 635.5h.01M216 606.5h.01M187 606h.01M215 636h.01M185.5 639.5h.01M179.5 604h.01M177.5 637h.01M198 633h.01M183.5 642.5h.01M188.5 617.5h.01M205.5 605.5h.01M206 614h.01M190.5 633h.01M167 638h.01M198.5 630.5h.01M174.5 625.5h.01M189.5 608.5h.01M153.5 629.5h.01M180 634h.01M171.5 604h.01M175.5 628.5h.01M174 604h.01M184.5 621.5h.01M194.5 628h.01M202 629h.01M188 635h.01M183 619h.01M196.5 640.5h.01M218.5 601h.01M156.5 616.5h.01M194 641.5h.01M199.5 639h.01M190.5 634.5h.01M189 624.5h.01M173.5 633h.01M177 631h.01M199 621h.01M197 618h.01M175 640.5h.01M178 636.5h.01M217.5 604.5h.01M190.5 611.5h.01M189 621h.01M180.5 639h.01M205 607.5h.01M197.5 635h.01M171.5 637h.01M167.5 614h.01M179.5 641h.01M183.5 614.5h.01M186 608.5h.01M181.5 611.5h.01M182 617.5h.01M200.5 630.5h.01M208.5 622h.01M175 627.5h.01M182 623.5h.01M201.5 621h.01M178.5 610h.01M192 602h.01M179 614h.01M162 607h.01M192 621.5h.01M168 634h.01M188 623.5h.01M185 603.5h.01M180 639h.01M175.5 621.5h.01M211 610h.01M168.5 629h.01M181 611h.01M189.5 624h.01M178.5 636h.01M177.5 611h.01M211 614h.01M203.5 619.5h.01M193 629h.01M187 642.5h.01M178.5 606h.01M198.5 606h.01M182 630h.01M182.5 616h.01M215.5 628h.01M198 627h.01M186.5 638h.01M176.5 611h.01M156 614.5h.01M188.5 631h.01M192 632.5h.01M178 642h.01M181 644.5h.01M206 606h.01M176.5 615h.01M186.5 615h.01M188 630h.01M211 638.5h.01M168.5 635h.01M209 620h.01M194 634h.01M175.5 616h.01M210.5 635h.01M194 610.5h.01M144.5 636.5h.01M182 607.5h.01M192.5 625h.01M188 635.5h.01M185 623h.01M199.5 615.5h.01M157.5 633.5h.01M180 629h.01M183.5 627.5h.01M191.5 617h.01M173.5 624.5h.01M194 613h.01M184.5 633h.01M173 620h.01M207.5 625.5h.01M202 623.5h.01M200.5 634h.01M194 628.5h.01M178 602.5h.01M200.5 615.5h.01M187 629h.01M149.5 619.5h.01M208.5 621h.01M159 639.5h.01M185.5 629h.01M180 625h.01M220 610.5h.01M198 606h.01M195.5 641.5h.01M186.5 621h.01M174.5 620h.01M178.5 621.5h.01M202.5 615h.01M187.5 643.5h.01M201.5 607h.01M212 639h.01M201 627.5h.01M200 632h.01M194 609.5h.01M170 638.5h.01M193.5 623h.01M183 623h.01M193.5 636h.01M173 632h.01M177 608.5h.01M195 603.5h.01M194 635h.01M216.5 604.5h.01M198 635.5h.01M188.5 637.5h.01M208 620h.01M184.5 623h.01M169.5 617h.01M198.5 628.5h.01M167 615h.01M182 639.5h.01M198.5 630h.01M190 618h.01M199.5 609.5h.01M173.5 621.5h.01M159.5 613h.01M166 613h.01M221 614h.01M196 632h.01M183.5 626.5h.01M174.5 621.5h.01M175.5 613h.01M193.5 631h.01M179 628h.01M200.5 612.5h.01M174 627.5h.01M192 613h.01M198.5 609.5h.01M187.5 631h.01M195 618h.01M206 619h.01M208 634h.01M189 619h.01M176.5 609h.01M189 623h.01M196 611.5h.01M191.5 624.5h.01M182.5 613h.01M202 615.5h.01M197.5 632.5h.01M190.5 626h.01M197.5 616h.01M170 627h.01M170 622.5h.01M205 620.5h.01M187 621.5h.01M158 633h.01M172 633h.01M193 619.5h.01M164.5 612h.01M183 606.5h.01M187 618h.01M188 627h.01M160 623h.01M209.5 626h.01M182 616h.01M187 613h.01M211.5 618.5h.01M173.5 615.5h.01M183 619.5h.01M179.5 626.5h.01M187 608.5h.01M208.5 626.5h.01M195 622h.01M189 619.5h.01M177 622.5h.01M200.5 606.5h.01M196.5 627h.01M167 635.5h.01M195 628h.01M200.5 616.5h.01M178.5 627h.01M203 611h.01M169 601.5h.01M192.5 607h.01M213.5 620.5h.01M192 619.5h.01M187 617.5h.01M183 618h.01M186 610.5h.01M206 629.5h.01M175.5 612h.01M203.5 610.5h.01M168.5 612h.01M172 615.5h.01M174 630.5h.01M193.5 617h.01M181.5 621.5h.01M217.5 619h.01M197.5 612.5h.01M151 618h.01M193 630h.01M189 626h.01M173.5 623h.01M203 610h.01M173 628.5h.01M175 615h.01M205 625h.01M219.5 617h.01M185 613.5h.01M193.5 627h.01M201 631h.01M177 613.5h.01M194.5 615.5h.01M207.5 616h.01M195.5 646h.01M184.5 614h.01M196.5 603h.01M185 631h.01M221 632h.01M175 623.5h.01M209.5 623.5h.01M144 613h.01M174 608h.01M201.5 606h.01M214 603.5h.01M181.5 610.5h.01M202.5 629h.01M171 616.5h.01M184.5 619h.01M191.5 610h.01M188.5 633h.01M173.5 616.5h.01M202 624h.01M179 620h.01M175 628.5h.01M181 635.5h.01M217.5 616.5h.01M179.5 630h.01M183.5 619h.01M198.5 629h.01M199.5 614h.01M174.5 628.5h.01M190.5 612.5h.01M193 618h.01M169.5 604.5h.01M205.5 608h.01M170.5 619h.01M177 620h.01M204.5 622h.01M192.5 615h.01M211 617.5h.01M185.5 616.5h.01M200 615h.01M175.5 622.5h.01M209.5 620.5h.01M171 631.5h.01M175.5 630.5h.01M183.5 634h.01M203.5 610h.01M182 632.5h.01M170.5 613.5h.01M199 625h.01M207 617.5h.01M171 632.5h.01M180.5 627h.01M207 618.5h.01M174 619.5h.01M187.5 629.5h.01M174.5 620.5h.01M183.5 631h.01M188 624.5h.01M155.5 615h.01M197 620.5h.01M186.5 622h.01M192 627h.01M175 616h.01M195.5 623h.01M201 630.5h.01M191.5 620h.01M193 604.5h.01M201 612h.01M194 622.5h.01M187.5 619h.01M209.5 621.5h.01M194.5 623h.01M181 614h.01M200.5 613.5h.01M162 617.5h.01M180.5 627.5h.01M201 638.5h.01M184.5 618h.01M173 602h.01M166 606.5h.01M181 628.5h.01M181 621.5h.01M187 622h.01M185 622h.01M214 616.5h.01M198 639h.01M192 616h.01M189 614.5h.01M191 616h.01M170 614.5h.01M175.5 633.5h.01M202.5 630h.01M210 623h.01M187 610h.01M195 619.5h.01M177.5 623h.01M177 619h.01M196 630h.01M178.5 626.5h.01M195.5 614h.01M179.5 623.5h.01M195.5 613h.01M194 640h.01M205 620h.01M191 629h.01M201 620.5h.01M176 601.5h.01M166.5 630h.01M184.5 631h.01M175.5 617h.01M171 620h.01M163.5 616.5h.01M180.5 602.5h.01M187.5 613.5h.01M197 611h.01M202.5 626h.01M205.5 621h.01M196.5 601.5h.01M190.5 628h.01M204.5 616.5h.01M192.5 631h.01M185.5 613.5h.01M162.5 627h.01M203.5 609h.01M201.5 615h.01M163.5 625h.01M182 614h.01M202 621h.01M187 627h.01M216 634h.01M170.5 612h.01M201.5 619h.01M211 608h.01M186 606h.01M183.5 615.5h.01M217 625h.01M171 615.5h.01M186 617.5h.01M161.5 608.5h.01M190.5 628.5h.01M189.5 621h.01M196 635.5h.01M185 619h.01M187.5 626h.01M183.5 607.5h.01M197.5 611h.01M203.5 545h.01M224.5 588.5h.01M199.5 554h.01M205 558.5h.01M209.5 549h.01M210 588h.01M195.5 585.5h.01M210 542.5h.01M206.5 565.5h.01M198 587.5h.01M194 571h.01M213 556.5h.01M203.5 576h.01M185 530h.01M207.5 546.5h.01M181.5 579h.01M209 547.5h.01M198 542.5h.01M228.5 549.5h.01M202 572.5h.01M208 548.5h.01M174.5 559h.01M179 594h.01M172.5 552.5h.01M178 560.5h.01M200.5 587h.01M208.5 563.5h.01M192 588.5h.01M206.5 590.5h.01M181 598h.01M208.5 546h.01M229.5 595.5h.01M187 529.5h.01M183.5 548.5h.01M188.5 556h.01M217 590h.01M202.5 582.5h.01M171 552h.01M203 562.5h.01M216 565.5h.01M203 557.5h.01M210.5 580.5h.01M196.5 562h.01M199 569h.01M186 559h.01M189.5 550.5h.01M196 537h.01M228.5 578.5h.01M175.5 598h.01M213.5 530.5h.01M184 547h.01M171 540h.01M225.5 545.5h.01M220.5 566h.01M216.5 565h.01M209 598h.01M195 571.5h.01M208.5 557.5h.01M189 558h.01M203.5 580.5h.01M171 574h.01M181 572.5h.01M174.5 533h.01M186 527h.01M180 581h.01M211 534h.01M178 556h.01M190 572h.01M202.5 567.5h.01M196.5 583.5h.01M208 531h.01M190 544h.01M214.5 573h.01M191 569.5h.01M198 566.5h.01M183.5 565.5h.01M205.5 580.5h.01M180 564.5h.01M186.5 596h.01M216.5 577h.01M193 538h.01M217.5 578h.01M186 562h.01M204 596.5h.01M194.5 544.5h.01M209.5 580.5h.01M213.5 583h.01M191 568.5h.01M190 565.5h.01M182.5 589h.01M175.5 529.5h.01M203 593.5h.01M196 561h.01M218 582.5h.01M193.5 569.5h.01M202 571.5h.01M211 573h.01M206.5 568.5h.01M214.5 586.5h.01M205 583h.01M183 585.5h.01M203.5 594.5h.01M198.5 598h.01M171.5 554h.01M209.5 595h.01M178.5 598h.01M209.5 565h.01M194.5 592h.01M221 554.5h.01M223 577h.01M188.5 556.5h.01M194 551.5h.01M219.5 564h.01M197 570h.01M190.5 588.5h.01M198 565.5h.01M184.5 560h.01M187 544.5h.01M196 554h.01M213 532.5h.01M191.5 568h.01M207.5 576h.01M177 550h.01M212 551.5h.01M180 534.5h.01M195.5 551h.01M217.5 579h.01M171 568h.01M209 546.5h.01M178.5 546.5h.01M214 541h.01M195.5 572.5h.01M199 542.5h.01M199 581h.01M197 542.5h.01M194.5 586h.01M177 553.5h.01M183 546h.01M179 577.5h.01M216 589.5h.01M193.5 573.5h.01M186 543h.01M172 545.5h.01M224.5 553h.01M158 594h.01M168 580.5h.01M162.5 555h.01M147.5 528.5h.01M138.5 527h.01M157 560.5h.01M144.5 537.5h.01M124.5 579.5h.01M138.5 545.5h.01M165.5 547.5h.01M129.5 534h.01M168 538.5h.01M136 539.5h.01M128 554.5h.01M155.5 557h.01M137.5 556h.01M151 563.5h.01M135.5 582.5h.01M167 528h.01M128.5 583h.01M148 536.5h.01M149.5 524.5h.01M138 567h.01M130 540h.01M133 579h.01M165.5 584h.01M138 534h.01M134 580.5h.01M164 530.5h.01M139 547h.01M151 540h.01M153 586.5h.01M154.5 584.5h.01M161 590.5h.01M131 560h.01M161 570.5h.01M140.5 585.5h.01M154.5 574h.01M137 595h.01M134 584.5h.01M127.5 581h.01M161.5 559.5h.01M165.5 556h.01M145.5 555h.01M155 580.5h.01M118.5 613h.01M120 611.5h.01M118.5 646h.01M118.5 612h.01M120 625h.01M120 618h.01M120 626h.01M120 627.5h.01M120 626.5h.01M120 625.5h.01M118.5 627.5h.01M120 619.5h.01M120 633h.01M120 630.5h.01M120 619h.01M118.5 629h.01M120 628h.01M120 615.5h.01M118.5 602h.01M118.5 606h.01M120 608h.01M118.5 603h.01M120 624.5h.01M118.5 643h.01M120 605.5h.01M120 616h.01M120 617.5h.01M120 617h.01M120 623h.01M120 608.5h.01M120 638h.01" fill="none" stroke="#000" stroke-width="1.9" stroke-linecap="square"/>
<rect x="117.1" y="512.3" width="141.9" height="134.8" fill="none" stroke="#000" stroke-width="1.8"/>
<path d="M169 512.3V647.1M117.1 595H259" stroke="#000" stroke-width="1.8" fill="none"/>
<path d="M118.6 647.1v7M117.1 645.8h-6.5M153.5 647.1v7M117.1 612.8h-6.5M188.4 647.1v7M117.1 579.8h-6.5M223.3 647.1v7M117.1 546.8h-6.5M258.2 647.1v7M117.1 513.8h-6.5" stroke="#000" stroke-width="1.5" fill="none"/>
<path d="M129.1 647.1v3.6M117.1 635.9h-3.4M135.3 647.1v3.6M117.1 630.1h-3.4M139.6 647.1v3.6M117.1 625.9h-3.4M143 647.1v3.6M117.1 622.7h-3.4M145.8 647.1v3.6M117.1 620.1h-3.4M148.1 647.1v3.6M117.1 617.9h-3.4M150.1 647.1v3.6M117.1 616h-3.4M151.9 647.1v3.6M117.1 614.3h-3.4M164 647.1v3.6M117.1 602.9h-3.4M170.2 647.1v3.6M117.1 597.1h-3.4M174.5 647.1v3.6M117.1 592.9h-3.4M177.9 647.1v3.6M117.1 589.7h-3.4M180.7 647.1v3.6M117.1 587.1h-3.4M183 647.1v3.6M117.1 584.9h-3.4M185 647.1v3.6M117.1 583h-3.4M186.8 647.1v3.6M117.1 581.3h-3.4M198.9 647.1v3.6M117.1 569.9h-3.4M205.1 647.1v3.6M117.1 564.1h-3.4M209.4 647.1v3.6M117.1 559.9h-3.4M212.8 647.1v3.6M117.1 556.7h-3.4M215.6 647.1v3.6M117.1 554.1h-3.4M217.9 647.1v3.6M117.1 551.9h-3.4M219.9 647.1v3.6M117.1 550h-3.4M221.7 647.1v3.6M117.1 548.3h-3.4M233.8 647.1v3.6M117.1 536.9h-3.4M240 647.1v3.6M117.1 531.1h-3.4M244.3 647.1v3.6M117.1 526.9h-3.4M247.7 647.1v3.6M117.1 523.7h-3.4M250.5 647.1v3.6M117.1 521.1h-3.4M252.8 647.1v3.6M117.1 518.9h-3.4M254.8 647.1v3.6M117.1 517h-3.4M256.6 647.1v3.6M117.1 515.3h-3.4" stroke="#000" stroke-width="1.9" fill="none"/>
<path d="M117.4 512.3V647.1" stroke="#000" stroke-width="2" fill="none"/>
<path d="M117.1 646.9H259" stroke="#000" stroke-width="2" fill="none"/>
<text class="tk" transform="translate(108.8 669) scale(0.65 1)">1</text>
<text class="tk" transform="translate(114.4 669) scale(0.87 1)">0</text>
<text class="tk" transform="translate(121.7 661.6) scale(0.87 1)">0</text>
<text class="tk" transform="translate(144.3 669) scale(0.65 1)">1</text>
<text class="tk" transform="translate(149.9 669) scale(0.87 1)">0</text>
<text class="tk" transform="translate(157.2 661.6) scale(0.87 1)">1</text>
<text class="tk" transform="translate(178.8 669) scale(0.65 1)">1</text>
<text class="tk" transform="translate(184.4 669) scale(0.87 1)">0</text>
<text class="tk" transform="translate(191.7 661.6) scale(0.87 1)">2</text>
<text class="tk" transform="translate(213.7 669) scale(0.65 1)">1</text>
<text class="tk" transform="translate(219.3 669) scale(0.87 1)">0</text>
<text class="tk" transform="translate(226.6 661.6) scale(0.87 1)">3</text>
<text class="tk" transform="translate(248 669) scale(0.65 1)">1</text>
<text class="tk" transform="translate(253.6 669) scale(0.87 1)">0</text>
<text class="tk" transform="translate(260.9 661.6) scale(0.87 1)">4</text>
<text class="tv" transform="translate(105.7 656.1) rotate(-90) scale(0.59 1)">1</text>
<text class="tv" transform="translate(105.7 649.5) rotate(-90) scale(0.84 1)">0</text>
<text class="tv" transform="translate(98.7 640.6) rotate(-90) scale(0.82 1.05)">0</text>
<text class="tv" transform="translate(105.7 623) rotate(-90) scale(0.59 1)">1</text>
<text class="tv" transform="translate(105.7 616.4) rotate(-90) scale(0.84 1)">0</text>
<text class="tv" transform="translate(98.7 607.5) rotate(-90) scale(0.82 1.05)">1</text>
<text class="tv" transform="translate(105.7 590.6) rotate(-90) scale(0.59 1)">1</text>
<text class="tv" transform="translate(105.7 584) rotate(-90) scale(0.84 1)">0</text>
<text class="tv" transform="translate(98.7 575.1) rotate(-90) scale(0.82 1.05)">2</text>
<text class="tv" transform="translate(105.7 557.6) rotate(-90) scale(0.59 1)">1</text>
<text class="tv" transform="translate(105.7 551) rotate(-90) scale(0.84 1)">0</text>
<text class="tv" transform="translate(98.7 542.1) rotate(-90) scale(0.82 1.05)">3</text>
<text class="tv" transform="translate(105.7 524) rotate(-90) scale(0.59 1)">1</text>
<text class="tv" transform="translate(105.7 517.4) rotate(-90) scale(0.84 1)">0</text>
<text class="tv" transform="translate(98.7 508.5) rotate(-90) scale(0.82 1.05)">4</text>
<path d="M354 632.5h.01M336.5 620.5h.01M367.5 621h.01M325.5 618.5h.01M330.5 612.5h.01M343.5 609h.01M345.5 627.5h.01M326.5 623h.01M353.5 613h.01M351 625.5h.01M354 630.5h.01M354 625.5h.01M368 614h.01M352 627.5h.01M355 618.5h.01M339.5 625h.01M365 623.5h.01M353.5 611.5h.01M326.5 609h.01M361 625h.01M334 629h.01M360 637.5h.01M360 619.5h.01M337.5 624h.01M342 622.5h.01M359.5 626.5h.01M362.5 614.5h.01M343.5 616.5h.01M339.5 620.5h.01M354 608h.01M346.5 622h.01M347.5 622h.01M332 608.5h.01M338.5 624.5h.01M337 616h.01M388.5 600.5h.01M361 618.5h.01M347 627.5h.01M357.5 621.5h.01M376.5 622.5h.01M333 633h.01M325.5 616.5h.01M352 628.5h.01M325.5 619h.01M342 619.5h.01M347 626h.01M325.5 620h.01M348.5 619.5h.01M360.5 614.5h.01M340 617h.01M325.5 616h.01M346.5 614h.01M361 627h.01M345.5 613.5h.01M338.5 617h.01M351.5 626.5h.01M327 635.5h.01M359 624h.01M337.5 624.5h.01M334 616h.01M356 635.5h.01M346.5 620h.01M342.5 620h.01M370.5 618.5h.01M364 614h.01M326 609h.01M350 622.5h.01M359 606h.01M336 625.5h.01M352.5 632.5h.01M331.5 620.5h.01M358 617h.01M359 613.5h.01M341 623h.01M342.5 623h.01M363 615h.01M325.5 617.5h.01M332 628h.01M365.5 612h.01M364 616h.01M373 628.5h.01M359 625.5h.01M338.5 631.5h.01M369 609h.01M359.5 624.5h.01M350 628h.01M343.5 610.5h.01M370 616h.01M358.5 621.5h.01M352.5 622h.01M354 625h.01M361.5 622.5h.01M350 621.5h.01M369 614.5h.01M336 627h.01M355.5 620h.01M344 619h.01M371 621.5h.01M367.5 624h.01M344 618.5h.01M346.5 624h.01M332 623h.01M341.5 620.5h.01M362 617h.01M364 619h.01M354 616.5h.01M357.5 614h.01M339.5 618h.01M350.5 612.5h.01M353.5 616h.01M348 612h.01M351 629h.01M352 615.5h.01M336 616h.01M325.5 607h.01M327.5 624h.01M343 630h.01M351.5 627h.01M328.5 636h.01M357 613h.01M343.5 619h.01M370 618h.01M363.5 614h.01M349.5 625.5h.01M325.5 626.5h.01M343 613.5h.01M342.5 634h.01M357 612.5h.01M352 618.5h.01M351.5 621h.01M367.5 626h.01M337 630.5h.01M340.5 625h.01M338.5 619h.01M362.5 629.5h.01M349.5 625h.01M338 623.5h.01M353 631.5h.01M369 621h.01M337.5 631h.01M362.5 616h.01M372.5 610h.01M378 618h.01M361 623h.01M349.5 622.5h.01M348.5 620h.01M348 620.5h.01M350 623.5h.01M337.5 623.5h.01M357 615.5h.01M363 604.5h.01M333 615h.01M329 624.5h.01M336 620h.01M366 610.5h.01M352.5 614h.01M353.5 629h.01M371 624.5h.01M340 621h.01M334 625h.01M358 627h.01M338.5 632h.01M353.5 623h.01M371.5 627.5h.01M355 625.5h.01M347 617.5h.01M328 611.5h.01M346 620.5h.01M345 618h.01M330 628.5h.01M342 618.5h.01M369.5 627.5h.01M325.5 623h.01M325.5 622h.01M334 620.5h.01M374 621h.01M325.5 628h.01M332.5 630.5h.01M354 619.5h.01M362 615h.01M345.5 624.5h.01M340.5 621h.01M338 631.5h.01M380.5 611h.01M343.5 623.5h.01M342.5 617.5h.01M343 635.5h.01M351 617h.01M328 630h.01M346 628h.01M326.5 625.5h.01M366.5 622.5h.01M356.5 623.5h.01M376 620.5h.01M390.5 617h.01M332.5 614.5h.01M368.5 613.5h.01M328.5 612h.01M359.5 613h.01M333 619.5h.01M364 620h.01M350.5 623.5h.01M345 620.5h.01M384 621.5h.01M340 627.5h.01M353.5 619.5h.01M340 632h.01M375 621.5h.01M337 619h.01M334.5 622.5h.01M325.5 624.5h.01M325.5 615.5h.01M346.5 623h.01M346.5 630.5h.01M346.5 621h.01M359 626h.01M339 621.5h.01M349.5 620.5h.01M350 615.5h.01M350 619h.01M344 631h.01M354.5 624h.01M344.5 629.5h.01M371 613.5h.01M341.5 617.5h.01M360 607h.01M349.5 614.5h.01M344 623h.01M330.5 617h.01M333 627h.01M344.5 611.5h.01M363 622h.01M330.5 630.5h.01M347 615.5h.01M358.5 622h.01M335 618h.01M364.5 621h.01M343.5 611.5h.01M338.5 612h.01M341.5 621h.01M358.5 616h.01M338.5 621.5h.01M347 620.5h.01M346 615h.01M360.5 629h.01M346.5 626h.01M325.5 620.5h.01M355 624h.01M351.5 620.5h.01M361 611.5h.01M329.5 631h.01M352.5 622.5h.01M349 624h.01M357.5 616.5h.01M342 620.5h.01M345.5 616.5h.01M351.5 618.5h.01M357 620h.01M340.5 614.5h.01M340.5 629.5h.01M335 620.5h.01M340 623.5h.01M350 618h.01M343.5 624h.01M328.5 624.5h.01M331.5 625.5h.01M358 607h.01M346 627.5h.01M332.5 615.5h.01M362 614.5h.01M358 624.5h.01M358.5 624h.01M333 613h.01M326 610.5h.01M331.5 616h.01M341 612.5h.01M340.5 620h.01M353.5 623.5h.01M328.5 625.5h.01M335 619.5h.01M325.5 613.5h.01M376 620h.01M334.5 625.5h.01M334 628h.01M365.5 636.5h.01M334 621.5h.01M327 610h.01M341 622.5h.01M335.5 613h.01M334 626h.01M356.5 628.5h.01M372 623h.01M345 609.5h.01M325.5 608.5h.01M336.5 625.5h.01M359.5 609.5h.01M345.5 620h.01M347.5 621.5h.01M350.5 620.5h.01M336 627.5h.01M338 620h.01M354 621h.01M356.5 619.5h.01M361.5 622h.01M339 616h.01M331 612.5h.01M340 625h.01M356.5 609.5h.01M332 623.5h.01M358.5 603.5h.01M325.5 623.5h.01M338 629h.01M377.5 618.5h.01M350.5 623h.01M365.5 616h.01M342.5 624.5h.01M353.5 621h.01M332.5 624h.01M337 612h.01M339 613.5h.01M341.5 612h.01M353.5 620h.01M337.5 621h.01M351 614h.01M330.5 626h.01M334 625.5h.01M366.5 631.5h.01M366.5 624h.01M354 611h.01M344.5 615.5h.01M344 620h.01M348.5 614h.01M348 630.5h.01M338 611h.01M336 617.5h.01M337.5 618h.01M368 606.5h.01M346 621.5h.01M363 617.5h.01M373 623.5h.01M360.5 619h.01M342.5 618h.01M336.5 601.5h.01M348.5 624h.01M343 623h.01M335.5 627.5h.01M365.5 621h.01M356 623.5h.01M340.5 624h.01M383 613h.01M361.5 629.5h.01M334 615h.01M349.5 623h.01M332 631.5h.01M333.5 625.5h.01M347 617h.01M353 615h.01M341.5 609.5h.01M351 618h.01M351.5 627.5h.01M366.5 613h.01M360 619h.01M333 616.5h.01M349.5 605.5h.01M336.5 623.5h.01M338.5 625.5h.01M329.5 624h.01M347.5 607.5h.01M374 612.5h.01M332.5 617h.01M360 616h.01M337.5 613h.01M344.5 623.5h.01M373.5 614.5h.01M353 611h.01M344 632h.01M367 620.5h.01M349 622.5h.01M339.5 630.5h.01M349.5 630h.01M349.5 617h.01M367.5 620h.01M325.5 638.5h.01M347.5 617h.01M325.5 610h.01M349.5 607h.01M331.5 629.5h.01M366 613h.01M328.5 614.5h.01M358.5 619h.01M337 623h.01M340.5 621.5h.01M346 611.5h.01M329 605h.01M339 616.5h.01M331 615.5h.01M331.5 604h.01M353 612.5h.01M355 624.5h.01M349 613h.01M363 631h.01M361 629h.01M374.5 614h.01M344.5 621h.01M356 619.5h.01M358 621.5h.01M367 633.5h.01M348 617.5h.01M351.5 611.5h.01M342.5 626h.01M348 623.5h.01M360 620h.01M332.5 631.5h.01M376 625.5h.01M366 622.5h.01M343 620h.01M325.5 627h.01M351 628h.01M332 629.5h.01M369.5 621h.01M325.5 629.5h.01M347.5 621h.01M359 620.5h.01M351 615h.01M337 617.5h.01M346 625h.01M353 627.5h.01M336 618.5h.01M356 623h.01M338 618h.01M349 620h.01M336.5 632h.01M341 614.5h.01M349 623h.01M343.5 610h.01M347.5 616h.01M336 622h.01M349.5 619h.01M372.5 622h.01M347.5 617.5h.01M330 622h.01M359.5 623.5h.01M365.5 611.5h.01M353.5 617h.01M352.5 607.5h.01M360.5 622h.01M332.5 628.5h.01M351 617.5h.01M352 617.5h.01M357.5 622h.01M363 629h.01M326.5 638h.01M370 618.5h.01M371.5 610h.01M348.5 623h.01M349 621.5h.01M370.5 624h.01M352 620.5h.01M351.5 619h.01M352 617h.01M331 622h.01M347 601.5h.01M333 625h.01M356.5 629h.01M365.5 629.5h.01M329 610.5h.01M345 621.5h.01M336.5 612h.01M340 630.5h.01M350.5 631.5h.01M371.5 628.5h.01M351 625h.01M325.5 628.5h.01M352.5 624.5h.01M364 618.5h.01M352.5 618.5h.01M343 614h.01M348 635h.01M349 620.5h.01M353.5 622.5h.01M330 625.5h.01M358 622h.01M348 614h.01M335 615h.01M358.5 623h.01M357.5 623h.01M331 613h.01M334 633.5h.01M359.5 620h.01M349.5 621h.01M361 628.5h.01M337 628.5h.01M352 613.5h.01M373.5 621h.01M333.5 617.5h.01M335.5 618h.01M340.5 617.5h.01M358.5 613.5h.01M359.5 629h.01M357.5 615h.01M375 622h.01M351.5 602.5h.01M355 621h.01M361 619h.01M369 622h.01M358.5 609h.01M339 610h.01M327.5 623.5h.01M327 620.5h.01M341 621h.01M334 617.5h.01M339.5 624.5h.01M350 613h.01M359.5 616h.01M332.5 618h.01M330 618.5h.01M352 634h.01M328 616.5h.01M345 616.5h.01M339.5 612h.01M339 622h.01M325.5 631.5h.01M347.5 610h.01M336 612h.01M381.5 629.5h.01M353.5 625h.01M351 623.5h.01M355.5 630h.01M359.5 625.5h.01M374.5 613h.01M358 613h.01M339 630h.01M328 634h.01M345 623h.01M348 622.5h.01M344.5 614.5h.01M367 620h.01M338.5 624h.01M325.5 630.5h.01M327 618h.01M344 621h.01M338 622.5h.01M358 616h.01M344.5 622.5h.01M350 627h.01M330.5 624h.01M340.5 620.5h.01M357.5 619h.01M366.5 621h.01M363 616h.01M337 621.5h.01M335 634.5h.01M364.5 622h.01M369 630.5h.01M342 613.5h.01M355.5 610h.01M365.5 626.5h.01M334 611.5h.01M340 618h.01M337.5 618.5h.01M354.5 626.5h.01M373.5 619h.01M342 618h.01M338.5 627h.01M335 619h.01M361 608.5h.01M326 619h.01M326.5 608.5h.01M359 627.5h.01M371.5 631.5h.01M351 616h.01M359 623h.01M369.5 624.5h.01M335.5 629h.01M339 633h.01M342 623h.01M347.5 624.5h.01M344.5 608.5h.01M347 621h.01M333.5 614.5h.01M335.5 605h.01M337 606.5h.01M352 610.5h.01M339 618.5h.01M338 629.5h.01M362 619.5h.01M335.5 622.5h.01M346 607h.01M351.5 620h.01M354.5 615.5h.01M348.5 616.5h.01M333.5 623.5h.01M352 619h.01M337.5 629.5h.01M364 628h.01M357.5 630.5h.01M350.5 619.5h.01M360.5 623.5h.01M352 626h.01M361 609.5h.01M333.5 621h.01M335.5 612.5h.01M342 616h.01M358.5 628h.01M367 614h.01M338 619h.01M348.5 609.5h.01M353 612h.01M353.5 615h.01M339 623h.01M361.5 619.5h.01M344 622.5h.01M335.5 619h.01M345.5 623h.01M350 619.5h.01M353.5 630h.01M367.5 620.5h.01M350 617h.01M364.5 615.5h.01M352 624h.01M331 608h.01M344.5 644h.01M347.5 611h.01M361.5 620.5h.01M337.5 619.5h.01M345 619.5h.01M351.5 623.5h.01M334 621h.01M358 629.5h.01M361.5 626h.01M372 618.5h.01M348.5 609h.01M342.5 625h.01M368 623.5h.01M336 620.5h.01M349 618.5h.01M357.5 620h.01M352 607h.01M333 604.5h.01M339 620.5h.01M390.5 612h.01M359 614.5h.01M340 626h.01M356.5 614h.01M332 620h.01M338 618.5h.01M343 629h.01M333.5 616h.01M340 632.5h.01M362.5 623.5h.01M335.5 621h.01M366.5 621.5h.01M348 626h.01M339.5 631.5h.01M337.5 613.5h.01M345 622.5h.01M345.5 627h.01M332 611.5h.01M347.5 620h.01M357 623h.01M353.5 626.5h.01M358 631h.01M353.5 631h.01M374 628h.01M327 631.5h.01M348 618h.01M354.5 628h.01M345.5 621.5h.01M356 610h.01M366 609h.01M374 642h.01M367 617.5h.01M354 630h.01M357.5 633h.01M365.5 646.5h.01M361 646.5h.01M353.5 632.5h.01M352.5 639h.01M364 632.5h.01M347.5 610.5h.01M331 611.5h.01M334.5 617.5h.01M325.5 611.5h.01M346 637h.01M359.5 614.5h.01M336.5 621h.01M334 622.5h.01M370 642h.01M370.5 645h.01M338 622h.01M341.5 642.5h.01M357 627h.01M362 633h.01M381.5 635h.01M373 636.5h.01M353.5 638.5h.01M337 610.5h.01M361 623.5h.01M325.5 646.5h.01M391.5 639h.01M338.5 610h.01M343.5 619.5h.01M365 629.5h.01M350.5 638.5h.01M349.5 599h.01M365 646.5h.01M340 628.5h.01M345.5 614.5h.01M344 646h.01M347 600.5h.01M355 634.5h.01M367 624.5h.01M375.5 583.5h.01M358.5 611h.01M368.5 622h.01M345.5 616h.01M337.5 646.5h.01M347.5 613.5h.01M366 605.5h.01M339.5 602h.01M371.5 646.5h.01M344 611h.01M358 637h.01M378.5 642.5h.01M356.5 620h.01M345 632.5h.01M364 627.5h.01M337.5 619h.01M330 633h.01M370 641h.01M351 631.5h.01M341 637.5h.01M350 624.5h.01M358.5 631h.01M358.5 613h.01M338.5 622.5h.01M350.5 637h.01M339 625h.01M354.5 623h.01M350.5 636h.01M356 630.5h.01M345 636h.01M345.5 637h.01M346 619h.01M340 635h.01M375 641h.01M330.5 640.5h.01M367 635.5h.01M342 626.5h.01M336 622.5h.01M392 634h.01M360 628h.01M347.5 599.5h.01M346.5 593h.01M338.5 633.5h.01M348 646.5h.01M361.5 619h.01M356 626.5h.01M343 593.5h.01M362 624h.01M339.5 609h.01M350 638h.01M344.5 600h.01M361 632h.01M331 615h.01M333 646.5h.01M338 615.5h.01M349.5 632.5h.01M351.5 642.5h.01M358 622.5h.01M362.5 626.5h.01M340 606.5h.01M357.5 612h.01M325.5 634.5h.01M338.5 631h.01M329 626h.01M366 628.5h.01M348.5 628h.01M354.5 623.5h.01M352 631.5h.01M343.5 594.5h.01M367 641h.01M339 623.5h.01M367.5 643.5h.01M325.5 640h.01M328.5 633h.01M347 608h.01M333 642.5h.01M361.5 631.5h.01M371 623.5h.01M350 627.5h.01M339.5 606h.01M360.5 632.5h.01M349 616.5h.01M346.5 608h.01M358.5 641h.01M342.5 613.5h.01M343.5 621.5h.01M354.5 617h.01M353 637.5h.01M360 627.5h.01M351.5 633.5h.01M354.5 602.5h.01M338.5 598.5h.01M325.5 606.5h.01M338.5 612.5h.01M325.5 627.5h.01M356 627.5h.01M339 626h.01M368 612h.01M366.5 646.5h.01M357 646.5h.01M368 619.5h.01M340.5 613h.01M350 640h.01M342 632h.01M357 628.5h.01M354.5 616h.01M362 615.5h.01M326.5 616h.01M350.5 614.5h.01M325.5 600h.01M350.5 645h.01M371 613h.01M366 624.5h.01M355 617h.01M349.5 624h.01M325.5 631h.01M365 633.5h.01M372.5 627.5h.01M351.5 646.5h.01M361 644.5h.01M354.5 619.5h.01M346.5 631h.01M353.5 622h.01M368 637h.01M349 644h.01M325.5 636h.01M340 617.5h.01M337.5 607h.01M326 600h.01M349.5 619.5h.01M369.5 632.5h.01M364.5 643.5h.01M358 630.5h.01M332.5 616.5h.01M366.5 644h.01M338.5 633h.01M339.5 626.5h.01M366 634h.01M337 615.5h.01M386 632h.01M333.5 605h.01M334 629.5h.01M363 636h.01M343 622h.01M326 632h.01M350.5 646h.01M337 616.5h.01M364.5 646.5h.01M363.5 621.5h.01M332 630.5h.01M344.5 620.5h.01M374 645.5h.01M357.5 646.5h.01M349.5 641h.01M325.5 610.5h.01M352.5 629h.01M336.5 617h.01M350 602h.01M335 607h.01M341 630.5h.01M341 624.5h.01M353.5 597h.01M371.5 644h.01M350 646.5h.01M339.5 644.5h.01M370 646.5h.01M362 612h.01M346.5 631.5h.01M359.5 597.5h.01M346 634.5h.01M355 632.5h.01M345 641.5h.01M344.5 617h.01M347.5 605h.01M349 626.5h.01M343.5 605h.01M365 625.5h.01M339 631.5h.01M337 610h.01M346.5 640h.01M338.5 613.5h.01M351.5 624h.01M343 627h.01M360 627h.01M338 644h.01M364.5 634h.01M332 645h.01M352.5 646.5h.01M371 644h.01M358.5 646.5h.01M332 614h.01M350.5 630h.01M354 608.5h.01M345 621h.01M344.5 644.5h.01M325.5 596h.01M357 634.5h.01M345.5 605h.01M325.5 612h.01M354 636h.01M329.5 609.5h.01M367.5 633h.01M358.5 614.5h.01M392.5 643.5h.01M343 630.5h.01M347 613h.01M364.5 618.5h.01M338 639h.01M370.5 646.5h.01M336 626h.01M372.5 641.5h.01M330 613h.01M356 617h.01M371 629.5h.01M348.5 635h.01M369 643h.01M373.5 642h.01M363.5 643.5h.01M356.5 633h.01M364 641h.01M348 613.5h.01M363 642.5h.01M351 610.5h.01M336 636h.01M349.5 643h.01M336 631h.01M353 642.5h.01M340.5 609.5h.01M366.5 639.5h.01M379.5 614h.01M331.5 626h.01M386.5 643.5h.01M325.5 590.5h.01M378 623.5h.01M360.5 640.5h.01M337.5 639h.01M379 646.5h.01M356.5 621.5h.01M363.5 645.5h.01M364.5 619.5h.01M359 617.5h.01M330 642.5h.01M390.5 639.5h.01M344.5 615h.01M387 635.5h.01M344.5 646.5h.01M353 609h.01M333.5 633.5h.01M350 611.5h.01M358.5 609.5h.01M335.5 639h.01M393.5 621h.01M339 588.5h.01M359 646.5h.01M367 646.5h.01M346 601h.01M348.5 627.5h.01M332.5 629h.01M362.5 646.5h.01M338 612.5h.01M364.5 626h.01M365.5 618h.01M347 646.5h.01M352 642h.01M369 623h.01M362.5 639.5h.01M353 610.5h.01M339 600.5h.01M327 606.5h.01M359.5 610.5h.01M381 622.5h.01M358.5 617.5h.01M372 646.5h.01M347.5 607h.01M352.5 630.5h.01M345 638h.01M368 631.5h.01M329.5 621.5h.01M362.5 600.5h.01M341 620.5h.01M357 633h.01M372.5 625h.01M341.5 643h.01M333 617h.01M359 644.5h.01M344.5 619.5h.01M341.5 624.5h.01M380 629h.01M339 638h.01M335 609.5h.01M365.5 619.5h.01M341 645h.01M347.5 631h.01M348 641.5h.01M370 612h.01M340 624h.01M344 626h.01M332.5 613h.01M332.5 622.5h.01M361.5 629h.01M374 630h.01M325.5 604.5h.01M341.5 627h.01M387.5 628h.01M353 639h.01M357 631.5h.01M341 601h.01M360 638h.01M375 643h.01M351.5 617.5h.01M357.5 637.5h.01M364.5 615h.01M361.5 628h.01M331.5 616.5h.01M325.5 603h.01M347.5 629.5h.01M354 615h.01M341.5 599h.01M325.5 617h.01M339.5 636.5h.01M333.5 624.5h.01M343 596h.01M325.5 632h.01M350 622h.01M342 634.5h.01M343.5 615.5h.01M376.5 636.5h.01M355 627h.01M378.5 636.5h.01M364.5 633h.01M341.5 620h.01M373.5 629h.01M342.5 609.5h.01M331.5 624h.01M403 641h.01M400 633h.01M371.5 618h.01M358 624h.01M402.5 619.5h.01M390.5 621.5h.01M407.5 612h.01M376 604h.01M345.5 622.5h.01M409 635.5h.01M399 614.5h.01M403 623.5h.01M407 635.5h.01M373 624.5h.01M377 634.5h.01M408.5 623h.01M383.5 618h.01M397 635.5h.01M423.5 637.5h.01M411.5 638.5h.01M403.5 631h.01M407.5 627h.01M400 620h.01M393 632h.01M395.5 614h.01M392.5 609.5h.01M425.5 614h.01M420.5 615h.01M396 623.5h.01M435.5 620h.01M384.5 639h.01M405 640h.01M409 633h.01M399 639.5h.01M401 620h.01M372 628.5h.01M389.5 643.5h.01M402 631.5h.01M376 611h.01M393.5 618h.01M389 633h.01M389 641h.01M375.5 615.5h.01M389 610h.01M400 624h.01M405.5 628.5h.01M442 625.5h.01M385.5 617.5h.01M416 605.5h.01M417.5 625h.01M388.5 633.5h.01M390.5 614h.01M385 622h.01M370 637.5h.01M410 639.5h.01M443.5 636h.01M418.5 616h.01M411.5 617h.01M381.5 627h.01M375 626.5h.01M420 628h.01M404 610.5h.01M409.5 632.5h.01M410 629.5h.01M411.5 640h.01M405 633.5h.01M383.5 621h.01M437.5 635.5h.01M398.5 604h.01M426.5 635.5h.01M419.5 638.5h.01M420 614.5h.01M364.5 607.5h.01M390 613.5h.01M373.5 629.5h.01M363.5 622.5h.01M424 620h.01M408.5 617h.01M391.5 622.5h.01M432 613.5h.01M417.5 646.5h.01M378.5 619.5h.01M397.5 632.5h.01M417 630h.01M423.5 613h.01M401 611h.01M396 638h.01M374 636.5h.01M401 604h.01M398 610.5h.01M396 635.5h.01M395.5 626h.01M398 635.5h.01M402.5 629.5h.01M346 639h.01M414 630h.01M399.5 625h.01M413.5 625h.01M387.5 631h.01M369 635.5h.01M403 614h.01M413 625h.01M383.5 638.5h.01M411.5 627.5h.01M385.5 621h.01M432 616.5h.01M433.5 610.5h.01M383 609h.01M410.5 622h.01M384 633h.01M399 616.5h.01M404 613.5h.01M414.5 625h.01M427 630.5h.01M393.5 613h.01M434 636.5h.01M412 633.5h.01M377.5 630h.01M399.5 638h.01M382.5 615h.01M417 621h.01M413 623.5h.01M417.5 617.5h.01M379 597.5h.01M412 626.5h.01M403 615.5h.01M387 638h.01M367.5 621.5h.01M408.5 627.5h.01M412 627h.01M380.5 621.5h.01M394.5 637h.01M411 640.5h.01M410 623h.01M382.5 612.5h.01M389 640h.01M381.5 606.5h.01M383.5 643h.01M391.5 625h.01M402 626.5h.01M390 611h.01M401 624h.01M399 646.5h.01M388.5 619h.01M432.5 606.5h.01M426 638.5h.01M394 626.5h.01M387.5 635h.01M400 627h.01M379 633.5h.01M405.5 614.5h.01M408 624h.01M403.5 625.5h.01M411 630h.01M421 636h.01M406 611.5h.01M425.5 615.5h.01M391.5 616h.01M399 629.5h.01M399.5 614h.01M420 615.5h.01M387 623h.01M367.5 613h.01M394.5 634h.01M376 624.5h.01M401.5 625.5h.01M393 631.5h.01M374 633h.01M399.5 618.5h.01M391.5 634h.01M426.5 610h.01M382 636h.01M432 614.5h.01M404.5 638h.01M407.5 602.5h.01M377 615h.01M408 592h.01M406 626h.01M403 617h.01M375.5 612h.01M401 612.5h.01M398.5 646.5h.01M380 633h.01M371 633h.01M377 627h.01M399.5 624.5h.01M381.5 621h.01M419.5 636h.01M398 638.5h.01M384.5 620h.01M398.5 644.5h.01M400 636h.01M415.5 622h.01M421 613.5h.01M348 618.5h.01M388.5 618h.01M355 618h.01M393.5 640h.01M404.5 628.5h.01M402 641h.01M408.5 646.5h.01M409.5 617h.01M423 638.5h.01M406 613h.01M409.5 631h.01M373.5 622h.01M401.5 616h.01M406 627h.01M427 642h.01M382.5 623h.01M375.5 646.5h.01M405.5 625.5h.01M371.5 645h.01M394 610.5h.01M418 626.5h.01M430 626.5h.01M380.5 607h.01M405 628h.01M375.5 614.5h.01M395.5 621.5h.01M408.5 629.5h.01M390 633h.01M416.5 631.5h.01M407.5 603.5h.01M393 604h.01M408 623.5h.01M390.5 597.5h.01M410.5 636.5h.01M397.5 621.5h.01M414.5 613.5h.01M408 640h.01M398 630.5h.01M387.5 638h.01M404 628.5h.01M379 620.5h.01M408.5 623.5h.01M377 635.5h.01M399 612.5h.01M409.5 624h.01M421.5 628h.01M397.5 627.5h.01M347 618.5h.01M418 630h.01M375.5 603h.01M407 631.5h.01M392 630.5h.01M401.5 611.5h.01M405.5 618h.01M376.5 631.5h.01M434 629.5h.01M425.5 600h.01M422 614.5h.01M426.5 632h.01M418.5 624.5h.01M352 632.5h.01M417.5 637h.01M401 609.5h.01M391.5 628h.01M391 632h.01M361 635.5h.01M387 638.5h.01M405.5 627h.01M394.5 616h.01M381 615h.01M407 626.5h.01M411 599.5h.01M411 619.5h.01M395.5 614.5h.01M374 622.5h.01M403.5 636.5h.01M417.5 591.5h.01M418 636.5h.01M395.5 622.5h.01M355 536h.01M369 527h.01M368 565.5h.01M361 588.5h.01M344.5 531h.01M368.5 532h.01M362 591.5h.01M380.5 574h.01M361 601.5h.01M355 581.5h.01M337.5 543h.01M329 622h.01M356 584h.01M341.5 568h.01M332.5 584.5h.01M367.5 559.5h.01M350.5 575h.01M362.5 587h.01M329 575.5h.01M364 535.5h.01M344 575h.01M355.5 563h.01M375 546h.01M334.5 569h.01M334 591.5h.01M325.5 547h.01M325.5 586.5h.01M339.5 600h.01M341 565h.01M363 550.5h.01M325.5 588h.01M372.5 552.5h.01M368.5 577h.01M348 590.5h.01M335.5 581h.01M364 598.5h.01M332.5 585h.01M339 591.5h.01M353.5 605h.01M370 562.5h.01M381 538h.01M354.5 567.5h.01M378.5 534h.01M350.5 632h.01M378.5 571h.01M338.5 576.5h.01M369 580.5h.01M371 540h.01M337 609.5h.01M325.5 573h.01M378.5 575.5h.01M368 537.5h.01M381.5 560h.01M375 572h.01M325.5 579.5h.01M375 553.5h.01M362 573.5h.01M342.5 590.5h.01M339 574h.01M327.5 592h.01M383 576h.01M348 573.5h.01M346.5 535h.01M344 590h.01M368 557.5h.01M346 587.5h.01M373 565h.01M331 581h.01M352 570.5h.01M361 557h.01M345 567.5h.01M353 574.5h.01M357 567h.01M362 593h.01M362.5 588.5h.01M340.5 571h.01M353 569.5h.01M373.5 636.5h.01M369.5 606h.01M332.5 559.5h.01M352.5 627h.01M328.5 589h.01M386.5 522.5h.01M337.5 603.5h.01M374.5 573h.01M347 568.5h.01M353.5 548h.01M347.5 563.5h.01M379.5 559.5h.01M370 590.5h.01M332.5 541.5h.01M340 587.5h.01M360.5 571h.01M363.5 567h.01M361.5 533.5h.01M377.5 562h.01M325.5 582.5h.01M327 581.5h.01M348.5 581h.01M361.5 567h.01M360 553.5h.01M345.5 593h.01M345 608.5h.01M371.5 581.5h.01M347 546.5h.01M349.5 562h.01M356 556h.01M354 533h.01M346.5 572.5h.01M354 573h.01M352 587.5h.01M347 574.5h.01M361.5 579h.01M387.5 574.5h.01M352.5 578.5h.01M379 586.5h.01M368 607h.01M353 589h.01M341.5 580.5h.01M347 566.5h.01M336.5 591.5h.01M352.5 636h.01M399 575h.01M355.5 542h.01M374 562.5h.01M332.5 576.5h.01M349.5 532.5h.01M349 556h.01M339.5 579h.01M350.5 577.5h.01M348.5 598h.01M337 539.5h.01M353.5 604.5h.01M364.5 590h.01M338 566h.01M345.5 562h.01M373 559.5h.01M374 625.5h.01M346 616.5h.01M342 606h.01M363 557.5h.01M349.5 596h.01M325.5 585.5h.01M343.5 577.5h.01M339.5 530.5h.01M365.5 557h.01M354.5 568h.01M352 579.5h.01M380.5 586.5h.01M350 527h.01M328 544h.01M328.5 583h.01M352.5 598h.01M408.5 579h.01M367 590.5h.01M390.5 588.5h.01M384 565.5h.01M348 538.5h.01M343.5 558h.01M350.5 575.5h.01M337.5 589h.01M353.5 586.5h.01M352 609h.01M363.5 577h.01M344.5 519h.01M343.5 561.5h.01M343 579.5h.01M374 577h.01M361.5 546h.01M378.5 598h.01M354 590h.01M361 589h.01M357 596h.01M381.5 574h.01M368.5 582h.01M359 579.5h.01M352 574h.01M365.5 574h.01M363 596h.01M330 544.5h.01M325.5 559h.01M330 589.5h.01M325.5 561.5h.01M344 554.5h.01M356 584.5h.01M345.5 559.5h.01M382.5 571h.01M379 558.5h.01M374.5 589h.01M352.5 592.5h.01M340 536.5h.01M388 607.5h.01M369 602.5h.01M336 635.5h.01M350 592h.01M334.5 606h.01M325.5 554.5h.01M369 530h.01M367.5 632h.01M358 607.5h.01M366 593h.01M365 584.5h.01M359.5 581.5h.01M345 565h.01M338.5 553.5h.01M344.5 595.5h.01M327.5 541h.01M328 563h.01M335.5 586h.01M358 566.5h.01M361 605.5h.01M375.5 568.5h.01M340.5 582.5h.01M343 544.5h.01M340 578h.01M360.5 567.5h.01M374.5 579h.01M346 584.5h.01M338.5 565.5h.01M353.5 564.5h.01M325.5 614.5h.01M386 573h.01M355 612.5h.01M371.5 627h.01M359.5 581h.01M380.5 597.5h.01M326 616h.01M358.5 548.5h.01M356 565h.01M325.5 605h.01M353 587.5h.01M352.5 589h.01M377 577h.01M352.5 585.5h.01M376 618.5h.01M338.5 573h.01M337.5 547h.01M358.5 602h.01M334 573.5h.01M357 565h.01M388.5 548.5h.01M351.5 595h.01M375.5 607h.01M372 594.5h.01M403.5 575h.01M354 584h.01M370.5 570.5h.01M344.5 569.5h.01M367 596h.01M350.5 571h.01M355 571.5h.01M384.5 608h.01M337 555.5h.01M340.5 592.5h.01M361 539.5h.01M372.5 578h.01M352.5 573.5h.01M352 568h.01M338.5 571h.01M363 581h.01M363.5 578h.01M373.5 571.5h.01M342 615.5h.01M351 538.5h.01M334.5 612h.01M377 563.5h.01M357 601h.01M353 571.5h.01M398 560h.01M366.5 574h.01M338 578.5h.01M342.5 600h.01M331 555h.01M370 583.5h.01M339.5 566.5h.01M347 587.5h.01M384 558h.01M372.5 601.5h.01M362.5 572.5h.01M339 577.5h.01M325.5 582h.01M367 598h.01M350.5 585h.01M338.5 584.5h.01M335 589.5h.01M357 594h.01M341.5 578h.01M346 604h.01M342.5 588h.01M368 584.5h.01M325.5 571.5h.01M348 561.5h.01M376 604.5h.01M333 575h.01M347.5 565h.01M325.5 599h.01M344.5 572h.01M350 566.5h.01M325.5 548.5h.01M349.5 538.5h.01M374.5 595h.01M344 583h.01M378.5 580.5h.01M366.5 553h.01M367.5 574.5h.01M343.5 601h.01M368.5 576h.01M344 580.5h.01M372.5 557h.01M350 573.5h.01M358.5 605h.01M333.5 579h.01M336.5 598h.01M356 592.5h.01M325.5 572.5h.01M336.5 607.5h.01M361 543.5h.01M350 602.5h.01M343 532h.01M340.5 560.5h.01M361.5 531.5h.01M354.5 570h.01M354 569h.01M337.5 569h.01M344 540h.01M390.5 571h.01M374.5 530h.01M342 577.5h.01M341.5 552.5h.01M363 566.5h.01M352 607.5h.01M338 579.5h.01M387.5 556.5h.01M374 595h.01M338.5 596.5h.01M353.5 578h.01M385.5 546h.01M375 595.5h.01M325.5 604h.01M332.5 535h.01M362.5 578h.01M348.5 555.5h.01M340.5 525.5h.01M355 534.5h.01M338 559.5h.01M326.5 574h.01M356 600.5h.01M379 591h.01M347 606.5h.01M340 601h.01M385.5 577.5h.01M389 595h.01M414 569h.01M363 577.5h.01M418 579.5h.01M400 555.5h.01M378 534h.01M374 549h.01M396.5 570h.01M424 615.5h.01M410 580.5h.01M407 606h.01M400 557.5h.01M398.5 531h.01M427.5 547h.01M398 605h.01M399.5 603.5h.01M401.5 566.5h.01M393 551h.01M394 559h.01M398 599h.01M370 566h.01M404.5 555.5h.01M386.5 544h.01M386.5 569.5h.01M400.5 529.5h.01M350 590.5h.01M384.5 574h.01M382 611.5h.01M405 567h.01M431.5 590.5h.01M415 619.5h.01M407.5 579h.01M372.5 555h.01M386 576h.01M393 600h.01M399 600h.01M387.5 604h.01M390 560h.01M380 563h.01M420.5 541h.01M401 557.5h.01M377.5 581h.01M403.5 586.5h.01M388.5 546h.01M402.5 564h.01M391 566h.01M398 633h.01M384 575h.01M395 580.5h.01M399 587h.01M402 577h.01M397.5 576h.01M379 579h.01M415 557h.01M397 571.5h.01M392.5 598.5h.01M407.5 551.5h.01M438.5 544h.01M398 567h.01M406 564.5h.01M376.5 572.5h.01M424 533h.01M401 611.5h.01M402 554.5h.01M381 591h.01M381.5 580h.01M387.5 589h.01M413.5 599h.01M437.5 532h.01M389.5 564.5h.01M393.5 573h.01M388 575h.01M433 572h.01M399 543.5h.01M407 569h.01M392.5 568h.01M384 599.5h.01M401 566h.01M394 576h.01M386 591.5h.01M402 607h.01M409.5 566h.01M383.5 591.5h.01M411 562.5h.01M390.5 604.5h.01M412.5 565h.01M426.5 555.5h.01M384.5 561h.01M372.5 567.5h.01M406 605.5h.01M390 595h.01M415 602.5h.01M403 565h.01M367.5 592.5h.01M407.5 561.5h.01M372 562.5h.01M436.5 536.5h.01M385 589.5h.01M384 607h.01M430.5 546.5h.01M376 610.5h.01M407.5 552.5h.01M406 553h.01M384.5 568h.01M381 579.5h.01M390 571.5h.01M394.5 548h.01M357.5 560.5h.01M393.5 580h.01M326.5 619.5h.01M325.5 624h.01M326.5 613.5h.01M325.5 612.5h.01M325.5 622.5h.01M326.5 624h.01M325.5 637.5h.01M325.5 643.5h.01M325.5 603.5h.01M326.5 611.5h.01M325.5 621h.01M325.5 626h.01M326.5 603.5h.01M325.5 636.5h.01M325.5 614h.01M326.5 606h.01M325.5 601.5h.01M325.5 635h.01M325.5 613h.01M326.5 605.5h.01M326.5 618h.01M326.5 629.5h.01M325.5 642h.01M325.5 609h.01M326.5 631h.01M326.5 644.5h.01M326.5 622.5h.01M325.5 646h.01M326.5 605h.01M325.5 618h.01M326.5 631.5h.01M325.5 609.5h.01M326.5 640h.01M326.5 646.5h.01M325.5 565.5h.01M325.5 558.5h.01M326.5 601.5h.01M325.5 570h.01M325.5 587.5h.01M326.5 622h.01M326.5 559.5h.01M326.5 579.5h.01M325.5 576.5h.01M326.5 606.5h.01M325.5 579h.01M326.5 581h.01M325.5 581.5h.01M325.5 568h.01M325.5 567h.01M326.5 596h.01M325.5 573.5h.01M325.5 557.5h.01M325.5 597h.01M326.5 592h.01M325.5 550h.01M326.5 586.5h.01M325.5 566.5h.01M325.5 556.5h.01M326.5 562h.01M326.5 570h.01M325.5 595.5h.01M325.5 593h.01M325.5 589.5h.01" fill="none" stroke="#000" stroke-width="1.9" stroke-linecap="square"/>
<rect x="324" y="513.1" width="141.7" height="134.7" fill="none" stroke="#000" stroke-width="1.8"/>
<path d="M375.8 513.1V647.8M324 596.2H465.7" stroke="#000" stroke-width="1.8" fill="none"/>
<path d="M325.5 647.8v7M324 646.5h-6.5M360.4 647.8v7M324 613.5h-6.5M395.2 647.8v7M324 580.5h-6.5M430 647.8v7M324 547.6h-6.5M464.9 647.8v7M324 514.6h-6.5" stroke="#000" stroke-width="1.5" fill="none"/>
<path d="M336 647.8v3.6M324 636.6h-3.4M342.1 647.8v3.6M324 630.8h-3.4M346.5 647.8v3.6M324 626.6h-3.4M349.9 647.8v3.6M324 623.5h-3.4M352.6 647.8v3.6M324 620.8h-3.4M355 647.8v3.6M324 618.6h-3.4M357 647.8v3.6M324 616.7h-3.4M358.8 647.8v3.6M324 615h-3.4M370.8 647.8v3.6M324 603.6h-3.4M377 647.8v3.6M324 597.8h-3.4M381.3 647.8v3.6M324 593.7h-3.4M384.7 647.8v3.6M324 590.5h-3.4M387.5 647.8v3.6M324 587.9h-3.4M389.8 647.8v3.6M324 585.7h-3.4M391.8 647.8v3.6M324 583.7h-3.4M393.6 647.8v3.6M324 582.1h-3.4M405.7 647.8v3.6M324 570.6h-3.4M411.8 647.8v3.6M324 564.8h-3.4M416.2 647.8v3.6M324 560.7h-3.4M419.6 647.8v3.6M324 557.5h-3.4M422.3 647.8v3.6M324 554.9h-3.4M424.7 647.8v3.6M324 552.7h-3.4M426.7 647.8v3.6M324 550.8h-3.4M428.5 647.8v3.6M324 549.1h-3.4M440.5 647.8v3.6M324 537.6h-3.4M446.7 647.8v3.6M324 531.8h-3.4M451 647.8v3.6M324 527.7h-3.4M454.4 647.8v3.6M324 524.5h-3.4M457.2 647.8v3.6M324 521.9h-3.4M459.5 647.8v3.6M324 519.7h-3.4M461.5 647.8v3.6M324 517.8h-3.4M463.3 647.8v3.6M324 516.1h-3.4" stroke="#000" stroke-width="1.9" fill="none"/>
<path d="M324.3 513.1V647.8" stroke="#000" stroke-width="2" fill="none"/>
<path d="M324 647.6H465.7" stroke="#000" stroke-width="2" fill="none"/>
<text class="tk" transform="translate(315.7 669.7) scale(0.65 1)">1</text>
<text class="tk" transform="translate(321.3 669.7) scale(0.87 1)">0</text>
<text class="tk" transform="translate(328.6 662.3) scale(0.87 1)">0</text>
<text class="tk" transform="translate(351.2 669.7) scale(0.65 1)">1</text>
<text class="tk" transform="translate(356.8 669.7) scale(0.87 1)">0</text>
<text class="tk" transform="translate(364.1 662.3) scale(0.87 1)">1</text>
<text class="tk" transform="translate(385.7 669.7) scale(0.65 1)">1</text>
<text class="tk" transform="translate(391.3 669.7) scale(0.87 1)">0</text>
<text class="tk" transform="translate(398.6 662.3) scale(0.87 1)">2</text>
<text class="tk" transform="translate(420.6 669.7) scale(0.65 1)">1</text>
<text class="tk" transform="translate(426.2 669.7) scale(0.87 1)">0</text>
<text class="tk" transform="translate(433.5 662.3) scale(0.87 1)">3</text>
<text class="tk" transform="translate(454.9 669.7) scale(0.65 1)">1</text>
<text class="tk" transform="translate(460.5 669.7) scale(0.87 1)">0</text>
<text class="tk" transform="translate(467.8 662.3) scale(0.87 1)">4</text>
<text class="tv" transform="translate(312.6 656.8) rotate(-90) scale(0.59 1)">1</text>
<text class="tv" transform="translate(312.6 650.2) rotate(-90) scale(0.84 1)">0</text>
<text class="tv" transform="translate(305.6 641.3) rotate(-90) scale(0.82 1.05)">0</text>
<text class="tv" transform="translate(312.6 623.7) rotate(-90) scale(0.59 1)">1</text>
<text class="tv" transform="translate(312.6 617.1) rotate(-90) scale(0.84 1)">0</text>
<text class="tv" transform="translate(305.6 608.2) rotate(-90) scale(0.82 1.05)">1</text>
<text class="tv" transform="translate(312.6 591.3) rotate(-90) scale(0.59 1)">1</text>
<text class="tv" transform="translate(312.6 584.7) rotate(-90) scale(0.84 1)">0</text>
<text class="tv" transform="translate(305.6 575.8) rotate(-90) scale(0.82 1.05)">2</text>
<text class="tv" transform="translate(312.6 558.3) rotate(-90) scale(0.59 1)">1</text>
<text class="tv" transform="translate(312.6 551.7) rotate(-90) scale(0.84 1)">0</text>
<text class="tv" transform="translate(305.6 542.8) rotate(-90) scale(0.82 1.05)">3</text>
<text class="tv" transform="translate(312.6 524.7) rotate(-90) scale(0.59 1)">1</text>
<text class="tv" transform="translate(312.6 518.1) rotate(-90) scale(0.84 1)">0</text>
<text class="tv" transform="translate(305.6 509.2) rotate(-90) scale(0.82 1.05)">4</text>
<text class="h" x="125.9" y="28.8">DO10<tspan dy="-3.5">+</tspan></text>
<text class="h" x="314" y="29.2">DO10<tspan dy="-4.8">+</tspan><tspan dy="4.8"> Stat5a</tspan><tspan dy="-6.6">-/-</tspan></text>
<text class="r" x="1.8" y="164.6">Th0</text>
<text class="r" x="1.8" y="380.2">Th1</text>
<text class="r" x="1.8" y="596.3">Th2</text>
<text class="p" x="80.5" y="58.3">A</text>
<text class="p" x="290.5" y="58.0">B</text>
<text class="p" x="81.3" y="275.0">C</text>
<text class="p" x="291" y="275.0">D</text>
<text class="p" x="80.4" y="490.9">E</text>
<text class="p" x="291" y="490.9">F</text>
<text class="n" text-anchor="end" x="156.7" y="73">21.1</text>
<text class="n" text-anchor="end" x="361.3" y="71.5">18.6</text>
<text class="n" text-anchor="end" x="161.6" y="289.8">59.9</text>
<text class="n" text-anchor="end" x="362.5" y="290.2">71.8</text>
<text class="n" text-anchor="end" x="153.5" y="505.6">1.9</text>
<text class="n" text-anchor="end" x="364.3" y="504.4">13.5</text>
<text class="n" text-anchor="end" x="252.2" y="100.1">0.2</text>
<text class="n" text-anchor="end" x="253" y="206.1">0.1</text>
<text class="n" text-anchor="end" x="460.1" y="101.8">0.0</text>
<text class="n" text-anchor="end" x="457.2" y="208.8">0.1</text>
<text class="n" text-anchor="end" x="257.1" y="314.4">0.9</text>
<text class="n" text-anchor="end" x="255.9" y="422.7">0.5</text>
<text class="n" text-anchor="end" x="457" y="316.8">0.3</text>
<text class="n" text-anchor="end" x="461.6" y="421.7">0.0</text>
<text class="n" text-anchor="end" x="255.1" y="533.5">4.7</text>
<text class="n" text-anchor="end" x="255.7" y="640.4">29.6</text>
<text class="n" text-anchor="end" x="460.1" y="534.4">4.3</text>
<text class="n" text-anchor="end" x="463" y="640.9">12.3</text>
<text class="ax" transform="translate(135 715.7) scale(.96 1)">IL-4</text>
<path d="M183.6 705.9H428" stroke="#000" stroke-width="1.9" fill="none"/>
<path d="M426.8 699V712.8L443.3 705.9z" fill="#000"/>
<text class="ax" transform="translate(513.4 632.5) rotate(-90)">IFN<tspan dx="-1">-</tspan><tspan dx="-0.5" dy="1.2" font-size="20.5">γ</tspan></text>
<path d="M505.9 554.6V121" stroke="#000" stroke-width="1.8" fill="none"/>
<path d="M499.1 121.9H512.9L506 106.2z" fill="#000"/>
</svg></body></html>
